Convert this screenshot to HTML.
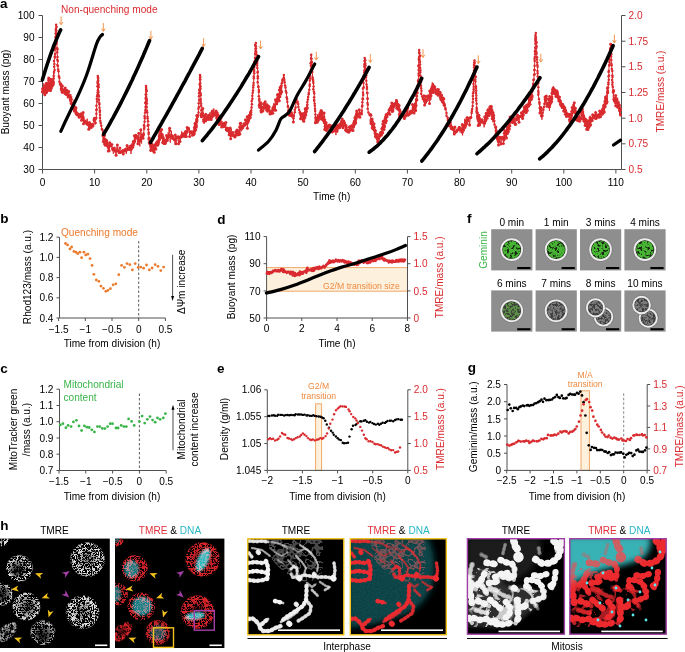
<!DOCTYPE html>
<html><head><meta charset="utf-8"><style>
html,body{margin:0;padding:0;background:#fff;width:685px;height:652px;overflow:hidden;}
svg{display:block;}
text{font-family:"Liberation Sans",sans-serif;font-size:10.1px;}
</style></head><body>
<svg width="685" height="652" viewBox="0 0 685 652">
<defs>
<radialGradient id="rg"><stop offset="0" stop-color="#fff" stop-opacity="0.5"/><stop offset="0.7" stop-color="#fff" stop-opacity="0.95"/><stop offset="0.9" stop-color="#fff" stop-opacity="0.85"/><stop offset="1" stop-color="#fff" stop-opacity="0"/></radialGradient>
<radialGradient id="rgA" cx="0.5" cy="0.5" r="0.5" fx="0.35" fy="0.6"><stop offset="0" stop-color="#fff" stop-opacity="0.1"/><stop offset="0.45" stop-color="#fff" stop-opacity="0.5"/><stop offset="0.85" stop-color="#fff" stop-opacity="1"/><stop offset="1" stop-color="#fff" stop-opacity="0.2"/></radialGradient>
<radialGradient id="rgR"><stop offset="0" stop-color="#fff" stop-opacity="0.15"/><stop offset="0.6" stop-color="#fff" stop-opacity="0.5"/><stop offset="0.85" stop-color="#fff" stop-opacity="1"/><stop offset="1" stop-color="#fff" stop-opacity="0.1"/></radialGradient>
<radialGradient id="rgD" cx="0.5" cy="0.5" r="0.5" fx="0.6" fy="0.5"><stop offset="0" stop-color="#fff" stop-opacity="0.25"/><stop offset="0.5" stop-color="#fff" stop-opacity="0.7"/><stop offset="0.9" stop-color="#fff" stop-opacity="0.95"/><stop offset="1" stop-color="#fff" stop-opacity="0.1"/></radialGradient>
<radialGradient id="rgF" cx="0.5" cy="0.5" r="0.5" fx="0.5" fy="0.7"><stop offset="0" stop-color="#fff" stop-opacity="0.1"/><stop offset="0.55" stop-color="#fff" stop-opacity="0.45"/><stop offset="0.85" stop-color="#fff" stop-opacity="0.9"/><stop offset="1" stop-color="#fff" stop-opacity="0.1"/></radialGradient>
<radialGradient id="rgr"><stop offset="0" stop-color="#e8262c" stop-opacity="0.2"/><stop offset="0.55" stop-color="#e8262c" stop-opacity="0.9"/><stop offset="0.9" stop-color="#e8262c" stop-opacity="1"/><stop offset="1" stop-color="#e8262c" stop-opacity="0"/></radialGradient>
<filter id="tq0" x="0" y="0" width="1" height="1"><feTurbulence type="turbulence" baseFrequency="0.42" numOctaves="2" seed="3" result="n"/><feColorMatrix in="n" type="matrix" values="0 0 0 0 1 0 0 0 0 1 0 0 0 0 1 -6 0 0 0 2.2" result="m"/><feComposite in="SourceGraphic" in2="m" operator="in"/><feGaussianBlur stdDeviation="0.4"/></filter>
<filter id="tq1" x="0" y="0" width="1" height="1"><feTurbulence type="turbulence" baseFrequency="0.42" numOctaves="2" seed="11" result="n"/><feColorMatrix in="n" type="matrix" values="0 0 0 0 1 0 0 0 0 1 0 0 0 0 1 -6 0 0 0 2.2" result="m"/><feComposite in="SourceGraphic" in2="m" operator="in"/><feGaussianBlur stdDeviation="0.4"/></filter>
<filter id="tq2" x="0" y="0" width="1" height="1"><feTurbulence type="turbulence" baseFrequency="0.42" numOctaves="2" seed="23" result="n"/><feColorMatrix in="n" type="matrix" values="0 0 0 0 1 0 0 0 0 1 0 0 0 0 1 -6 0 0 0 2.2" result="m"/><feComposite in="SourceGraphic" in2="m" operator="in"/><feGaussianBlur stdDeviation="0.4"/></filter>
<filter id="tw0" x="0" y="0" width="1" height="1"><feTurbulence type="turbulence" baseFrequency="0.42" numOctaves="2" seed="3" result="n"/><feColorMatrix in="n" type="matrix" values="0 0 0 0 1 0 0 0 0 1 0 0 0 0 1 -7 0 0 0 2.1" result="m"/><feComposite in="SourceGraphic" in2="m" operator="in"/><feGaussianBlur stdDeviation="0.4"/></filter>
<filter id="tw1" x="0" y="0" width="1" height="1"><feTurbulence type="turbulence" baseFrequency="0.42" numOctaves="2" seed="11" result="n"/><feColorMatrix in="n" type="matrix" values="0 0 0 0 1 0 0 0 0 1 0 0 0 0 1 -7 0 0 0 2.1" result="m"/><feComposite in="SourceGraphic" in2="m" operator="in"/><feGaussianBlur stdDeviation="0.4"/></filter>
<filter id="tw2" x="0" y="0" width="1" height="1"><feTurbulence type="turbulence" baseFrequency="0.42" numOctaves="2" seed="23" result="n"/><feColorMatrix in="n" type="matrix" values="0 0 0 0 1 0 0 0 0 1 0 0 0 0 1 -7 0 0 0 2.1" result="m"/><feComposite in="SourceGraphic" in2="m" operator="in"/><feGaussianBlur stdDeviation="0.4"/></filter>
<filter id="spotg0" x="0" y="0" width="1" height="1"><feTurbulence type="fractalNoise" baseFrequency="0.4" numOctaves="2" seed="5" result="n"/><feColorMatrix in="n" type="matrix" values="0 0 0 0 1 0 0 0 0 1 0 0 0 0 1 6 0 0 0 -2.0" result="m"/><feComposite in="SourceGraphic" in2="m" operator="in"/><feGaussianBlur stdDeviation="0.45"/></filter>
<filter id="spotg1" x="0" y="0" width="1" height="1"><feTurbulence type="fractalNoise" baseFrequency="0.4" numOctaves="2" seed="17" result="n"/><feColorMatrix in="n" type="matrix" values="0 0 0 0 1 0 0 0 0 1 0 0 0 0 1 6 0 0 0 -2.0" result="m"/><feComposite in="SourceGraphic" in2="m" operator="in"/><feGaussianBlur stdDeviation="0.45"/></filter>
<filter id="spot0" x="0" y="0" width="1" height="1"><feTurbulence type="fractalNoise" baseFrequency="0.45" numOctaves="2" seed="5" result="n"/><feColorMatrix in="n" type="matrix" values="0 0 0 0 1 0 0 0 0 1 0 0 0 0 1 6 0 0 0 -2.3" result="m"/><feComposite in="SourceGraphic" in2="m" operator="in"/><feGaussianBlur stdDeviation="0.4"/></filter>
<filter id="spot1" x="0" y="0" width="1" height="1"><feTurbulence type="fractalNoise" baseFrequency="0.45" numOctaves="2" seed="17" result="n"/><feColorMatrix in="n" type="matrix" values="0 0 0 0 1 0 0 0 0 1 0 0 0 0 1 6 0 0 0 -2.3" result="m"/><feComposite in="SourceGraphic" in2="m" operator="in"/><feGaussianBlur stdDeviation="0.4"/></filter>
<filter id="mw" x="0" y="0" width="1" height="1"><feTurbulence type="turbulence" baseFrequency="0.09" numOctaves="1" seed="3" result="n"/><feColorMatrix in="n" type="matrix" values="0 0 0 0 1 0 0 0 0 1 0 0 0 0 1 -12 0 0 0 1.9" result="l"/><feTurbulence type="fractalNoise" baseFrequency="0.1" numOctaves="1" seed="9" result="n2"/><feColorMatrix in="n2" type="matrix" values="0 0 0 0 1 0 0 0 0 1 0 0 0 0 1 10 0 0 0 -4.3" result="k"/><feComposite in="l" in2="k" operator="in" result="lk"/><feComposite in="SourceGraphic" in2="lk" operator="in"/><feGaussianBlur stdDeviation="0.5"/></filter>
<filter id="mw2" x="0" y="0" width="1" height="1"><feTurbulence type="turbulence" baseFrequency="0.16" numOctaves="1" seed="6" result="n"/><feColorMatrix in="n" type="matrix" values="0 0 0 0 1 0 0 0 0 1 0 0 0 0 1 -14 0 0 0 1.8" result="l"/><feComposite in="SourceGraphic" in2="l" operator="in"/><feGaussianBlur stdDeviation="0.6"/></filter>
<filter id="cyn" x="-0.1" y="-0.1" width="1.2" height="1.2"><feGaussianBlur in="SourceGraphic" stdDeviation="3" result="b"/><feTurbulence type="fractalNoise" baseFrequency="0.6" numOctaves="2" seed="4" result="n"/><feColorMatrix in="n" type="matrix" values="1 0 0 0 0 1 0 0 0 0 1 0 0 0 0 0 0 0 0 1" result="g"/><feComposite in="b" in2="g" operator="arithmetic" k1="0.7" k2="0.5" k3="0" k4="0"/></filter>
<filter id="blur1"><feGaussianBlur stdDeviation="1.2"/></filter>
<filter id="blur2"><feGaussianBlur stdDeviation="2"/></filter>
<filter id="blur3"><feGaussianBlur stdDeviation="3"/></filter>
<filter id="blur05"><feGaussianBlur stdDeviation="0.5"/></filter>
<filter id="blur07"><feGaussianBlur stdDeviation="0.7"/></filter>
</defs>
<text x="0" y="7.9" font-weight="bold" style="font-size:13.5px">a</text>
<line x1="42.5" y1="15.5" x2="42.5" y2="169.5" stroke="#505050" stroke-width="1"/>
<line x1="38.5" y1="169.5" x2="42.5" y2="169.5" stroke="#505050" stroke-width="1"/>
<text x="34.5" y="173.1" text-anchor="end">30</text>
<line x1="38.5" y1="147.5" x2="42.5" y2="147.5" stroke="#505050" stroke-width="1"/>
<text x="34.5" y="151.1" text-anchor="end">40</text>
<line x1="38.5" y1="125.5" x2="42.5" y2="125.5" stroke="#505050" stroke-width="1"/>
<text x="34.5" y="129.1" text-anchor="end">50</text>
<line x1="38.5" y1="103.5" x2="42.5" y2="103.5" stroke="#505050" stroke-width="1"/>
<text x="34.5" y="107.1" text-anchor="end">60</text>
<line x1="38.5" y1="81.5" x2="42.5" y2="81.5" stroke="#505050" stroke-width="1"/>
<text x="34.5" y="85.1" text-anchor="end">70</text>
<line x1="38.5" y1="59.5" x2="42.5" y2="59.5" stroke="#505050" stroke-width="1"/>
<text x="34.5" y="63.1" text-anchor="end">80</text>
<line x1="38.5" y1="37.5" x2="42.5" y2="37.5" stroke="#505050" stroke-width="1"/>
<text x="34.5" y="41.1" text-anchor="end">90</text>
<line x1="38.5" y1="15.5" x2="42.5" y2="15.5" stroke="#505050" stroke-width="1"/>
<text x="34.5" y="19.1" text-anchor="end">100</text>
<line x1="621.5" y1="15.5" x2="621.5" y2="169.5" stroke="#505050" stroke-width="1"/>
<line x1="621.5" y1="169.5" x2="625.5" y2="169.5" stroke="#505050" stroke-width="1"/>
<text x="628.5" y="173.1" fill="#d92b2f">0.5</text>
<line x1="621.5" y1="143.8" x2="625.5" y2="143.8" stroke="#505050" stroke-width="1"/>
<text x="628.5" y="147.4" fill="#d92b2f">0.75</text>
<line x1="621.5" y1="118.2" x2="625.5" y2="118.2" stroke="#505050" stroke-width="1"/>
<text x="628.5" y="121.8" fill="#d92b2f">1.0</text>
<line x1="621.5" y1="92.5" x2="625.5" y2="92.5" stroke="#505050" stroke-width="1"/>
<text x="628.5" y="96.1" fill="#d92b2f">1.25</text>
<line x1="621.5" y1="66.8" x2="625.5" y2="66.8" stroke="#505050" stroke-width="1"/>
<text x="628.5" y="70.4" fill="#d92b2f">1.5</text>
<line x1="621.5" y1="41.2" x2="625.5" y2="41.2" stroke="#505050" stroke-width="1"/>
<text x="628.5" y="44.8" fill="#d92b2f">1.75</text>
<line x1="621.5" y1="15.5" x2="625.5" y2="15.5" stroke="#505050" stroke-width="1"/>
<text x="628.5" y="19.1" fill="#d92b2f">2.0</text>
<line x1="42.5" y1="169.5" x2="621.5" y2="169.5" stroke="#505050" stroke-width="1"/>
<line x1="42.5" y1="169.5" x2="42.5" y2="173.5" stroke="#505050" stroke-width="1"/>
<text x="42.5" y="185.5" text-anchor="middle">0</text>
<line x1="94.6" y1="169.5" x2="94.6" y2="173.5" stroke="#505050" stroke-width="1"/>
<text x="94.6" y="185.5" text-anchor="middle">10</text>
<line x1="146.8" y1="169.5" x2="146.8" y2="173.5" stroke="#505050" stroke-width="1"/>
<text x="146.8" y="185.5" text-anchor="middle">20</text>
<line x1="198.9" y1="169.5" x2="198.9" y2="173.5" stroke="#505050" stroke-width="1"/>
<text x="198.9" y="185.5" text-anchor="middle">30</text>
<line x1="251" y1="169.5" x2="251" y2="173.5" stroke="#505050" stroke-width="1"/>
<text x="251" y="185.5" text-anchor="middle">40</text>
<line x1="303.1" y1="169.5" x2="303.1" y2="173.5" stroke="#505050" stroke-width="1"/>
<text x="303.1" y="185.5" text-anchor="middle">50</text>
<line x1="355.3" y1="169.5" x2="355.3" y2="173.5" stroke="#505050" stroke-width="1"/>
<text x="355.3" y="185.5" text-anchor="middle">60</text>
<line x1="407.4" y1="169.5" x2="407.4" y2="173.5" stroke="#505050" stroke-width="1"/>
<text x="407.4" y="185.5" text-anchor="middle">70</text>
<line x1="459.5" y1="169.5" x2="459.5" y2="173.5" stroke="#505050" stroke-width="1"/>
<text x="459.5" y="185.5" text-anchor="middle">80</text>
<line x1="511.7" y1="169.5" x2="511.7" y2="173.5" stroke="#505050" stroke-width="1"/>
<text x="511.7" y="185.5" text-anchor="middle">90</text>
<line x1="563.8" y1="169.5" x2="563.8" y2="173.5" stroke="#505050" stroke-width="1"/>
<text x="563.8" y="185.5" text-anchor="middle">100</text>
<line x1="615.9" y1="169.5" x2="615.9" y2="173.5" stroke="#505050" stroke-width="1"/>
<text x="615.9" y="185.5" text-anchor="middle">110</text>
<text x="331.7" y="199.8" text-anchor="middle">Time (h)</text>
<text x="9" y="92" text-anchor="middle" transform="rotate(-90 9 92)">Buoyant mass (pg)</text>
<text x="663.5" y="91.5" text-anchor="middle" fill="#d92b2f" transform="rotate(-90 663.5 91.5)">TMRE/mass (a.u.)</text>
<text x="61" y="13" fill="#d92b2f">Non-quenching mode</text>
<polyline fill="none" stroke="#d92b2f" stroke-width="1" points="42.4,91.7 42.6,88.8 42.6,89.1 43.1,91.2 43.3,90.5 43.4,90.2 43.3,92.4 43.8,91.1 43.7,83.4 44,87.7 44.3,89.1 44.6,86.9 44.7,90.4 44.8,94.8 45.1,93 45.1,86.3 45.4,88.4 45.7,89.5 45.7,85.3 45.9,92.7 46.1,89.2 46.4,83.2 46.5,92.6 46.4,87 46.9,85.2 47.1,87.6 47,90.6 47.5,90.8 47.8,88.8 47.8,83 48,85.2 48,82.9 48.1,85.3 48.6,80.1 48.4,87.7 49,88.7 48.7,78.1 49.2,84 49.1,89.8 49.6,86.9 49.7,87.7 50.1,88.2 50.1,87.9 49.9,90.2 50.4,87.5 50.1,83.3 50.6,79.2 50.6,88.6 50.5,90.5 50.9,84.3 51,86.9 51.1,88.4 51.1,82.9 51.4,84.3 51.3,87.2 51.7,82.3 51.4,83.2 51.7,82.5 52.1,79.8 52.2,78.9 52,85.1 52.4,85.8 52.4,83.2 52.5,84.5 52.5,83.3 52.8,82.2 52.9,83.9 53.2,82.9 53,80.4 53.1,84.6 53.2,82.6 53.7,72.4 53.3,81.2 53.7,78.4 53.7,75.9 54,72.1 54.6,70 54.2,66.8 54.4,64 54,60.9 54.9,57.5 54.9,56.4 55.2,54 54.9,49.7 55.2,47.7 55.6,42.3 55.7,40.5 55.6,37.7 55.6,37.1 55.6,33.5 55.9,30.7 55.8,29 56.1,24.8 56.6,26.9 56.3,30.5 56.3,34.1 56.5,36.9 56.2,38.1 56.8,41.4 56.6,43.8 57.2,48.3 57.4,49.6 57.2,52.2 57.5,57.1 57.3,59.7 57.8,61.1 57.4,65 57.9,66.1 58.1,69.6 58.5,71.2 58.9,76.2 59.4,77.9 59.4,81.8 60,84.3 60.5,83.8 60.2,84 60.5,87.6 61,84.4 61.2,88.7 61.5,90.4 61.7,90.2 62.2,92.2 62.3,90.7 62.4,85.9 62.8,91.9 63.3,89.4 63.8,89.7 64.1,90.8 64.8,90.7 65,93.5 65.2,88 65.6,94.4 65.8,90.4 66.4,94.5 66.6,95 66.9,90.3 66.9,92.1 67.5,92.8 67.5,92.7 67.7,94.8 68,96.5 68.1,96.9 68.7,91.4 69.2,96.2 69,95.1 69.7,96.6 70,100.2 70.3,99.5 70.6,100.8 70.8,94.1 71.1,103.4 71.2,99.2 71.7,96.4 71.7,107.7 71.7,103.7 72.3,102 72.3,105.1 72.3,103 72.7,105.9 72.9,103.7 72.9,103.7 73.4,105.4 73.4,103.4 74.1,109 74,99.8 74.2,108.2 74.6,108.5 74.5,109.3 74.4,111 75,107 75.3,114 75.1,108 75.6,110.7 75.7,108.1 76.3,113.8 76,108.1 76.6,114.6 76.9,114.6 76.7,113.7 76.9,111.4 77.6,115.1 77.9,113.8 78.5,115.5 78.9,115.4 79.2,117.3 79.6,113.5 79.9,116 80.3,116.8 80.7,117.2 81.1,113.8 81.5,120.2 81.9,117.3 82.2,115.7 82.3,118.7 82.8,120.8 83.1,112.4 83.5,123.7 83.9,116.4 84.4,121.6 85.1,121 85.7,122.6 86,122.6 86.7,123.8 87.2,118.7 87.5,123.6 88,124.8 88.5,124.7 88.7,129.3 89.4,122.4 89.6,130.1 89.9,125.9 90.5,124 90.5,124.8 91.2,127.6 91.6,125.1 92.1,126.2 92.5,124.6 93,126 93.3,122.4 94,119.9 94.4,118.3 94.9,124.7 95.6,123 95.7,119 96.3,117.7 96.4,113.7 96.3,110 96.7,109.4 96.4,105.7 97.1,101.5 96.8,99.1 97.2,96.2 97.4,94.9 97.6,92.6 97.9,90.3 97.4,86.3 97.5,83.1 97.8,81.3 98,77.4 97.8,76 98.1,78.4 98.2,80.7 98.5,84.3 98.4,86.1 98.5,87.2 98.5,92 98.5,94.8 98.9,96.2 98.9,99.7 99.3,103.1 99.4,104.5 99.5,107.7 99.9,110.6 99.8,111.9 100,115 100,118.1 100.3,120.9 100.7,123.1 101.3,125.7 101.8,129.1 102.5,130.1 102.9,135.6 103.3,141.5 103.5,139.3 103.8,138.9 103.9,136.5 104.1,134.5 104.5,135.2 104.5,143.8 104.7,138.8 105.1,139.3 105,140.3 105.4,142 105.4,145.2 106,141.1 106,140.4 106.4,140.2 106.6,141.2 106.7,144.7 107.4,143.2 107.4,145.8 107.8,144.9 108.3,147.4 108.3,150.9 108.7,147.4 109,145.6 109.1,150.8 109.9,143.4 109.8,142.8 110.6,146.1 110.9,146.9 111.3,145.2 111.8,144.6 112.2,149.5 112.7,148.4 112.9,149.8 113.4,153.8 114.1,149.4 114.4,147.9 114.9,148.9 115.5,151.2 116.1,155.3 116.4,149.9 117.4,145.1 117.4,150.4 118,151.1 118.4,151.1 119,152.4 119.2,148.2 119.9,148 120.3,152.5 120.8,152.7 121.5,152.1 121.9,151.2 122.1,151.6 122.9,150.4 123.3,153.9 123.6,153.4 124.5,150.1 124.7,150.9 125.4,151.8 125.7,149 126.1,150.5 126.3,154 127.1,145.5 127.6,149.4 128.1,150.5 128.4,148.8 129.3,147.6 129.5,145.4 130,149.6 131,149.6 131,153.9 131.1,145.9 131.5,148.6 131.5,143.7 131.9,146.9 131.9,145.3 132.2,146.6 132.5,144.7 132.7,147.2 133.2,143.1 133.3,141.6 133.4,145.1 133.9,141.7 133.9,142.7 133.9,141.8 134.2,142.3 134.4,135.8 134.8,141.1 134.9,142.3 135.4,138.1 135.9,135.2 136.2,138.9 136.8,138.1 137.2,136.5 137.6,142.2 137.9,143.7 138.2,138 138.7,141 138.8,133.3 139.4,141.2 139.8,146.4 140,140.7 140.4,140.5 140.8,135.9 140.8,129.8 141.3,137.4 141.6,143.5 141.8,136.8 142,134.9 142.3,138.3 142.7,136.4 143,138.2 143.4,135 143.7,134.9 143.6,133.4 144.1,128.7 144.4,126.9 144,125.2 144.6,121.8 144.8,118.2 144.6,116.3 145.1,112.5 145.4,110.1 145.5,107 145.4,103 145.4,102.5 145.9,99 145.7,97.9 145.7,94.6 146.2,91.4 146.2,88.1 146,85.9 146.1,89.6 146.7,90.8 146.2,94.4 146.2,97.1 146.7,99.1 146.8,100.8 146.9,103.4 146.7,106.9 146.9,110.7 147.2,112.4 147.5,116.8 147.6,118.5 148,121.2 147.7,125.7 148.5,124.9 148.3,129.6 148.7,132.5 148.6,133.9 148.9,138.3 148.8,139.4 149.2,138 149.4,142.3 149.7,142.1 149.7,143.4 150,143.2 150.3,147.3 150.7,150.3 150.6,145.3 150.5,151.8 151,147.2 151.4,144.3 151.6,148.2 151.5,149.5 152.2,144.4 152.3,150.2 152.7,150.5 153.2,148.3 153.5,147.5 153.9,146 154.2,152.3 154.7,147 154.8,144.9 155.3,149 155.6,147.4 155.9,149.1 156.1,143.6 156.6,144.7 156.7,142.6 157,145.2 157.2,140 157.4,143.1 157.4,144.2 157.7,140.8 158,144.6 158,141.9 158.2,146.3 158.4,142.9 158.6,141.4 159.2,132.2 159,139.6 159.2,136.1 159.7,137.6 159.3,139.1 159.5,139.4 159.9,136.3 160.3,135.7 160.1,130.6 160.7,136.4 160.6,136.2 161,136.2 160.7,134.2 161.4,137.3 161.6,129.5 161.7,137.7 162.2,134.4 161.9,137.5 162.3,136.7 162.5,136.3 162.6,137.4 162.8,137.5 162.7,142.6 163.2,138.8 163.3,143.3 163.3,140.9 163.7,143 163.8,136.7 164.2,143.5 164.2,142.4 164.4,142.5 164.5,141.2 164.8,141.1 165,143.9 165.2,143.5 165.5,142.3 166.2,141.4 166.1,140.6 166.5,135.5 166.6,140 166.9,139.3 167.3,140.6 167.6,139.7 167.7,137.7 168,136.4 168.2,132.3 168.5,136.3 168.6,135.8 169.1,135 169.6,128.2 169.7,130.6 170.3,142.6 170.1,136.3 171,135.5 171.4,130.8 171.9,138 172.2,135.8 172.6,136.4 173,136.7 173,138.3 173.8,140.6 174,138.9 174.7,139.7 175.2,144.8 175.3,135 176,143.8 176.5,141.7 176.7,137.6 177.4,136.9 177.5,136.4 178.6,143.8 178.6,136.8 179.3,136.5 179.9,138.1 180,141.5 180.6,138.5 181.1,136.9 181.6,135.7 181.6,131.4 182.1,134.7 182.6,136.5 183,136.2 183.1,133.7 183.2,134.7 183.9,136.1 184.2,133.9 184.6,134 184.9,135.1 185.2,136.6 185.4,131.8 185.7,130.3 186.3,136.5 186.4,133.1 186.9,133.3 187.2,127.5 187.3,131.6 187.9,130.3 188,129.3 188.5,128.2 189.3,129 189.6,136.4 190.2,131.8 190.4,132.2 191.2,133 191.6,131.8 192,131.2 192.5,135.3 192.6,132 193.4,130.8 193.8,134.5 194.2,133.6 194.1,127.5 194.5,131.2 194.4,127.6 194.5,127.2 194.7,130.8 194.8,129.8 194.9,132.3 195,123.4 195.3,125.6 195.3,126.2 195.6,123.6 195.7,129.9 196,125.3 196,124.9 196.2,126.6 196.3,118 196.5,121.4 196.7,121.6 196.8,128.4 196.8,119.3 196.8,115.5 196.9,122.2 197.3,115.9 197.2,120.8 197.6,117.1 198,115.6 198.5,112.4 198.4,108.8 198.9,106.9 198.7,103.3 199.1,100 199,96.2 199.1,93.2 199.6,92.1 199.2,90 199.7,84.6 200,84 200.2,79.6 200,78.1 200,75.1 200.3,76.7 200,79.6 200.2,83.1 200.5,86.6 200.5,88.7 200.5,92.9 200.9,95.1 200.7,99.2 200.7,101.5 201.2,103.8 201.2,106.1 201.3,110.2 201,114.7 201.3,116.8 201.6,113.4 202,113.4 202.3,113.3 202.6,115.2 202.8,108.4 203.2,116.1 203,116.7 203.6,119.6 203.7,121.3 204.1,123.9 204.3,119.9 204.6,115.7 205.1,121.4 205.6,121 205.7,114.2 206.1,116.5 206.5,119.5 207.1,117 207.5,117.1 208,119.2 208.5,115.2 208.6,120.4 209.3,119.3 209.4,115.3 210.1,112.2 210.5,117.5 211.2,119.5 211.3,111.4 211.9,117.2 212.3,111.1 212.8,116.2 213.1,112.6 213.5,115.6 213.8,108.4 214.3,114.2 214.7,114.9 215,112.1 215.4,113.5 216.1,111 216.4,116.2 216.3,114.2 216.6,112.7 216.5,110.9 216.8,117.6 216.9,115.7 217,115.5 217,118.3 217.3,113.1 217.4,114.3 217.8,119.7 217.6,119.8 218.1,116.4 217.9,116.5 218.2,119.8 218.4,114.1 218.7,115.8 218.9,117.2 218.9,118.6 219,124.6 219.4,123.3 219.5,118.2 219.5,121.3 219.9,124.2 220.4,121.2 220.9,117.9 221.6,126.9 222,121.1 222,124.3 223.1,124.8 223.5,128.1 224,123.3 224.5,126.6 224.5,123.8 225,124.7 225.8,122.4 225.7,129 226.3,129.8 226.4,129.2 227.2,132.1 227.1,127.9 227.4,130.3 227.9,128.3 227.8,130.4 228.2,130.5 228.6,133.5 229.1,128.5 229.2,134.7 229.4,131.7 229.9,134.2 230.1,127.9 230.2,132.4 230.7,138.8 230.8,135.5 231.3,128.6 231.4,133.8 231.7,133.4 232.4,131.9 232.9,132.5 233.3,135.8 233.8,135.3 234.6,134.9 234.9,136.9 235.2,137.4 235.3,135.8 235.8,131.8 236.4,131.2 236.8,134.8 237,130.1 237.3,136.1 237.5,131.5 238.2,132 238,129.5 238.5,131.6 238.8,134.8 239,131.2 239.6,126.9 239.9,133.9 239.8,125.9 240.2,123.6 240.7,123.2 241.1,131.4 241.2,126.5 241.5,129 242.1,125.9 242.7,127.7 243,126 243.4,125.9 243.7,125.5 244,123.7 245,124.9 244.9,125 245.4,119.7 245.8,125.6 246.4,123.1 246.6,120.2 247.4,123.3 247.2,116.7 247.4,128.2 247.6,121 248,120.4 248.1,116.7 248.1,124.2 248.3,121.5 248.4,118.1 248.9,121 248.8,119.4 249.2,115.4 249.4,114.5 249.4,116.3 249.3,115.6 249.7,111.6 250,116.9 250.2,117.7 250.3,110.6 250.9,114.5 251,112.3 251.2,110.5 251.5,107.6 251.9,104.3 251.7,100.9 252.4,98.7 252.3,95.8 252.7,92.8 253,90.6 253.2,87.6 253.4,85.2 253.6,83 253.8,78.3 253.8,76.6 254.2,73.2 254,71.5 254.2,69.7 254.3,66.9 254.3,61.9 255,60.9 255,57.9 255.1,54 255.4,51.6 255.5,49.1 255.1,45 255.9,42.9 255.8,46.2 256,48.6 256.3,52.1 256.8,55 257,59.2 257.2,61.3 257,63.3 257.1,65.3 257.3,68.1 257.8,71.7 257.6,72.4 257.8,76.3 257.8,78.3 257.7,82.3 258.3,86.6 258.4,87 258.9,89.9 258.8,92.1 258.8,96.3 259.3,99.1 259.2,100.4 259.3,105.5 259.4,105 259.9,107.7 259.8,107.3 260,103 260,108.5 260.6,104.5 260.5,105.6 261.1,109.6 260.8,102.8 261,111.1 261.5,107.8 261.3,107.7 261.3,111.9 261.6,112.8 261.6,107.2 262.3,108.1 262.8,109.8 262.9,111 263.5,104 264.1,109.9 264.3,103.4 264.4,107 265.1,103.7 265.2,101.8 265.6,107.6 265.8,104.8 266.5,110.1 266.9,104.8 266.9,103.6 267.3,106.9 267.7,111.2 268,104.6 268.5,110.2 268.5,106.3 268.5,106 269.2,107 269.2,110 269.7,111.5 270.1,114.1 270.1,113.4 270.4,113.1 270.9,112.3 271.3,112.1 271.6,114.8 271.7,111.5 271.8,111.2 272.1,112 272.8,113.3 272.7,108.9 272.7,109.9 273.1,107.6 273.5,108.3 273.7,103.3 273.7,109.6 274,110 274.2,108.4 274.1,105.7 274.3,108.7 274.9,106.1 275,104.7 275.6,110.2 275.5,108.6 275.5,99.8 275.9,102.1 276.1,104.4 276.9,101.7 276.7,103.7 276.9,104.9 277.4,98.8 277.4,100.9 277.6,97.2 277.5,94.7 278,100.7 278.1,93.6 278.1,97.3 278.1,96.4 278.5,99.7 278.5,99.1 278.6,97.5 278.8,98.2 278.9,95.9 279,94.1 279.5,96.6 279.3,100.8 279.6,90.3 279.6,96 279.9,96.8 279.9,89.8 279.8,93.1 280.1,89.2 280.1,90.3 280.3,91.8 280.3,87.2 280.7,94.1 280.6,92.1 280.8,90.7 281,86.5 281.1,90.6 281,92.6 281.6,91.7 281.7,88.4 281.4,85.5 281.8,83.3 282.4,81 282.5,79.6 283.9,75 284,78 284.3,80.1 284.6,82.3 285.1,85.6 285.5,87.6 285.9,90.9 286.4,92.8 286.7,97.2 287.1,98.9 287.3,101.8 287.9,106 288,107 288.5,110.4 288.7,111.1 289.2,115.1 289.4,111.1 290,110.9 290.3,115.4 290.7,112.2 291.1,114.4 291.5,113.4 292,111.6 292.2,116.3 292.7,115.1 293,115.6 293.4,121.9 293.6,118.2 293.9,115.8 294.8,112.2 294.8,109.7 295.6,107.5 296,102.3 296.1,102.1 296.5,99.1 297.7,101.8 298.2,103.9 298.4,107 299.2,110 300,112.6 300.2,114.6 300.5,118.7 300.8,114.6 301,113.2 301.5,115.7 301.4,114.3 301.8,115.1 302.3,113.7 302.5,117.5 302.5,117.7 302.9,119.4 303.2,119.3 303.3,116.2 303.8,121.2 303.8,116.5 304.1,112.1 304,118.8 304.4,113.9 304.2,119.9 304.6,113.3 304.8,117.5 304.6,117.6 305.2,108.8 305.4,109.1 305.6,114.3 305.9,111.2 305.8,115 305.8,110 306,111.2 306.1,112.1 306.5,110.6 306.8,109.1 306.9,108 307,103.9 307.1,108 307.1,107.5 307.4,104.7 307.3,102.1 307.9,99.4 308.1,97 308.7,94.2 308.8,92.8 309.3,89.7 309.7,86 309.7,84.4 309.8,80.6 310.1,78.2 310.2,75.8 310.3,72.8 310.8,69.9 310.9,65.7 310.6,63.3 311.2,62.1 311,58.4 311.2,54.7 311.5,58.7 311.8,61.9 311.8,64.5 312.3,66.6 312.4,68.9 312.3,71.9 312.6,77.4 312.8,79.2 313.2,80.9 313.4,82.9 313.6,86.4 313.3,89.2 313.9,91.7 314.3,93.6 314.2,97.2 314.1,100.1 314.2,100.8 314.7,103.5 314.8,105.7 315,108.7 315.2,111 315.4,114.6 315.5,117.4 315.7,119 315.4,122.8 315.9,121.1 316.4,116.7 316.4,119.8 316.6,121.8 317,118.4 317.1,122.2 317.4,121.1 317.8,114.2 317.8,118.7 318.3,120.3 318.6,120.5 318.7,116.9 319.1,115.9 319.4,112.4 319.6,115.6 319.4,118.2 320,115.3 320.1,113.6 320.7,112.2 320.2,111.7 320.8,113.1 321.1,110.6 321.3,116.2 321.3,119 321.7,111.6 322,116.4 321.9,117.3 322,113.4 322.6,115.6 322.4,118.1 323,117.2 322.7,116.8 323.2,120.2 323.6,118 323.5,119 323.9,117.1 324.1,112.9 324.2,118.8 324.3,122.8 324.3,121.3 324.7,123.5 324.7,119.8 324.7,129.5 325.1,122.8 325.1,126.3 325.5,128 325.8,124.8 326,122.4 326,124.2 326.1,126.2 326.4,130.4 326.1,125.4 326.7,126.4 327.4,128.7 327.9,126.5 328.5,128.7 328.7,127.2 329.3,124.9 330,128.2 330.5,125.9 331,126 331.6,130.3 332.3,132 332.4,127.6 332.9,129.8 333.8,131 333.7,126.1 334.3,130.8 335,130.4 335.8,127.7 335.9,135.1 336.3,127.6 336.2,125.2 336.4,128.9 337.1,130.9 337.3,126.1 337.5,132.4 337.6,127.5 338.2,128.2 338.4,127.5 338.8,125.4 338.9,124.9 339.1,124.4 339.5,125.1 340,127.5 340,125.2 340.4,125.2 340.6,123.5 340.8,120.4 341.3,125.4 341.5,122.7 341.7,120 341.7,122.4 342.2,118.9 342.3,124.1 342.5,125.8 343.1,127.8 343.2,122 343.5,122.9 343.8,121 344.3,121.3 344.3,125.3 344.6,123.1 345,123.8 345.1,124.9 345.5,130 345.6,128.6 346,125.5 346.3,127.6 346.8,131.9 346.8,131.3 347.3,130.3 347.4,131 347.7,130 348,131.3 348.5,132.9 348.7,132.3 349.3,127 349.7,125.6 350,130.3 350.6,129.2 350.7,126.1 351,129.9 351.5,125.7 352.1,125.3 352.3,125.8 353,130.5 353.2,122.3 353.4,126.1 353.6,126.9 353.6,127.4 354,125 353.9,122.8 354.3,120.7 354.3,121.1 354.3,124.1 354.6,122.2 354.9,117.7 355,121.9 355.3,117.8 355.4,120.8 355.7,122.7 355.7,124.8 355.8,117.6 355.9,115.8 356.1,112.9 356.2,118.4 356.6,115.9 356.8,114.7 356.7,111 356.8,113.3 357.6,116.5 357.7,116.3 358.4,114.1 358.9,113.7 359.3,109.7 359.8,117.2 360.5,113 360.7,112.9 361.4,114.1 361.7,113.3 361.9,110.7 362.1,106.5 362.3,105.5 362.3,102.2 362.8,99.3 362.7,98.5 363.2,95 363,92.8 363,88.5 363.7,87.2 363.5,83 363.8,79.1 364,78.2 363.9,75.4 364.3,72.3 364.4,70.4 364.3,66.5 364.4,64.3 364.5,61 364.7,57.9 365.2,60.3 365.3,63.6 365.5,65.5 365.6,68.8 365.5,71 365.8,73.4 366.3,75.4 365.9,77.3 366.3,80.8 366.5,84.4 367,86.9 366.9,88.7 367.1,93 367.4,93.1 367.5,98.5 367.6,98.8 367.5,103.1 367.8,104.7 367.7,108.7 368.4,112.4 369.5,114.8 370.1,116.3 370.5,114.6 370.9,115.3 370.6,119.4 371,121.6 371,119.7 371.2,119.3 371,123.6 371.5,122.1 371.5,122.8 371.8,122.5 372.1,118.9 372.1,121 372.2,127.9 372.2,124.4 372.4,127.5 372.5,121.4 372.9,125.2 372.9,129.3 373,126.1 373.3,128.6 373.3,130.6 373.9,127.5 374,123.8 374.1,128.7 374,129.2 374.1,127.3 374.4,134.2 374.8,130.6 374.7,130.2 374.9,136.9 375.3,133.2 375.4,130.8 375.8,135.8 375.7,136.8 375.9,136.4 376.1,134.3 376.5,136.9 376.8,134.2 377.1,140.1 377.1,138.4 377.2,137.4 377.3,138.4 377.7,142.1 378.1,140.3 378.2,137.2 378.4,137.9 378.5,138.8 378.8,135.1 379.3,134.7 379.7,135.3 380,138 379.9,135.6 380.5,133.3 380.5,132.3 380.8,132.3 381.1,135.2 381.5,132.6 381.6,134 381.8,128.7 382.2,128.6 382.5,128.1 382.9,127.4 382.8,133.3 382.7,132.7 382.9,124.1 383.2,129.8 383.2,121.3 383.3,126.3 383.4,125.9 383.3,124.7 384,129.5 383.8,123.4 384,127.3 384.2,121.2 384.2,124 384.5,126.2 384.5,125.7 384.5,126.1 384.6,122.7 385,119 384.8,116.4 385.1,120.1 385.1,121 385,119.2 385.4,118.1 385.7,122.7 385.6,115.5 385.7,117.6 386,114.7 386.2,113.8 386.3,117 386.4,120.8 386.6,114.6 387,116.7 387,114.9 387.4,115.3 388,113.5 388.1,113.4 388,114.5 388.8,112.5 389,109.9 389.4,114.3 389.7,114.3 389.6,109.4 390.3,110.1 390.3,108 391.1,106 391,106.1 391.4,110.1 391.8,103 392.2,106.2 392.2,111.4 392.6,103.7 392.8,104.6 393,105.2 393.6,106.5 393.6,112.1 393.9,105.1 394.4,106.3 394.6,105.1 395.2,103.8 395.1,103.9 395.4,101.8 395.8,103.2 396.1,104 396.2,99.1 396.5,102 396.8,101.7 396.8,104.6 396.5,100.6 396.9,108.3 397,107.6 397.5,107 397.6,105 397.7,107.3 397.9,109 398,105.9 398.1,109.2 398.1,105.5 398.5,107.8 398.6,103 398.8,109.5 399.1,105.6 399.1,112.3 399.4,114.5 399.6,109.4 399.7,111.7 399.7,116.8 400.1,111.2 400.5,111.6 401.1,115.1 401.5,115.5 401.6,117.5 402,114.1 402.4,115.7 403,114.4 403.2,116.3 403.4,114 403.9,118.1 404.4,118.6 404.7,116.7 405.1,114.9 405.3,116.3 405.6,115.5 406.1,115 406.6,114 406.9,111.4 407.4,113.1 407.8,107.9 408,115.3 408.1,113.4 408.9,114.2 409,114.2 409.6,110.8 410.1,112.8 410.4,111.4 410.8,112.4 411.2,113 411.3,110.9 411.9,110.2 412.2,112.1 412.5,104.6 412.9,110.6 413.2,107.8 413.7,109 413.8,107.2 414.1,105.8 414.1,113 414.5,110.2 414.7,108.5 414.4,109.5 415,107.3 414.7,108.7 415.3,103.8 415.3,106.5 415.4,106.8 415.6,105.3 415.7,99.3 415.7,110.5 416,105.4 416.3,105.9 416.4,99.6 416.5,95.7 416.6,102.4 416.4,100.1 417.1,100.1 416.9,96 416.8,93.1 417.5,92.8 417.3,89.7 417.8,85.6 418.3,81.4 418,80.9 418.6,79.5 418.7,75.6 418.6,73.7 418.6,70.1 418.6,66.6 418.5,65.6 418.8,59.7 419,58.4 419.1,57 419.2,52.5 419.2,49.9 419.3,52.9 420.2,55.8 419.5,59.8 420,61.8 420.1,64.6 420.2,67.9 420.4,70.6 420.2,72.2 420.3,75.6 420.8,77.1 420.8,82.1 421.1,81.8 421,85.8 421.1,88.3 421.5,90.8 421.2,93.8 422.2,96.6 422.9,98.7 423.6,102.2 423.9,95.8 424.6,99.4 424.6,103.2 424.6,104.9 425.2,102.8 425.5,101.5 425.9,100.3 425.9,96.2 426.5,103.1 426.7,100.4 427.3,100 427.9,94.7 428.3,97.7 428.7,95.7 429.1,94.9 429.5,103.6 430.1,96.7 430.1,93.7 429.7,91.1 430.2,98.9 430.3,92.2 430.4,91.7 430.4,93.1 430.6,91.2 430.7,90.4 431,95.8 431,97.4 431,91.9 431.2,90.3 431.5,91.7 431.7,88.4 431.5,88.8 431.9,87 432.1,92.5 431.9,88.7 432.3,82.4 432.4,86.2 432.2,89.6 432.6,84.6 432.8,86.9 433.1,87.2 433.3,83.2 433.5,86.9 433.4,92.4 434,84.7 434.1,88.5 434.7,86.8 434.9,86.4 435.1,88.8 435.4,91.2 435.7,90.3 436.1,93.6 436.4,91.4 436.6,89.2 436.9,93.3 437.3,90.9 437.5,88.4 438.1,95.3 438.4,89.5 438.7,93.9 438.9,94.6 439.4,92 439.6,96.5 440.2,92.6 440.4,97.5 440.8,94.9 441.1,95.4 440.9,99.4 441.2,97.9 441.5,95 441.5,97.5 442,95.9 442.2,99.5 442.1,100.1 442.5,97.6 442.3,101.2 442.6,101.9 442.7,100.9 443,98 443.3,102.6 443.5,99.7 443.8,98.7 444,104.8 444.4,106.3 444.4,105.2 444.5,104 445.3,108 445.6,109.2 446.5,113 446.5,115.7 447.7,117.7 447.9,119.9 448.3,125.5 449.1,123.6 448.9,125.7 449.2,126 449.6,122.1 449.6,124.9 450.1,126.3 450.4,122.5 450.6,124.9 450.8,127.8 450.9,126.8 451.2,128.5 451.5,127.1 451.9,127.1 452.3,127.6 452.5,130.4 452.7,129.2 453.3,129 453.8,134.6 454.3,134.1 454.9,126.9 455,132 455.5,132.2 456.5,131.5 456.8,130 457.3,129.9 457.8,129.8 458.6,129.1 459,127.8 459.4,127.2 460,132.4 460.6,129.5 461.2,129.8 461.7,131.4 462.3,124.5 462.2,132.2 462.6,135.4 462.8,128 463.3,130.3 463.6,129.7 463.5,129.8 463.7,126.4 463.9,126.5 464.4,125.4 464.5,124.9 464.8,118.8 464.9,125.7 465,127.4 465.4,127.6 465.7,125.6 465.8,120.8 466,121.9 466.3,121.4 467,118.1 466.9,120.5 466.9,123.6 467.2,117.8 467.7,120.1 467.9,120.8 468.5,118.2 469.2,120.6 469.6,125 470.2,117.8 470.6,118.7 470.7,117.6 471.1,117.6 471.6,113 471.8,111.1 472.2,108.9 472.7,106 472.8,102.2 473,99 472.9,96 473.1,93.3 473.6,91.4 473.7,89.3 473.7,86.7 473.5,84 473.6,80.3 474,79.8 473.7,76.8 474.1,72.2 474.1,70.5 474.2,67.3 474,65 474.5,62.9 474.5,60.5 474.4,62.5 474.8,66.1 474.9,68.5 475.1,72.6 474.8,73.8 475.9,76.8 475.2,79.5 475.4,81.6 475.9,86.2 476,88.1 476.2,90.5 476,93 476.3,95.6 476.2,98.2 476.2,100.5 476.6,103.7 476.7,107.8 476.8,109.4 476.7,111.3 477.1,112.7 477.2,112.7 477.3,115.7 477.6,115.4 477.5,117.5 477.8,121.6 477.9,116.5 478,119.5 478.2,120.6 478.2,125.5 478.8,119.7 478.5,120.7 478.9,115.2 479,117.6 479.2,125.2 479.4,118.5 479.6,125 479.5,124.5 479.9,122.9 479.8,122.8 480.2,119.3 480.7,122 481.1,120.2 481.3,122.5 482.1,119.7 482.5,121.9 483.1,122.5 483.5,122.6 484.2,121.9 484.1,127.3 484.3,123.6 484.4,121.9 484.3,121.2 484.7,116.7 484.8,122.8 485.3,115.7 485.6,117.3 485.5,119.2 485.6,114 485.8,120.6 486.3,113.2 486.5,116.8 486.6,116.3 486.7,113.2 486.7,113.5 487,116.3 487.1,118.3 487.3,112.4 487.7,114.5 487.8,110.2 487.9,108.4 488.4,114.7 488.8,112.8 488.8,113 489.1,110 489.2,115.6 489.2,106.2 489.5,111.2 490,108 490.2,108.2 490.4,106.6 490.6,107.4 491,112.6 490.7,108.8 491,110.4 491.3,110.4 491.4,106.6 491.2,113.6 491.7,107.6 491.9,112.1 491.4,113.2 491.8,114.3 492,110.1 492,111.9 492.4,111.2 492.2,118.8 492.8,115.6 492.6,111.3 492.6,116.3 493.1,112.7 493,115.2 493.1,117.6 493.6,115.2 493.5,120.1 493.5,117.4 493.5,121 493.7,118.3 494.3,121.1 494.5,124.5 495.5,127.6 495.8,127 495.6,135.7 495.9,127.8 496.1,133.7 496.1,130.4 496.5,130.8 496.7,136.1 496.8,133.1 496.9,133 497,135.9 497.2,138 497.7,134.7 497.5,138.6 497.7,136.5 497.7,140.1 498,139.3 498,140.1 498.4,138.6 498.5,145 498.3,141.5 498.5,137.1 499.2,141.7 499.7,137.2 500,138.5 500.7,137.6 500.9,143.9 501.5,138.9 502.1,137.6 502.6,138.2 503.2,135.7 503.4,143.4 503.8,140 504.2,139 504.3,133.2 504.3,139.1 504.9,137.7 504.7,130.4 505.1,132.3 505.5,132.3 505.9,132.8 505.8,136.1 506.2,131.2 506.5,137.9 506.4,132 506.6,127.2 507.1,133.4 507.3,132.3 507,130.7 507.4,127.3 507.6,131.7 507.9,134.3 508.2,124 508.4,131.6 508.5,124.9 508.9,124.1 508.8,122.2 508.8,122.2 509.4,129 509.3,122.2 509.6,126.1 509.5,121.7 509.9,126 510.1,124.9 510.1,117 510.5,120.5 510.9,121.6 511.4,120.3 512,122 512.3,123.3 512.8,122.4 512.8,119.5 513.7,122 514,121.7 514.2,118.5 514.6,122.9 515.2,124.2 515.6,124.2 516,116.1 516.7,119.7 517,119.1 517.2,118.7 517.5,114.9 518,116.3 518.3,117.1 519,122.3 519.6,116.7 519.9,116 520.3,116.2 520.5,116.2 520.8,116.9 521.4,112.7 521.8,116.6 522.2,116.1 522.6,118.5 522.7,113.8 523.1,117.4 523.4,115.1 523.4,111.3 524.1,111.6 524.4,110 524.3,107.4 524.7,111.7 525.2,111 525.1,106.6 525.4,112.2 525.7,112.5 526,108.8 526.2,108.9 526.2,112.4 526.7,104.9 527,107.9 527.3,110.4 527,107.7 527.9,103.4 527.7,106.1 528.2,105.9 528.2,103.3 528.6,106 529.1,104.4 528.9,97.1 529.3,102.3 529.3,99.7 529.6,97.1 529.7,101.6 530,104.2 530.1,100.6 530.4,95.9 530.4,99.6 530.8,96.9 531,99.5 530.8,94.2 531,97.9 531.5,98.9 531.8,95.2 532,98.2 532.1,96.9 531.9,95.5 532.3,91.4 532.7,89.7 533,86.5 533.1,84.1 533.5,80 533.9,79.5 534.1,74.7 534.6,74.2 534.3,70.1 534.5,69.9 534.6,65.7 534.7,60.9 534.5,58.7 534.9,57.1 535.2,54.2 535,51.8 535,51 535.2,47.7 535.4,43.4 535.4,40.9 535.4,38.7 535.4,35.6 535.8,33.1 535.8,37.3 535.9,39.4 536.3,42.1 536.5,42.7 536.7,46.5 536.1,48.6 536.3,51.8 536.5,53.6 537,57.2 536.9,59.5 537.2,62.6 537.3,65.1 537.6,66.8 537.5,71 537.6,73.2 537.7,76.6 538.2,79.1 538,82.3 538.1,83.3 538.3,87.3 538.3,90.9 538.5,92.7 538.3,94.8 539,99 539.4,102.3 539.5,104.1 539.6,107.9 539.9,113 540.2,106.8 540.6,107.3 541.1,109.7 541.1,112.1 541.3,108.6 541.4,115.8 542,119.7 541.9,115.9 542.4,115.6 542.7,112.8 543.4,110.1 544,106.9 544.4,103.8 544.9,99.5 545,97 545.3,102.3 545.6,100.3 546,96.7 545.9,104.9 546.3,96.1 546.6,98.9 547,105.4 547,106.3 547.2,105.8 547.7,103.6 547.7,103.6 548,103.2 548.4,108.2 548.9,99.1 549.5,106.8 549.4,110.8 549.8,105 549.7,96.6 550,106.3 549.9,99.7 550.1,98.5 550.3,104.4 550.6,102.6 550.6,103.3 550.9,100.1 550.6,98.3 550.7,97.6 551,100.3 551.2,99.1 551.2,99.5 551.5,99.9 551.8,96.7 551.6,101.4 551.8,97.5 551.9,98.5 552,92.9 552.2,93.8 552.4,93.5 552.4,93.4 552.6,91.9 552.8,89.3 552.7,90.7 553,92.1 553.1,90.7 553.1,88.1 553.2,89.2 553.5,91 553.7,89.3 553.6,86.3 553.8,89.5 554.4,89.5 554.7,94.4 554.6,93.1 555.2,93.9 555.3,93.3 555.6,91.1 556,96.4 556.2,94.6 556.6,90.8 556.9,94.8 557.1,95.1 557.3,91.7 557.6,93.9 557.5,90.7 557.8,96.1 557.9,96.4 557.9,97.5 558.4,97.7 558.4,97.6 558.7,100.7 558.8,99.1 558.9,101.1 559.3,98.1 559.4,100.7 559.4,97 559.9,96 559.8,100.4 560.1,100.7 560.1,103.9 560.3,101.5 560.5,104.3 560.8,102.4 561,103.2 561.1,105.3 561.6,108.7 561.8,106.5 562.3,105.6 562.4,106.7 562.6,104.2 563.2,107.7 563.3,104.4 563.6,111.1 563.7,106.2 564.3,112.7 564.7,108 564.8,107.9 565.1,109.3 565.3,114.2 565.6,110.5 565.9,112.2 566.1,112.5 566.5,116.5 566.4,109.8 566.8,115.5 567.7,114.2 567.6,117.1 567.5,114.1 567.7,115.4 568.4,114.2 568.8,114.3 569.2,116.3 569.4,123.3 569.6,119.5 569.8,120.8 570.3,118.4 570.5,121.7 570.7,117 570.7,119.4 570.6,114.5 571.1,117.1 571.4,119.7 571.4,115.8 571.3,113.7 571.7,113.1 571.8,114.8 571.8,111.3 571.9,115.2 572.1,107.4 572.6,110.8 572.8,109.9 573.1,112.2 573,110.2 573.1,111.5 573.6,107.8 573.3,110 573.7,104.1 573.6,104.9 574,108.3 573.9,104.6 574.3,102.7 574.4,108.1 574.8,111.5 574.6,108.8 574.7,108.1 574.9,112.9 574.9,110.4 575.5,113.3 575.3,109.9 575.4,108.3 575.8,113.1 575.7,109.7 575.9,112.6 576.4,113.2 576.3,117.6 576.5,114.9 576.2,119.4 576.8,115.2 576.8,114.4 576.9,113.5 577.2,119.1 577.3,120.3 577.5,119.1 577.5,120.8 578.1,120.5 578.4,117.3 578.4,121.3 578.8,118.3 579.2,117.3 579.5,115.4 579.6,121.3 580.2,111.1 580.4,112.7 580.8,108.7 581.3,118.9 581.5,116.2 581.9,110.8 582.4,109.2 582.4,112.2 582.8,113.9 582.8,112 583,114.7 583.3,118.6 583.4,115.6 583.5,120.1 583.7,116.5 584.1,121 584.1,117.2 584,120.7 584.2,120.9 584.3,119.2 584.7,119.8 584.8,120.9 584.8,117.6 585.1,125.5 585.3,119.1 585.3,122 585.8,121 585.8,123.4 585.9,121 586.1,122 586.3,119.9 586.6,126.8 586.7,129.2 586.8,121.5 586.9,127.5 587,123.9 587.3,128.6 587.3,127.2 587.6,125.9 587.9,129.6 587.9,125.5 588.6,126.7 588.6,127.6 588.7,121.9 588.8,120.8 589.3,126.2 589.4,121.9 589.8,124.7 590,117.8 590.1,115.8 590.5,119.6 590.6,125.1 591.1,122 591.2,120.8 591.3,119.7 591.9,117.2 591.7,119.3 592.2,120.6 592.2,117.7 592.7,114.7 593.3,116.4 593.9,118.5 594.1,117.5 594.6,115.5 595.1,119.6 595.6,112.4 596,118.6 596.9,113.7 597,115.3 597.3,117 598,116.5 598.8,114.9 598.9,117.3 599,113.2 599.6,116.1 599.7,111.1 600.1,114.8 600.5,116.7 600.6,113.2 600.8,110.7 601.1,112.3 601.5,114 601.7,109.4 602.1,114.3 602.1,111 602.6,110.9 602.9,108.8 603.1,112.9 603.7,104.7 603.2,108.8 603.6,105.9 603.6,107.6 604,104.9 604.3,111.9 604.5,108.2 604.4,106.4 604.6,107.2 604.8,103.7 604.9,101.5 605.1,106.6 605.1,103.7 605.1,104.2 605.6,98.8 605.9,101.1 605.5,96.9 606,99.2 606.2,95.5 606.2,101.4 606.2,100.1 606.4,98.8 606.7,103.1 606.6,98.9 607.1,93.6 607.1,101.8 607.4,88 607.3,90.7 607.6,92.6 607.6,91.9 607.9,93.1 607.8,90.7 608.1,87.5 608.4,84.3 608.4,82.6 608.8,79.8 608.5,76.6 609.1,75.5 608.6,72.1 608.8,70.9 609.2,65.5 609.3,65.1 609.4,62.1 609.5,59.3 609.8,55.9 610,53.9 610.1,50.6 610.2,48.6 610.7,43.9 610.7,44.2 611.1,45.4 611.3,48 611,53.1 611.2,54.3 611.1,56.5 611.3,60 611.3,63.7 611.7,65.3 611.8,69.1 612.3,71.1 612.4,75.4 612.5,77.1 612.1,80.1 612.5,82.4 612.3,84.8 612.8,87 613,91.8 613.1,92.6 613.5,90.5 613.3,97.4 613.6,91 613.9,99.3 614,101.4 614.4,101.1 614.3,98.6 615,104.1 615.2,99.5 615.3,98.3 615.6,98.6 615.7,95.6 615.7,105.8 616.1,102.3 616,102.1 616.9,98.8 616.4,102.7 616.9,103 617,100.5 617.3,106.1 617.7,107 617.7,106.8 618,106 618.4,106.4 618.4,102.5 618.6,109.3 618.7,107.6 618.7,104.8 619.2,112 619.2,105 619.4,105.7 619.6,115.1 619.8,110.3 620.1,110.2 620.1,112.1 620.3,108.4 620.5,114.9 620.6,113.1"/>
<g fill="#d92b2f">
<circle cx="42.4" cy="91.7" r="1.5"/>
<circle cx="42.6" cy="88.8" r="1.5"/>
<circle cx="43.1" cy="91.2" r="1.5"/>
<circle cx="43.3" cy="90.5" r="1.5"/>
<circle cx="43.3" cy="92.4" r="1.5"/>
<circle cx="43.8" cy="91.1" r="1.5"/>
<circle cx="44" cy="87.7" r="1.5"/>
<circle cx="44.3" cy="89.1" r="1.5"/>
<circle cx="44.7" cy="90.4" r="1.5"/>
<circle cx="44.8" cy="94.8" r="1.5"/>
<circle cx="45.1" cy="86.3" r="1.5"/>
<circle cx="45.4" cy="88.4" r="1.5"/>
<circle cx="45.7" cy="85.3" r="1.5"/>
<circle cx="45.9" cy="92.7" r="1.5"/>
<circle cx="46.4" cy="83.2" r="1.5"/>
<circle cx="46.5" cy="92.6" r="1.5"/>
<circle cx="46.9" cy="85.2" r="1.5"/>
<circle cx="47.1" cy="87.6" r="1.5"/>
<circle cx="47.5" cy="90.8" r="1.5"/>
<circle cx="47.8" cy="88.8" r="1.5"/>
<circle cx="48" cy="85.2" r="1.5"/>
<circle cx="48" cy="82.9" r="1.5"/>
<circle cx="48.6" cy="80.1" r="1.5"/>
<circle cx="48.4" cy="87.7" r="1.5"/>
<circle cx="48.7" cy="78.1" r="1.5"/>
<circle cx="49.2" cy="84" r="1.5"/>
<circle cx="49.6" cy="86.9" r="1.5"/>
<circle cx="49.7" cy="87.7" r="1.5"/>
<circle cx="50.1" cy="87.9" r="1.5"/>
<circle cx="49.9" cy="90.2" r="1.5"/>
<circle cx="50.1" cy="83.3" r="1.5"/>
<circle cx="50.6" cy="79.2" r="1.5"/>
<circle cx="50.5" cy="90.5" r="1.5"/>
<circle cx="50.9" cy="84.3" r="1.5"/>
<circle cx="51.1" cy="88.4" r="1.5"/>
<circle cx="51.1" cy="82.9" r="1.5"/>
<circle cx="51.3" cy="87.2" r="1.5"/>
<circle cx="51.7" cy="82.3" r="1.5"/>
<circle cx="51.7" cy="82.5" r="1.5"/>
<circle cx="52.1" cy="79.8" r="1.5"/>
<circle cx="52" cy="85.1" r="1.5"/>
<circle cx="52.4" cy="85.8" r="1.5"/>
<circle cx="52.5" cy="84.5" r="1.5"/>
<circle cx="52.5" cy="83.3" r="1.5"/>
<circle cx="52.9" cy="83.9" r="1.5"/>
<circle cx="53.2" cy="82.9" r="1.5"/>
<circle cx="53.1" cy="84.6" r="1.5"/>
<circle cx="53.2" cy="82.6" r="1.5"/>
<circle cx="53.3" cy="81.2" r="1.25"/>
<circle cx="53.7" cy="78.4" r="1.25"/>
<circle cx="53.7" cy="75.9" r="1.25"/>
<circle cx="54" cy="72.1" r="1.25"/>
<circle cx="54.6" cy="70" r="1.25"/>
<circle cx="54.2" cy="66.8" r="1.25"/>
<circle cx="54.4" cy="64" r="1.25"/>
<circle cx="54" cy="60.9" r="1.25"/>
<circle cx="54.9" cy="57.5" r="1.25"/>
<circle cx="54.9" cy="56.4" r="1.25"/>
<circle cx="55.2" cy="54" r="1.25"/>
<circle cx="54.9" cy="49.7" r="1.25"/>
<circle cx="55.2" cy="47.7" r="1.25"/>
<circle cx="55.6" cy="42.3" r="1.25"/>
<circle cx="55.7" cy="40.5" r="1.25"/>
<circle cx="55.6" cy="37.7" r="1.25"/>
<circle cx="55.6" cy="37.1" r="1.25"/>
<circle cx="55.6" cy="33.5" r="1.25"/>
<circle cx="55.9" cy="30.7" r="1.25"/>
<circle cx="55.8" cy="29" r="1.25"/>
<circle cx="56.1" cy="24.8" r="1.25"/>
<circle cx="56.6" cy="26.9" r="1.25"/>
<circle cx="56.3" cy="30.5" r="1.25"/>
<circle cx="56.3" cy="34.1" r="1.25"/>
<circle cx="56.5" cy="36.9" r="1.25"/>
<circle cx="56.2" cy="38.1" r="1.25"/>
<circle cx="56.8" cy="41.4" r="1.25"/>
<circle cx="56.6" cy="43.8" r="1.25"/>
<circle cx="57.2" cy="48.3" r="1.25"/>
<circle cx="57.4" cy="49.6" r="1.25"/>
<circle cx="57.2" cy="52.2" r="1.25"/>
<circle cx="57.5" cy="57.1" r="1.25"/>
<circle cx="57.3" cy="59.7" r="1.25"/>
<circle cx="57.8" cy="61.1" r="1.25"/>
<circle cx="57.4" cy="65" r="1.25"/>
<circle cx="57.9" cy="66.1" r="1.25"/>
<circle cx="58.1" cy="69.6" r="1.25"/>
<circle cx="58.5" cy="71.2" r="1.25"/>
<circle cx="58.9" cy="76.2" r="1.25"/>
<circle cx="59.4" cy="77.9" r="1.25"/>
<circle cx="59.4" cy="81.8" r="1.25"/>
<circle cx="60.5" cy="83.8" r="1.5"/>
<circle cx="60.2" cy="84" r="1.5"/>
<circle cx="61" cy="84.4" r="1.5"/>
<circle cx="61.2" cy="88.7" r="1.5"/>
<circle cx="61.7" cy="90.2" r="1.5"/>
<circle cx="62.2" cy="92.2" r="1.5"/>
<circle cx="62.4" cy="85.9" r="1.5"/>
<circle cx="62.8" cy="91.9" r="1.5"/>
<circle cx="63.8" cy="89.7" r="1.5"/>
<circle cx="64.1" cy="90.8" r="1.5"/>
<circle cx="65" cy="93.5" r="1.5"/>
<circle cx="65.2" cy="88" r="1.5"/>
<circle cx="65.8" cy="90.4" r="1.5"/>
<circle cx="66.4" cy="94.5" r="1.5"/>
<circle cx="66.9" cy="90.3" r="1.5"/>
<circle cx="66.9" cy="92.1" r="1.5"/>
<circle cx="67.5" cy="92.7" r="1.5"/>
<circle cx="67.7" cy="94.8" r="1.5"/>
<circle cx="68.1" cy="96.9" r="1.5"/>
<circle cx="68.7" cy="91.4" r="1.5"/>
<circle cx="69" cy="95.1" r="1.5"/>
<circle cx="69.7" cy="96.6" r="1.5"/>
<circle cx="70.3" cy="99.5" r="1.5"/>
<circle cx="70.6" cy="100.8" r="1.5"/>
<circle cx="71.1" cy="103.4" r="1.5"/>
<circle cx="71.2" cy="99.2" r="1.5"/>
<circle cx="71.7" cy="107.7" r="1.5"/>
<circle cx="71.7" cy="103.7" r="1.5"/>
<circle cx="72.3" cy="105.1" r="1.5"/>
<circle cx="72.3" cy="103" r="1.5"/>
<circle cx="72.9" cy="103.7" r="1.5"/>
<circle cx="72.9" cy="103.7" r="1.5"/>
<circle cx="73.4" cy="103.4" r="1.5"/>
<circle cx="74.1" cy="109" r="1.5"/>
<circle cx="74.2" cy="108.2" r="1.5"/>
<circle cx="74.6" cy="108.5" r="1.5"/>
<circle cx="74.4" cy="111" r="1.5"/>
<circle cx="75" cy="107" r="1.5"/>
<circle cx="75.1" cy="108" r="1.5"/>
<circle cx="75.6" cy="110.7" r="1.5"/>
<circle cx="76.3" cy="113.8" r="1.5"/>
<circle cx="76" cy="108.1" r="1.5"/>
<circle cx="76.9" cy="114.6" r="1.5"/>
<circle cx="76.7" cy="113.7" r="1.5"/>
<circle cx="77.6" cy="115.1" r="1.5"/>
<circle cx="77.9" cy="113.8" r="1.5"/>
<circle cx="78.9" cy="115.4" r="1.5"/>
<circle cx="79.2" cy="117.3" r="1.5"/>
<circle cx="79.9" cy="116" r="1.5"/>
<circle cx="80.3" cy="116.8" r="1.5"/>
<circle cx="81.1" cy="113.8" r="1.5"/>
<circle cx="81.5" cy="120.2" r="1.5"/>
<circle cx="82.2" cy="115.7" r="1.5"/>
<circle cx="82.3" cy="118.7" r="1.5"/>
<circle cx="83.1" cy="112.4" r="1.5"/>
<circle cx="83.5" cy="123.7" r="1.5"/>
<circle cx="84.4" cy="121.6" r="1.5"/>
<circle cx="85.1" cy="121" r="1.5"/>
<circle cx="86" cy="122.6" r="1.5"/>
<circle cx="86.7" cy="123.8" r="1.5"/>
<circle cx="87.5" cy="123.6" r="1.5"/>
<circle cx="88" cy="124.8" r="1.5"/>
<circle cx="88.7" cy="129.3" r="1.5"/>
<circle cx="89.4" cy="122.4" r="1.5"/>
<circle cx="89.9" cy="125.9" r="1.5"/>
<circle cx="90.5" cy="124" r="1.5"/>
<circle cx="91.2" cy="127.6" r="1.5"/>
<circle cx="91.6" cy="125.1" r="1.5"/>
<circle cx="92.5" cy="124.6" r="1.5"/>
<circle cx="93" cy="126" r="1.5"/>
<circle cx="94" cy="119.9" r="1.5"/>
<circle cx="94.4" cy="118.3" r="1.5"/>
<circle cx="95.6" cy="123" r="1.25"/>
<circle cx="95.7" cy="119" r="1.25"/>
<circle cx="96.3" cy="117.7" r="1.25"/>
<circle cx="96.4" cy="113.7" r="1.25"/>
<circle cx="96.3" cy="110" r="1.25"/>
<circle cx="96.7" cy="109.4" r="1.25"/>
<circle cx="96.4" cy="105.7" r="1.25"/>
<circle cx="97.1" cy="101.5" r="1.25"/>
<circle cx="96.8" cy="99.1" r="1.25"/>
<circle cx="97.2" cy="96.2" r="1.25"/>
<circle cx="97.4" cy="94.9" r="1.25"/>
<circle cx="97.6" cy="92.6" r="1.25"/>
<circle cx="97.9" cy="90.3" r="1.25"/>
<circle cx="97.4" cy="86.3" r="1.25"/>
<circle cx="97.5" cy="83.1" r="1.25"/>
<circle cx="97.8" cy="81.3" r="1.25"/>
<circle cx="98" cy="77.4" r="1.25"/>
<circle cx="97.8" cy="76" r="1.25"/>
<circle cx="98.1" cy="78.4" r="1.25"/>
<circle cx="98.2" cy="80.7" r="1.25"/>
<circle cx="98.5" cy="84.3" r="1.25"/>
<circle cx="98.4" cy="86.1" r="1.25"/>
<circle cx="98.5" cy="87.2" r="1.25"/>
<circle cx="98.5" cy="92" r="1.25"/>
<circle cx="98.5" cy="94.8" r="1.25"/>
<circle cx="98.9" cy="96.2" r="1.25"/>
<circle cx="98.9" cy="99.7" r="1.25"/>
<circle cx="99.3" cy="103.1" r="1.25"/>
<circle cx="99.4" cy="104.5" r="1.25"/>
<circle cx="99.5" cy="107.7" r="1.25"/>
<circle cx="99.9" cy="110.6" r="1.25"/>
<circle cx="99.8" cy="111.9" r="1.25"/>
<circle cx="100" cy="115" r="1.25"/>
<circle cx="100" cy="118.1" r="1.25"/>
<circle cx="100.3" cy="120.9" r="1.25"/>
<circle cx="100.7" cy="123.1" r="1.25"/>
<circle cx="101.3" cy="125.7" r="1.25"/>
<circle cx="101.8" cy="129.1" r="1.25"/>
<circle cx="102.5" cy="130.1" r="1.25"/>
<circle cx="102.9" cy="135.6" r="1.5"/>
<circle cx="103.3" cy="141.5" r="1.5"/>
<circle cx="103.8" cy="138.9" r="1.5"/>
<circle cx="103.9" cy="136.5" r="1.5"/>
<circle cx="104.5" cy="135.2" r="1.5"/>
<circle cx="104.5" cy="143.8" r="1.5"/>
<circle cx="105.1" cy="139.3" r="1.5"/>
<circle cx="105" cy="140.3" r="1.5"/>
<circle cx="105.4" cy="145.2" r="1.5"/>
<circle cx="106" cy="141.1" r="1.5"/>
<circle cx="106.4" cy="140.2" r="1.5"/>
<circle cx="106.6" cy="141.2" r="1.5"/>
<circle cx="107.4" cy="143.2" r="1.5"/>
<circle cx="107.4" cy="145.8" r="1.5"/>
<circle cx="108.3" cy="147.4" r="1.5"/>
<circle cx="108.3" cy="150.9" r="1.5"/>
<circle cx="109" cy="145.6" r="1.5"/>
<circle cx="109.1" cy="150.8" r="1.5"/>
<circle cx="109.8" cy="142.8" r="1.5"/>
<circle cx="110.6" cy="146.1" r="1.5"/>
<circle cx="111.3" cy="145.2" r="1.5"/>
<circle cx="111.8" cy="144.6" r="1.5"/>
<circle cx="112.7" cy="148.4" r="1.5"/>
<circle cx="112.9" cy="149.8" r="1.5"/>
<circle cx="114.1" cy="149.4" r="1.5"/>
<circle cx="114.4" cy="147.9" r="1.5"/>
<circle cx="115.5" cy="151.2" r="1.5"/>
<circle cx="116.1" cy="155.3" r="1.5"/>
<circle cx="117.4" cy="145.1" r="1.5"/>
<circle cx="117.4" cy="150.4" r="1.5"/>
<circle cx="118.4" cy="151.1" r="1.5"/>
<circle cx="119" cy="152.4" r="1.5"/>
<circle cx="119.9" cy="148" r="1.5"/>
<circle cx="120.3" cy="152.5" r="1.5"/>
<circle cx="121.5" cy="152.1" r="1.5"/>
<circle cx="121.9" cy="151.2" r="1.5"/>
<circle cx="122.9" cy="150.4" r="1.5"/>
<circle cx="123.3" cy="153.9" r="1.5"/>
<circle cx="124.5" cy="150.1" r="1.5"/>
<circle cx="124.7" cy="150.9" r="1.5"/>
<circle cx="125.7" cy="149" r="1.5"/>
<circle cx="126.1" cy="150.5" r="1.5"/>
<circle cx="127.1" cy="145.5" r="1.5"/>
<circle cx="127.6" cy="149.4" r="1.5"/>
<circle cx="128.4" cy="148.8" r="1.5"/>
<circle cx="129.3" cy="147.6" r="1.5"/>
<circle cx="130" cy="149.6" r="1.5"/>
<circle cx="131" cy="149.6" r="1.5"/>
<circle cx="131.1" cy="145.9" r="1.5"/>
<circle cx="131.5" cy="148.6" r="1.5"/>
<circle cx="131.9" cy="146.9" r="1.5"/>
<circle cx="131.9" cy="145.3" r="1.5"/>
<circle cx="132.5" cy="144.7" r="1.5"/>
<circle cx="132.7" cy="147.2" r="1.5"/>
<circle cx="133.3" cy="141.6" r="1.5"/>
<circle cx="133.4" cy="145.1" r="1.5"/>
<circle cx="133.9" cy="142.7" r="1.5"/>
<circle cx="133.9" cy="141.8" r="1.5"/>
<circle cx="134.4" cy="135.8" r="1.5"/>
<circle cx="134.8" cy="141.1" r="1.5"/>
<circle cx="135.4" cy="138.1" r="1.5"/>
<circle cx="135.9" cy="135.2" r="1.5"/>
<circle cx="136.8" cy="138.1" r="1.5"/>
<circle cx="137.2" cy="136.5" r="1.5"/>
<circle cx="137.9" cy="143.7" r="1.5"/>
<circle cx="138.2" cy="138" r="1.5"/>
<circle cx="138.8" cy="133.3" r="1.5"/>
<circle cx="139.4" cy="141.2" r="1.5"/>
<circle cx="140" cy="140.7" r="1.5"/>
<circle cx="140.4" cy="140.5" r="1.5"/>
<circle cx="140.8" cy="129.8" r="1.5"/>
<circle cx="141.3" cy="137.4" r="1.5"/>
<circle cx="141.8" cy="136.8" r="1.5"/>
<circle cx="142" cy="134.9" r="1.5"/>
<circle cx="142.7" cy="136.4" r="1.5"/>
<circle cx="143" cy="138.2" r="1.5"/>
<circle cx="143.7" cy="134.9" r="1.25"/>
<circle cx="143.6" cy="133.4" r="1.25"/>
<circle cx="144.1" cy="128.7" r="1.25"/>
<circle cx="144.4" cy="126.9" r="1.25"/>
<circle cx="144" cy="125.2" r="1.25"/>
<circle cx="144.6" cy="121.8" r="1.25"/>
<circle cx="144.8" cy="118.2" r="1.25"/>
<circle cx="144.6" cy="116.3" r="1.25"/>
<circle cx="145.1" cy="112.5" r="1.25"/>
<circle cx="145.4" cy="110.1" r="1.25"/>
<circle cx="145.5" cy="107" r="1.25"/>
<circle cx="145.4" cy="103" r="1.25"/>
<circle cx="145.4" cy="102.5" r="1.25"/>
<circle cx="145.9" cy="99" r="1.25"/>
<circle cx="145.7" cy="97.9" r="1.25"/>
<circle cx="145.7" cy="94.6" r="1.25"/>
<circle cx="146.2" cy="91.4" r="1.25"/>
<circle cx="146.2" cy="88.1" r="1.25"/>
<circle cx="146" cy="85.9" r="1.25"/>
<circle cx="146.1" cy="89.6" r="1.25"/>
<circle cx="146.7" cy="90.8" r="1.25"/>
<circle cx="146.2" cy="94.4" r="1.25"/>
<circle cx="146.2" cy="97.1" r="1.25"/>
<circle cx="146.7" cy="99.1" r="1.25"/>
<circle cx="146.8" cy="100.8" r="1.25"/>
<circle cx="146.9" cy="103.4" r="1.25"/>
<circle cx="146.7" cy="106.9" r="1.25"/>
<circle cx="146.9" cy="110.7" r="1.25"/>
<circle cx="147.2" cy="112.4" r="1.25"/>
<circle cx="147.5" cy="116.8" r="1.25"/>
<circle cx="147.6" cy="118.5" r="1.25"/>
<circle cx="148" cy="121.2" r="1.25"/>
<circle cx="147.7" cy="125.7" r="1.25"/>
<circle cx="148.5" cy="124.9" r="1.25"/>
<circle cx="148.3" cy="129.6" r="1.25"/>
<circle cx="148.7" cy="132.5" r="1.25"/>
<circle cx="148.6" cy="133.9" r="1.25"/>
<circle cx="148.9" cy="138.3" r="1.25"/>
<circle cx="148.8" cy="139.4" r="1.25"/>
<circle cx="149.2" cy="138" r="1.5"/>
<circle cx="149.4" cy="142.3" r="1.5"/>
<circle cx="149.7" cy="143.4" r="1.5"/>
<circle cx="150" cy="143.2" r="1.5"/>
<circle cx="150.7" cy="150.3" r="1.5"/>
<circle cx="150.6" cy="145.3" r="1.5"/>
<circle cx="151" cy="147.2" r="1.5"/>
<circle cx="151.4" cy="144.3" r="1.5"/>
<circle cx="151.5" cy="149.5" r="1.5"/>
<circle cx="152.2" cy="144.4" r="1.5"/>
<circle cx="152.7" cy="150.5" r="1.5"/>
<circle cx="153.2" cy="148.3" r="1.5"/>
<circle cx="153.9" cy="146" r="1.5"/>
<circle cx="154.2" cy="152.3" r="1.5"/>
<circle cx="154.8" cy="144.9" r="1.5"/>
<circle cx="155.3" cy="149" r="1.5"/>
<circle cx="155.9" cy="149.1" r="1.5"/>
<circle cx="156.1" cy="143.6" r="1.5"/>
<circle cx="156.7" cy="142.6" r="1.5"/>
<circle cx="157" cy="145.2" r="1.5"/>
<circle cx="157.4" cy="143.1" r="1.5"/>
<circle cx="157.4" cy="144.2" r="1.5"/>
<circle cx="158" cy="144.6" r="1.5"/>
<circle cx="158" cy="141.9" r="1.5"/>
<circle cx="158.4" cy="142.9" r="1.5"/>
<circle cx="158.6" cy="141.4" r="1.5"/>
<circle cx="159" cy="139.6" r="1.5"/>
<circle cx="159.2" cy="136.1" r="1.5"/>
<circle cx="159.3" cy="139.1" r="1.5"/>
<circle cx="159.5" cy="139.4" r="1.5"/>
<circle cx="160.3" cy="135.7" r="1.5"/>
<circle cx="160.1" cy="130.6" r="1.5"/>
<circle cx="160.6" cy="136.2" r="1.5"/>
<circle cx="161" cy="136.2" r="1.5"/>
<circle cx="161.4" cy="137.3" r="1.5"/>
<circle cx="161.6" cy="129.5" r="1.5"/>
<circle cx="162.2" cy="134.4" r="1.5"/>
<circle cx="161.9" cy="137.5" r="1.5"/>
<circle cx="162.5" cy="136.3" r="1.5"/>
<circle cx="162.6" cy="137.4" r="1.5"/>
<circle cx="162.7" cy="142.6" r="1.5"/>
<circle cx="163.2" cy="138.8" r="1.5"/>
<circle cx="163.3" cy="140.9" r="1.5"/>
<circle cx="163.7" cy="143" r="1.5"/>
<circle cx="164.2" cy="143.5" r="1.5"/>
<circle cx="164.2" cy="142.4" r="1.5"/>
<circle cx="164.5" cy="141.2" r="1.5"/>
<circle cx="164.8" cy="141.1" r="1.5"/>
<circle cx="165.2" cy="143.5" r="1.5"/>
<circle cx="165.5" cy="142.3" r="1.5"/>
<circle cx="166.1" cy="140.6" r="1.5"/>
<circle cx="166.5" cy="135.5" r="1.5"/>
<circle cx="166.9" cy="139.3" r="1.5"/>
<circle cx="167.3" cy="140.6" r="1.5"/>
<circle cx="167.7" cy="137.7" r="1.5"/>
<circle cx="168" cy="136.4" r="1.5"/>
<circle cx="168.5" cy="136.3" r="1.5"/>
<circle cx="168.6" cy="135.8" r="1.5"/>
<circle cx="169.6" cy="128.2" r="1.5"/>
<circle cx="169.7" cy="130.6" r="1.5"/>
<circle cx="170.1" cy="136.3" r="1.5"/>
<circle cx="171" cy="135.5" r="1.5"/>
<circle cx="171.9" cy="138" r="1.5"/>
<circle cx="172.2" cy="135.8" r="1.5"/>
<circle cx="173" cy="136.7" r="1.5"/>
<circle cx="173" cy="138.3" r="1.5"/>
<circle cx="174" cy="138.9" r="1.5"/>
<circle cx="174.7" cy="139.7" r="1.5"/>
<circle cx="175.3" cy="135" r="1.5"/>
<circle cx="176" cy="143.8" r="1.5"/>
<circle cx="176.7" cy="137.6" r="1.5"/>
<circle cx="177.4" cy="136.9" r="1.5"/>
<circle cx="178.6" cy="143.8" r="1.5"/>
<circle cx="178.6" cy="136.8" r="1.5"/>
<circle cx="179.9" cy="138.1" r="1.5"/>
<circle cx="180" cy="141.5" r="1.5"/>
<circle cx="181.1" cy="136.9" r="1.5"/>
<circle cx="181.6" cy="135.7" r="1.5"/>
<circle cx="182.1" cy="134.7" r="1.5"/>
<circle cx="182.6" cy="136.5" r="1.5"/>
<circle cx="183.1" cy="133.7" r="1.5"/>
<circle cx="183.2" cy="134.7" r="1.5"/>
<circle cx="184.2" cy="133.9" r="1.5"/>
<circle cx="184.6" cy="134" r="1.5"/>
<circle cx="185.2" cy="136.6" r="1.5"/>
<circle cx="185.4" cy="131.8" r="1.5"/>
<circle cx="186.3" cy="136.5" r="1.5"/>
<circle cx="186.4" cy="133.1" r="1.5"/>
<circle cx="187.2" cy="127.5" r="1.5"/>
<circle cx="187.3" cy="131.6" r="1.5"/>
<circle cx="188" cy="129.3" r="1.5"/>
<circle cx="188.5" cy="128.2" r="1.5"/>
<circle cx="189.6" cy="136.4" r="1.5"/>
<circle cx="190.2" cy="131.8" r="1.5"/>
<circle cx="191.2" cy="133" r="1.5"/>
<circle cx="191.6" cy="131.8" r="1.5"/>
<circle cx="192.5" cy="135.3" r="1.5"/>
<circle cx="192.6" cy="132" r="1.5"/>
<circle cx="193.8" cy="134.5" r="1.5"/>
<circle cx="194.2" cy="133.6" r="1.5"/>
<circle cx="194.5" cy="131.2" r="1.5"/>
<circle cx="194.4" cy="127.6" r="1.5"/>
<circle cx="194.7" cy="130.8" r="1.5"/>
<circle cx="194.8" cy="129.8" r="1.5"/>
<circle cx="195" cy="123.4" r="1.5"/>
<circle cx="195.3" cy="125.6" r="1.5"/>
<circle cx="195.6" cy="123.6" r="1.5"/>
<circle cx="195.7" cy="129.9" r="1.5"/>
<circle cx="196" cy="124.9" r="1.5"/>
<circle cx="196.2" cy="126.6" r="1.5"/>
<circle cx="196.5" cy="121.4" r="1.5"/>
<circle cx="196.7" cy="121.6" r="1.5"/>
<circle cx="196.8" cy="119.3" r="1.5"/>
<circle cx="196.8" cy="115.5" r="1.5"/>
<circle cx="197.3" cy="115.9" r="1.5"/>
<circle cx="197.2" cy="120.8" r="1.25"/>
<circle cx="197.6" cy="117.1" r="1.25"/>
<circle cx="198" cy="115.6" r="1.25"/>
<circle cx="198.5" cy="112.4" r="1.25"/>
<circle cx="198.4" cy="108.8" r="1.25"/>
<circle cx="198.9" cy="106.9" r="1.25"/>
<circle cx="198.7" cy="103.3" r="1.25"/>
<circle cx="199.1" cy="100" r="1.25"/>
<circle cx="199" cy="96.2" r="1.25"/>
<circle cx="199.1" cy="93.2" r="1.25"/>
<circle cx="199.6" cy="92.1" r="1.25"/>
<circle cx="199.2" cy="90" r="1.25"/>
<circle cx="199.7" cy="84.6" r="1.25"/>
<circle cx="200" cy="84" r="1.25"/>
<circle cx="200.2" cy="79.6" r="1.25"/>
<circle cx="200" cy="78.1" r="1.25"/>
<circle cx="200" cy="75.1" r="1.25"/>
<circle cx="200.3" cy="76.7" r="1.25"/>
<circle cx="200" cy="79.6" r="1.25"/>
<circle cx="200.2" cy="83.1" r="1.25"/>
<circle cx="200.5" cy="86.6" r="1.25"/>
<circle cx="200.5" cy="88.7" r="1.25"/>
<circle cx="200.5" cy="92.9" r="1.25"/>
<circle cx="200.9" cy="95.1" r="1.25"/>
<circle cx="200.7" cy="99.2" r="1.25"/>
<circle cx="200.7" cy="101.5" r="1.25"/>
<circle cx="201.2" cy="103.8" r="1.25"/>
<circle cx="201.2" cy="106.1" r="1.25"/>
<circle cx="201.3" cy="110.2" r="1.25"/>
<circle cx="201" cy="114.7" r="1.5"/>
<circle cx="201.3" cy="116.8" r="1.5"/>
<circle cx="202" cy="113.4" r="1.5"/>
<circle cx="202.3" cy="113.3" r="1.5"/>
<circle cx="202.8" cy="108.4" r="1.5"/>
<circle cx="203.2" cy="116.1" r="1.5"/>
<circle cx="203.6" cy="119.6" r="1.5"/>
<circle cx="203.7" cy="121.3" r="1.5"/>
<circle cx="204.3" cy="119.9" r="1.5"/>
<circle cx="204.6" cy="115.7" r="1.5"/>
<circle cx="205.6" cy="121" r="1.5"/>
<circle cx="205.7" cy="114.2" r="1.5"/>
<circle cx="206.5" cy="119.5" r="1.5"/>
<circle cx="207.1" cy="117" r="1.5"/>
<circle cx="208" cy="119.2" r="1.5"/>
<circle cx="208.5" cy="115.2" r="1.5"/>
<circle cx="209.3" cy="119.3" r="1.5"/>
<circle cx="209.4" cy="115.3" r="1.5"/>
<circle cx="210.5" cy="117.5" r="1.5"/>
<circle cx="211.2" cy="119.5" r="1.5"/>
<circle cx="211.9" cy="117.2" r="1.5"/>
<circle cx="212.3" cy="111.1" r="1.5"/>
<circle cx="213.1" cy="112.6" r="1.5"/>
<circle cx="213.5" cy="115.6" r="1.5"/>
<circle cx="214.3" cy="114.2" r="1.5"/>
<circle cx="214.7" cy="114.9" r="1.5"/>
<circle cx="215.4" cy="113.5" r="1.5"/>
<circle cx="216.1" cy="111" r="1.5"/>
<circle cx="216.3" cy="114.2" r="1.5"/>
<circle cx="216.6" cy="112.7" r="1.5"/>
<circle cx="216.8" cy="117.6" r="1.5"/>
<circle cx="216.9" cy="115.7" r="1.5"/>
<circle cx="217" cy="118.3" r="1.5"/>
<circle cx="217.3" cy="113.1" r="1.5"/>
<circle cx="217.8" cy="119.7" r="1.5"/>
<circle cx="217.6" cy="119.8" r="1.5"/>
<circle cx="217.9" cy="116.5" r="1.5"/>
<circle cx="218.2" cy="119.8" r="1.5"/>
<circle cx="218.7" cy="115.8" r="1.5"/>
<circle cx="218.9" cy="117.2" r="1.5"/>
<circle cx="219" cy="124.6" r="1.5"/>
<circle cx="219.4" cy="123.3" r="1.5"/>
<circle cx="219.5" cy="121.3" r="1.5"/>
<circle cx="219.9" cy="124.2" r="1.5"/>
<circle cx="220.9" cy="117.9" r="1.5"/>
<circle cx="221.6" cy="126.9" r="1.5"/>
<circle cx="222" cy="124.3" r="1.5"/>
<circle cx="223.1" cy="124.8" r="1.5"/>
<circle cx="224" cy="123.3" r="1.5"/>
<circle cx="224.5" cy="126.6" r="1.5"/>
<circle cx="225" cy="124.7" r="1.5"/>
<circle cx="225.8" cy="122.4" r="1.5"/>
<circle cx="226.3" cy="129.8" r="1.5"/>
<circle cx="226.4" cy="129.2" r="1.5"/>
<circle cx="227.1" cy="127.9" r="1.5"/>
<circle cx="227.4" cy="130.3" r="1.5"/>
<circle cx="227.8" cy="130.4" r="1.5"/>
<circle cx="228.2" cy="130.5" r="1.5"/>
<circle cx="229.1" cy="128.5" r="1.5"/>
<circle cx="229.2" cy="134.7" r="1.5"/>
<circle cx="229.9" cy="134.2" r="1.5"/>
<circle cx="230.1" cy="127.9" r="1.5"/>
<circle cx="230.7" cy="138.8" r="1.5"/>
<circle cx="230.8" cy="135.5" r="1.5"/>
<circle cx="231.4" cy="133.8" r="1.5"/>
<circle cx="231.7" cy="133.4" r="1.5"/>
<circle cx="232.9" cy="132.5" r="1.5"/>
<circle cx="233.3" cy="135.8" r="1.5"/>
<circle cx="234.6" cy="134.9" r="1.5"/>
<circle cx="234.9" cy="136.9" r="1.5"/>
<circle cx="235.3" cy="135.8" r="1.5"/>
<circle cx="235.8" cy="131.8" r="1.5"/>
<circle cx="236.8" cy="134.8" r="1.5"/>
<circle cx="237" cy="130.1" r="1.5"/>
<circle cx="237.5" cy="131.5" r="1.5"/>
<circle cx="238.2" cy="132" r="1.5"/>
<circle cx="238.5" cy="131.6" r="1.5"/>
<circle cx="238.8" cy="134.8" r="1.5"/>
<circle cx="239.6" cy="126.9" r="1.5"/>
<circle cx="239.9" cy="133.9" r="1.5"/>
<circle cx="240.2" cy="123.6" r="1.5"/>
<circle cx="240.7" cy="123.2" r="1.5"/>
<circle cx="241.2" cy="126.5" r="1.5"/>
<circle cx="241.5" cy="129" r="1.5"/>
<circle cx="242.7" cy="127.7" r="1.5"/>
<circle cx="243" cy="126" r="1.5"/>
<circle cx="243.7" cy="125.5" r="1.5"/>
<circle cx="244" cy="123.7" r="1.5"/>
<circle cx="244.9" cy="125" r="1.5"/>
<circle cx="245.4" cy="119.7" r="1.5"/>
<circle cx="246.4" cy="123.1" r="1.5"/>
<circle cx="246.6" cy="120.2" r="1.5"/>
<circle cx="247.2" cy="116.7" r="1.5"/>
<circle cx="247.4" cy="128.2" r="1.5"/>
<circle cx="248" cy="120.4" r="1.5"/>
<circle cx="248.1" cy="116.7" r="1.5"/>
<circle cx="248.3" cy="121.5" r="1.5"/>
<circle cx="248.4" cy="118.1" r="1.5"/>
<circle cx="248.8" cy="119.4" r="1.5"/>
<circle cx="249.2" cy="115.4" r="1.5"/>
<circle cx="249.4" cy="116.3" r="1.5"/>
<circle cx="249.3" cy="115.6" r="1.5"/>
<circle cx="250" cy="116.9" r="1.5"/>
<circle cx="250.2" cy="117.7" r="1.5"/>
<circle cx="250.9" cy="114.5" r="1.5"/>
<circle cx="251" cy="112.3" r="1.25"/>
<circle cx="251.2" cy="110.5" r="1.25"/>
<circle cx="251.5" cy="107.6" r="1.25"/>
<circle cx="251.9" cy="104.3" r="1.25"/>
<circle cx="251.7" cy="100.9" r="1.25"/>
<circle cx="252.4" cy="98.7" r="1.25"/>
<circle cx="252.3" cy="95.8" r="1.25"/>
<circle cx="252.7" cy="92.8" r="1.25"/>
<circle cx="253" cy="90.6" r="1.25"/>
<circle cx="253.2" cy="87.6" r="1.25"/>
<circle cx="253.4" cy="85.2" r="1.25"/>
<circle cx="253.6" cy="83" r="1.25"/>
<circle cx="253.8" cy="78.3" r="1.25"/>
<circle cx="253.8" cy="76.6" r="1.25"/>
<circle cx="254.2" cy="73.2" r="1.25"/>
<circle cx="254" cy="71.5" r="1.25"/>
<circle cx="254.2" cy="69.7" r="1.25"/>
<circle cx="254.3" cy="66.9" r="1.25"/>
<circle cx="254.3" cy="61.9" r="1.25"/>
<circle cx="255" cy="60.9" r="1.25"/>
<circle cx="255" cy="57.9" r="1.25"/>
<circle cx="255.1" cy="54" r="1.25"/>
<circle cx="255.4" cy="51.6" r="1.25"/>
<circle cx="255.5" cy="49.1" r="1.25"/>
<circle cx="255.1" cy="45" r="1.25"/>
<circle cx="255.9" cy="42.9" r="1.25"/>
<circle cx="255.8" cy="46.2" r="1.25"/>
<circle cx="256" cy="48.6" r="1.25"/>
<circle cx="256.3" cy="52.1" r="1.25"/>
<circle cx="256.8" cy="55" r="1.25"/>
<circle cx="257" cy="59.2" r="1.25"/>
<circle cx="257.2" cy="61.3" r="1.25"/>
<circle cx="257" cy="63.3" r="1.25"/>
<circle cx="257.1" cy="65.3" r="1.25"/>
<circle cx="257.3" cy="68.1" r="1.25"/>
<circle cx="257.8" cy="71.7" r="1.25"/>
<circle cx="257.6" cy="72.4" r="1.25"/>
<circle cx="257.8" cy="76.3" r="1.25"/>
<circle cx="257.8" cy="78.3" r="1.25"/>
<circle cx="257.7" cy="82.3" r="1.25"/>
<circle cx="258.3" cy="86.6" r="1.25"/>
<circle cx="258.4" cy="87" r="1.25"/>
<circle cx="258.9" cy="89.9" r="1.25"/>
<circle cx="258.8" cy="92.1" r="1.25"/>
<circle cx="258.8" cy="96.3" r="1.25"/>
<circle cx="259.3" cy="99.1" r="1.25"/>
<circle cx="259.2" cy="100.4" r="1.25"/>
<circle cx="259.3" cy="105.5" r="1.5"/>
<circle cx="259.4" cy="105" r="1.5"/>
<circle cx="259.8" cy="107.3" r="1.5"/>
<circle cx="260" cy="103" r="1.5"/>
<circle cx="260.6" cy="104.5" r="1.5"/>
<circle cx="260.5" cy="105.6" r="1.5"/>
<circle cx="260.8" cy="102.8" r="1.5"/>
<circle cx="261" cy="111.1" r="1.5"/>
<circle cx="261.3" cy="107.7" r="1.5"/>
<circle cx="261.3" cy="111.9" r="1.5"/>
<circle cx="261.6" cy="107.2" r="1.5"/>
<circle cx="262.3" cy="108.1" r="1.5"/>
<circle cx="262.9" cy="111" r="1.5"/>
<circle cx="263.5" cy="104" r="1.5"/>
<circle cx="264.3" cy="103.4" r="1.5"/>
<circle cx="264.4" cy="107" r="1.5"/>
<circle cx="265.2" cy="101.8" r="1.5"/>
<circle cx="265.6" cy="107.6" r="1.5"/>
<circle cx="266.5" cy="110.1" r="1.5"/>
<circle cx="266.9" cy="104.8" r="1.5"/>
<circle cx="267.3" cy="106.9" r="1.5"/>
<circle cx="267.7" cy="111.2" r="1.5"/>
<circle cx="268.5" cy="110.2" r="1.5"/>
<circle cx="268.5" cy="106.3" r="1.5"/>
<circle cx="269.2" cy="107" r="1.5"/>
<circle cx="269.2" cy="110" r="1.5"/>
<circle cx="270.1" cy="114.1" r="1.5"/>
<circle cx="270.1" cy="113.4" r="1.5"/>
<circle cx="270.9" cy="112.3" r="1.5"/>
<circle cx="271.3" cy="112.1" r="1.5"/>
<circle cx="271.7" cy="111.5" r="1.5"/>
<circle cx="271.8" cy="111.2" r="1.5"/>
<circle cx="272.8" cy="113.3" r="1.5"/>
<circle cx="272.7" cy="108.9" r="1.5"/>
<circle cx="273.1" cy="107.6" r="1.5"/>
<circle cx="273.5" cy="108.3" r="1.5"/>
<circle cx="273.7" cy="109.6" r="1.5"/>
<circle cx="274" cy="110" r="1.5"/>
<circle cx="274.1" cy="105.7" r="1.5"/>
<circle cx="274.3" cy="108.7" r="1.5"/>
<circle cx="275" cy="104.7" r="1.5"/>
<circle cx="275.6" cy="110.2" r="1.5"/>
<circle cx="275.5" cy="99.8" r="1.5"/>
<circle cx="275.9" cy="102.1" r="1.5"/>
<circle cx="276.9" cy="101.7" r="1.5"/>
<circle cx="276.7" cy="103.7" r="1.5"/>
<circle cx="277.4" cy="98.8" r="1.5"/>
<circle cx="277.4" cy="100.9" r="1.5"/>
<circle cx="277.5" cy="94.7" r="1.5"/>
<circle cx="278" cy="100.7" r="1.5"/>
<circle cx="278.1" cy="97.3" r="1.5"/>
<circle cx="278.1" cy="96.4" r="1.5"/>
<circle cx="278.5" cy="99.1" r="1.5"/>
<circle cx="278.6" cy="97.5" r="1.5"/>
<circle cx="278.9" cy="95.9" r="1.5"/>
<circle cx="279" cy="94.1" r="1.5"/>
<circle cx="279.3" cy="100.8" r="1.5"/>
<circle cx="279.6" cy="90.3" r="1.5"/>
<circle cx="279.9" cy="96.8" r="1.5"/>
<circle cx="279.9" cy="89.8" r="1.5"/>
<circle cx="280.1" cy="89.2" r="1.5"/>
<circle cx="280.1" cy="90.3" r="1.5"/>
<circle cx="280.3" cy="87.2" r="1.5"/>
<circle cx="280.7" cy="94.1" r="1.5"/>
<circle cx="280.8" cy="90.7" r="1.5"/>
<circle cx="281" cy="86.5" r="1.5"/>
<circle cx="281" cy="92.6" r="1.5"/>
<circle cx="281.6" cy="91.7" r="1.5"/>
<circle cx="281.4" cy="85.5" r="1.25"/>
<circle cx="281.8" cy="83.3" r="1.25"/>
<circle cx="282.4" cy="81" r="1.25"/>
<circle cx="282.5" cy="79.6" r="1.25"/>
<circle cx="283.9" cy="75" r="1.25"/>
<circle cx="284" cy="78" r="1.25"/>
<circle cx="284.3" cy="80.1" r="1.25"/>
<circle cx="284.6" cy="82.3" r="1.25"/>
<circle cx="285.1" cy="85.6" r="1.25"/>
<circle cx="285.5" cy="87.6" r="1.25"/>
<circle cx="285.9" cy="90.9" r="1.25"/>
<circle cx="286.4" cy="92.8" r="1.25"/>
<circle cx="286.7" cy="97.2" r="1.25"/>
<circle cx="287.1" cy="98.9" r="1.25"/>
<circle cx="287.3" cy="101.8" r="1.25"/>
<circle cx="287.9" cy="106" r="1.25"/>
<circle cx="288" cy="107" r="1.25"/>
<circle cx="288.5" cy="110.4" r="1.25"/>
<circle cx="288.7" cy="111.1" r="1.5"/>
<circle cx="289.2" cy="115.1" r="1.5"/>
<circle cx="290" cy="110.9" r="1.5"/>
<circle cx="290.3" cy="115.4" r="1.5"/>
<circle cx="291.1" cy="114.4" r="1.5"/>
<circle cx="291.5" cy="113.4" r="1.5"/>
<circle cx="292.2" cy="116.3" r="1.5"/>
<circle cx="292.7" cy="115.1" r="1.5"/>
<circle cx="293.4" cy="121.9" r="1.5"/>
<circle cx="293.6" cy="118.2" r="1.25"/>
<circle cx="293.9" cy="115.8" r="1.25"/>
<circle cx="294.8" cy="112.2" r="1.25"/>
<circle cx="294.8" cy="109.7" r="1.25"/>
<circle cx="295.6" cy="107.5" r="1.25"/>
<circle cx="296" cy="102.3" r="1.25"/>
<circle cx="296.1" cy="102.1" r="1.25"/>
<circle cx="296.5" cy="99.1" r="1.25"/>
<circle cx="297.7" cy="101.8" r="1.25"/>
<circle cx="298.2" cy="103.9" r="1.25"/>
<circle cx="298.4" cy="107" r="1.25"/>
<circle cx="299.2" cy="110" r="1.25"/>
<circle cx="300" cy="112.6" r="1.5"/>
<circle cx="300.5" cy="118.7" r="1.5"/>
<circle cx="300.8" cy="114.6" r="1.5"/>
<circle cx="301.5" cy="115.7" r="1.5"/>
<circle cx="301.4" cy="114.3" r="1.5"/>
<circle cx="302.3" cy="113.7" r="1.5"/>
<circle cx="302.5" cy="117.5" r="1.5"/>
<circle cx="302.9" cy="119.4" r="1.5"/>
<circle cx="303.2" cy="119.3" r="1.5"/>
<circle cx="303.8" cy="121.2" r="1.5"/>
<circle cx="303.8" cy="116.5" r="1.5"/>
<circle cx="304" cy="118.8" r="1.5"/>
<circle cx="304.4" cy="113.9" r="1.5"/>
<circle cx="304.6" cy="113.3" r="1.5"/>
<circle cx="304.8" cy="117.5" r="1.5"/>
<circle cx="305.2" cy="108.8" r="1.5"/>
<circle cx="305.4" cy="109.1" r="1.5"/>
<circle cx="305.9" cy="111.2" r="1.5"/>
<circle cx="305.8" cy="115" r="1.5"/>
<circle cx="306" cy="111.2" r="1.5"/>
<circle cx="306.1" cy="112.1" r="1.5"/>
<circle cx="306.8" cy="109.1" r="1.5"/>
<circle cx="306.9" cy="108" r="1.5"/>
<circle cx="307.1" cy="108" r="1.5"/>
<circle cx="307.1" cy="107.5" r="1.25"/>
<circle cx="307.4" cy="104.7" r="1.25"/>
<circle cx="307.3" cy="102.1" r="1.25"/>
<circle cx="307.9" cy="99.4" r="1.25"/>
<circle cx="308.1" cy="97" r="1.25"/>
<circle cx="308.7" cy="94.2" r="1.25"/>
<circle cx="308.8" cy="92.8" r="1.25"/>
<circle cx="309.3" cy="89.7" r="1.25"/>
<circle cx="309.7" cy="86" r="1.25"/>
<circle cx="309.7" cy="84.4" r="1.25"/>
<circle cx="309.8" cy="80.6" r="1.25"/>
<circle cx="310.1" cy="78.2" r="1.25"/>
<circle cx="310.2" cy="75.8" r="1.25"/>
<circle cx="310.3" cy="72.8" r="1.25"/>
<circle cx="310.8" cy="69.9" r="1.25"/>
<circle cx="310.9" cy="65.7" r="1.25"/>
<circle cx="310.6" cy="63.3" r="1.25"/>
<circle cx="311.2" cy="62.1" r="1.25"/>
<circle cx="311" cy="58.4" r="1.25"/>
<circle cx="311.2" cy="54.7" r="1.25"/>
<circle cx="311.5" cy="58.7" r="1.25"/>
<circle cx="311.8" cy="61.9" r="1.25"/>
<circle cx="311.8" cy="64.5" r="1.25"/>
<circle cx="312.3" cy="66.6" r="1.25"/>
<circle cx="312.4" cy="68.9" r="1.25"/>
<circle cx="312.3" cy="71.9" r="1.25"/>
<circle cx="312.6" cy="77.4" r="1.25"/>
<circle cx="312.8" cy="79.2" r="1.25"/>
<circle cx="313.2" cy="80.9" r="1.25"/>
<circle cx="313.4" cy="82.9" r="1.25"/>
<circle cx="313.6" cy="86.4" r="1.25"/>
<circle cx="313.3" cy="89.2" r="1.25"/>
<circle cx="313.9" cy="91.7" r="1.25"/>
<circle cx="314.3" cy="93.6" r="1.25"/>
<circle cx="314.2" cy="97.2" r="1.25"/>
<circle cx="314.1" cy="100.1" r="1.25"/>
<circle cx="314.2" cy="100.8" r="1.25"/>
<circle cx="314.7" cy="103.5" r="1.25"/>
<circle cx="314.8" cy="105.7" r="1.25"/>
<circle cx="315" cy="108.7" r="1.25"/>
<circle cx="315.2" cy="111" r="1.25"/>
<circle cx="315.4" cy="114.6" r="1.25"/>
<circle cx="315.5" cy="117.4" r="1.25"/>
<circle cx="315.7" cy="119" r="1.25"/>
<circle cx="315.4" cy="122.8" r="1.5"/>
<circle cx="315.9" cy="121.1" r="1.5"/>
<circle cx="316.4" cy="119.8" r="1.5"/>
<circle cx="316.6" cy="121.8" r="1.5"/>
<circle cx="317.1" cy="122.2" r="1.5"/>
<circle cx="317.4" cy="121.1" r="1.5"/>
<circle cx="317.8" cy="118.7" r="1.5"/>
<circle cx="318.3" cy="120.3" r="1.5"/>
<circle cx="318.7" cy="116.9" r="1.5"/>
<circle cx="319.1" cy="115.9" r="1.5"/>
<circle cx="319.6" cy="115.6" r="1.5"/>
<circle cx="319.4" cy="118.2" r="1.5"/>
<circle cx="320.1" cy="113.6" r="1.5"/>
<circle cx="320.7" cy="112.2" r="1.5"/>
<circle cx="320.8" cy="113.1" r="1.5"/>
<circle cx="321.1" cy="110.6" r="1.5"/>
<circle cx="321.3" cy="119" r="1.5"/>
<circle cx="321.7" cy="111.6" r="1.5"/>
<circle cx="321.9" cy="117.3" r="1.5"/>
<circle cx="322" cy="113.4" r="1.5"/>
<circle cx="322.4" cy="118.1" r="1.5"/>
<circle cx="323" cy="117.2" r="1.5"/>
<circle cx="323.2" cy="120.2" r="1.5"/>
<circle cx="323.6" cy="118" r="1.5"/>
<circle cx="323.9" cy="117.1" r="1.5"/>
<circle cx="324.1" cy="112.9" r="1.5"/>
<circle cx="324.3" cy="122.8" r="1.5"/>
<circle cx="324.3" cy="121.3" r="1.5"/>
<circle cx="324.7" cy="119.8" r="1.5"/>
<circle cx="324.7" cy="129.5" r="1.5"/>
<circle cx="325.1" cy="126.3" r="1.5"/>
<circle cx="325.5" cy="128" r="1.5"/>
<circle cx="326" cy="122.4" r="1.5"/>
<circle cx="326" cy="124.2" r="1.5"/>
<circle cx="326.4" cy="130.4" r="1.5"/>
<circle cx="326.1" cy="125.4" r="1.5"/>
<circle cx="327.4" cy="128.7" r="1.5"/>
<circle cx="327.9" cy="126.5" r="1.5"/>
<circle cx="328.7" cy="127.2" r="1.5"/>
<circle cx="329.3" cy="124.9" r="1.5"/>
<circle cx="330.5" cy="125.9" r="1.5"/>
<circle cx="331" cy="126" r="1.5"/>
<circle cx="332.3" cy="132" r="1.5"/>
<circle cx="332.4" cy="127.6" r="1.5"/>
<circle cx="333.8" cy="131" r="1.5"/>
<circle cx="333.7" cy="126.1" r="1.5"/>
<circle cx="335" cy="130.4" r="1.5"/>
<circle cx="335.8" cy="127.7" r="1.5"/>
<circle cx="336.3" cy="127.6" r="1.5"/>
<circle cx="336.2" cy="125.2" r="1.5"/>
<circle cx="337.1" cy="130.9" r="1.5"/>
<circle cx="337.3" cy="126.1" r="1.5"/>
<circle cx="337.6" cy="127.5" r="1.5"/>
<circle cx="338.2" cy="128.2" r="1.5"/>
<circle cx="338.8" cy="125.4" r="1.5"/>
<circle cx="338.9" cy="124.9" r="1.5"/>
<circle cx="339.5" cy="125.1" r="1.5"/>
<circle cx="340" cy="127.5" r="1.5"/>
<circle cx="340.4" cy="125.2" r="1.5"/>
<circle cx="340.6" cy="123.5" r="1.5"/>
<circle cx="341.3" cy="125.4" r="1.5"/>
<circle cx="341.5" cy="122.7" r="1.5"/>
<circle cx="341.7" cy="122.4" r="1.5"/>
<circle cx="342.2" cy="118.9" r="1.5"/>
<circle cx="342.5" cy="125.8" r="1.5"/>
<circle cx="343.1" cy="127.8" r="1.5"/>
<circle cx="343.5" cy="122.9" r="1.5"/>
<circle cx="343.8" cy="121" r="1.5"/>
<circle cx="344.3" cy="125.3" r="1.5"/>
<circle cx="344.6" cy="123.1" r="1.5"/>
<circle cx="345.1" cy="124.9" r="1.5"/>
<circle cx="345.5" cy="130" r="1.5"/>
<circle cx="346" cy="125.5" r="1.5"/>
<circle cx="346.3" cy="127.6" r="1.5"/>
<circle cx="346.8" cy="131.3" r="1.5"/>
<circle cx="347.3" cy="130.3" r="1.5"/>
<circle cx="347.7" cy="130" r="1.5"/>
<circle cx="348" cy="131.3" r="1.5"/>
<circle cx="348.7" cy="132.3" r="1.5"/>
<circle cx="349.3" cy="127" r="1.5"/>
<circle cx="350" cy="130.3" r="1.5"/>
<circle cx="350.6" cy="129.2" r="1.5"/>
<circle cx="351" cy="129.9" r="1.5"/>
<circle cx="351.5" cy="125.7" r="1.5"/>
<circle cx="352.3" cy="125.8" r="1.5"/>
<circle cx="353" cy="130.5" r="1.5"/>
<circle cx="353.4" cy="126.1" r="1.5"/>
<circle cx="353.6" cy="126.9" r="1.5"/>
<circle cx="354" cy="125" r="1.5"/>
<circle cx="353.9" cy="122.8" r="1.5"/>
<circle cx="354.3" cy="121.1" r="1.5"/>
<circle cx="354.3" cy="124.1" r="1.5"/>
<circle cx="354.9" cy="117.7" r="1.5"/>
<circle cx="355" cy="121.9" r="1.5"/>
<circle cx="355.4" cy="120.8" r="1.5"/>
<circle cx="355.7" cy="122.7" r="1.5"/>
<circle cx="355.8" cy="117.6" r="1.5"/>
<circle cx="355.9" cy="115.8" r="1.5"/>
<circle cx="356.2" cy="118.4" r="1.5"/>
<circle cx="356.6" cy="115.9" r="1.5"/>
<circle cx="356.7" cy="111" r="1.5"/>
<circle cx="356.8" cy="113.3" r="1.5"/>
<circle cx="357.7" cy="116.3" r="1.5"/>
<circle cx="358.4" cy="114.1" r="1.5"/>
<circle cx="359.3" cy="109.7" r="1.5"/>
<circle cx="359.8" cy="117.2" r="1.5"/>
<circle cx="360.7" cy="112.9" r="1.5"/>
<circle cx="361.4" cy="114.1" r="1.5"/>
<circle cx="361.7" cy="113.3" r="1.25"/>
<circle cx="361.9" cy="110.7" r="1.25"/>
<circle cx="362.1" cy="106.5" r="1.25"/>
<circle cx="362.3" cy="105.5" r="1.25"/>
<circle cx="362.3" cy="102.2" r="1.25"/>
<circle cx="362.8" cy="99.3" r="1.25"/>
<circle cx="362.7" cy="98.5" r="1.25"/>
<circle cx="363.2" cy="95" r="1.25"/>
<circle cx="363" cy="92.8" r="1.25"/>
<circle cx="363" cy="88.5" r="1.25"/>
<circle cx="363.7" cy="87.2" r="1.25"/>
<circle cx="363.5" cy="83" r="1.25"/>
<circle cx="363.8" cy="79.1" r="1.25"/>
<circle cx="364" cy="78.2" r="1.25"/>
<circle cx="363.9" cy="75.4" r="1.25"/>
<circle cx="364.3" cy="72.3" r="1.25"/>
<circle cx="364.4" cy="70.4" r="1.25"/>
<circle cx="364.3" cy="66.5" r="1.25"/>
<circle cx="364.4" cy="64.3" r="1.25"/>
<circle cx="364.5" cy="61" r="1.25"/>
<circle cx="364.7" cy="57.9" r="1.25"/>
<circle cx="365.2" cy="60.3" r="1.25"/>
<circle cx="365.3" cy="63.6" r="1.25"/>
<circle cx="365.5" cy="65.5" r="1.25"/>
<circle cx="365.6" cy="68.8" r="1.25"/>
<circle cx="365.5" cy="71" r="1.25"/>
<circle cx="365.8" cy="73.4" r="1.25"/>
<circle cx="366.3" cy="75.4" r="1.25"/>
<circle cx="365.9" cy="77.3" r="1.25"/>
<circle cx="366.3" cy="80.8" r="1.25"/>
<circle cx="366.5" cy="84.4" r="1.25"/>
<circle cx="367" cy="86.9" r="1.25"/>
<circle cx="366.9" cy="88.7" r="1.25"/>
<circle cx="367.1" cy="93" r="1.25"/>
<circle cx="367.4" cy="93.1" r="1.25"/>
<circle cx="367.5" cy="98.5" r="1.25"/>
<circle cx="367.6" cy="98.8" r="1.25"/>
<circle cx="367.5" cy="103.1" r="1.25"/>
<circle cx="367.8" cy="104.7" r="1.25"/>
<circle cx="367.7" cy="108.7" r="1.25"/>
<circle cx="368.4" cy="112.4" r="1.25"/>
<circle cx="369.5" cy="114.8" r="1.25"/>
<circle cx="370.5" cy="114.6" r="1.5"/>
<circle cx="370.9" cy="115.3" r="1.5"/>
<circle cx="371" cy="121.6" r="1.5"/>
<circle cx="371" cy="119.7" r="1.5"/>
<circle cx="371" cy="123.6" r="1.5"/>
<circle cx="371.5" cy="122.1" r="1.5"/>
<circle cx="371.8" cy="122.5" r="1.5"/>
<circle cx="372.1" cy="118.9" r="1.5"/>
<circle cx="372.2" cy="127.9" r="1.5"/>
<circle cx="372.2" cy="124.4" r="1.5"/>
<circle cx="372.5" cy="121.4" r="1.5"/>
<circle cx="372.9" cy="125.2" r="1.5"/>
<circle cx="373" cy="126.1" r="1.5"/>
<circle cx="373.3" cy="128.6" r="1.5"/>
<circle cx="373.9" cy="127.5" r="1.5"/>
<circle cx="374" cy="123.8" r="1.5"/>
<circle cx="374" cy="129.2" r="1.5"/>
<circle cx="374.1" cy="127.3" r="1.5"/>
<circle cx="374.8" cy="130.6" r="1.5"/>
<circle cx="374.7" cy="130.2" r="1.5"/>
<circle cx="375.3" cy="133.2" r="1.5"/>
<circle cx="375.4" cy="130.8" r="1.5"/>
<circle cx="375.7" cy="136.8" r="1.5"/>
<circle cx="375.9" cy="136.4" r="1.5"/>
<circle cx="376.5" cy="136.9" r="1.5"/>
<circle cx="376.8" cy="134.2" r="1.5"/>
<circle cx="377.1" cy="138.4" r="1.5"/>
<circle cx="377.2" cy="137.4" r="1.5"/>
<circle cx="377.7" cy="142.1" r="1.5"/>
<circle cx="378.1" cy="140.3" r="1.5"/>
<circle cx="378.4" cy="137.9" r="1.5"/>
<circle cx="378.5" cy="138.8" r="1.5"/>
<circle cx="379.3" cy="134.7" r="1.5"/>
<circle cx="379.7" cy="135.3" r="1.5"/>
<circle cx="379.9" cy="135.6" r="1.5"/>
<circle cx="380.5" cy="133.3" r="1.5"/>
<circle cx="380.8" cy="132.3" r="1.5"/>
<circle cx="381.1" cy="135.2" r="1.5"/>
<circle cx="381.6" cy="134" r="1.5"/>
<circle cx="381.8" cy="128.7" r="1.5"/>
<circle cx="382.5" cy="128.1" r="1.5"/>
<circle cx="382.9" cy="127.4" r="1.5"/>
<circle cx="382.7" cy="132.7" r="1.5"/>
<circle cx="382.9" cy="124.1" r="1.5"/>
<circle cx="383.2" cy="121.3" r="1.5"/>
<circle cx="383.3" cy="126.3" r="1.5"/>
<circle cx="383.3" cy="124.7" r="1.5"/>
<circle cx="384" cy="129.5" r="1.5"/>
<circle cx="384" cy="127.3" r="1.5"/>
<circle cx="384.2" cy="121.2" r="1.5"/>
<circle cx="384.5" cy="126.2" r="1.5"/>
<circle cx="384.5" cy="125.7" r="1.5"/>
<circle cx="384.6" cy="122.7" r="1.5"/>
<circle cx="385" cy="119" r="1.5"/>
<circle cx="385.1" cy="120.1" r="1.5"/>
<circle cx="385.1" cy="121" r="1.5"/>
<circle cx="385.4" cy="118.1" r="1.5"/>
<circle cx="385.7" cy="122.7" r="1.5"/>
<circle cx="385.7" cy="117.6" r="1.5"/>
<circle cx="386" cy="114.7" r="1.5"/>
<circle cx="386.3" cy="117" r="1.5"/>
<circle cx="386.4" cy="120.8" r="1.5"/>
<circle cx="387" cy="116.7" r="1.5"/>
<circle cx="387" cy="114.9" r="1.5"/>
<circle cx="388" cy="113.5" r="1.5"/>
<circle cx="388.1" cy="113.4" r="1.5"/>
<circle cx="388.8" cy="112.5" r="1.5"/>
<circle cx="389" cy="109.9" r="1.5"/>
<circle cx="389.7" cy="114.3" r="1.5"/>
<circle cx="389.6" cy="109.4" r="1.5"/>
<circle cx="390.3" cy="108" r="1.5"/>
<circle cx="391.1" cy="106" r="1.5"/>
<circle cx="391.4" cy="110.1" r="1.5"/>
<circle cx="391.8" cy="103" r="1.5"/>
<circle cx="392.2" cy="111.4" r="1.5"/>
<circle cx="392.6" cy="103.7" r="1.5"/>
<circle cx="393" cy="105.2" r="1.5"/>
<circle cx="393.6" cy="106.5" r="1.5"/>
<circle cx="393.9" cy="105.1" r="1.5"/>
<circle cx="394.4" cy="106.3" r="1.5"/>
<circle cx="395.2" cy="103.8" r="1.5"/>
<circle cx="395.1" cy="103.9" r="1.5"/>
<circle cx="395.8" cy="103.2" r="1.5"/>
<circle cx="396.1" cy="104" r="1.5"/>
<circle cx="396.5" cy="102" r="1.5"/>
<circle cx="396.8" cy="101.7" r="1.5"/>
<circle cx="396.5" cy="100.6" r="1.5"/>
<circle cx="396.9" cy="108.3" r="1.5"/>
<circle cx="397.5" cy="107" r="1.5"/>
<circle cx="397.6" cy="105" r="1.5"/>
<circle cx="397.9" cy="109" r="1.5"/>
<circle cx="398" cy="105.9" r="1.5"/>
<circle cx="398.1" cy="105.5" r="1.5"/>
<circle cx="398.5" cy="107.8" r="1.5"/>
<circle cx="398.8" cy="109.5" r="1.5"/>
<circle cx="399.1" cy="105.6" r="1.5"/>
<circle cx="399.4" cy="114.5" r="1.5"/>
<circle cx="399.6" cy="109.4" r="1.5"/>
<circle cx="399.7" cy="116.8" r="1.5"/>
<circle cx="400.1" cy="111.2" r="1.5"/>
<circle cx="401.1" cy="115.1" r="1.5"/>
<circle cx="401.5" cy="115.5" r="1.5"/>
<circle cx="402" cy="114.1" r="1.5"/>
<circle cx="402.4" cy="115.7" r="1.5"/>
<circle cx="403.2" cy="116.3" r="1.5"/>
<circle cx="403.4" cy="114" r="1.5"/>
<circle cx="404.4" cy="118.6" r="1.5"/>
<circle cx="404.7" cy="116.7" r="1.5"/>
<circle cx="405.3" cy="116.3" r="1.5"/>
<circle cx="405.6" cy="115.5" r="1.5"/>
<circle cx="406.6" cy="114" r="1.5"/>
<circle cx="406.9" cy="111.4" r="1.5"/>
<circle cx="407.8" cy="107.9" r="1.5"/>
<circle cx="408" cy="115.3" r="1.5"/>
<circle cx="408.9" cy="114.2" r="1.5"/>
<circle cx="409" cy="114.2" r="1.5"/>
<circle cx="410.1" cy="112.8" r="1.5"/>
<circle cx="410.4" cy="111.4" r="1.5"/>
<circle cx="411.2" cy="113" r="1.5"/>
<circle cx="411.3" cy="110.9" r="1.5"/>
<circle cx="412.2" cy="112.1" r="1.5"/>
<circle cx="412.5" cy="104.6" r="1.5"/>
<circle cx="413.2" cy="107.8" r="1.5"/>
<circle cx="413.7" cy="109" r="1.5"/>
<circle cx="414.1" cy="105.8" r="1.5"/>
<circle cx="414.1" cy="113" r="1.5"/>
<circle cx="414.7" cy="108.5" r="1.5"/>
<circle cx="414.4" cy="109.5" r="1.5"/>
<circle cx="414.7" cy="108.7" r="1.5"/>
<circle cx="415.3" cy="103.8" r="1.5"/>
<circle cx="415.4" cy="106.8" r="1.5"/>
<circle cx="415.6" cy="105.3" r="1.5"/>
<circle cx="415.7" cy="110.5" r="1.5"/>
<circle cx="416" cy="105.4" r="1.5"/>
<circle cx="416.4" cy="99.6" r="1.5"/>
<circle cx="416.5" cy="95.7" r="1.5"/>
<circle cx="416.4" cy="100.1" r="1.5"/>
<circle cx="417.1" cy="100.1" r="1.25"/>
<circle cx="416.9" cy="96" r="1.25"/>
<circle cx="416.8" cy="93.1" r="1.25"/>
<circle cx="417.5" cy="92.8" r="1.25"/>
<circle cx="417.3" cy="89.7" r="1.25"/>
<circle cx="417.8" cy="85.6" r="1.25"/>
<circle cx="418.3" cy="81.4" r="1.25"/>
<circle cx="418" cy="80.9" r="1.25"/>
<circle cx="418.6" cy="79.5" r="1.25"/>
<circle cx="418.7" cy="75.6" r="1.25"/>
<circle cx="418.6" cy="73.7" r="1.25"/>
<circle cx="418.6" cy="70.1" r="1.25"/>
<circle cx="418.6" cy="66.6" r="1.25"/>
<circle cx="418.5" cy="65.6" r="1.25"/>
<circle cx="418.8" cy="59.7" r="1.25"/>
<circle cx="419" cy="58.4" r="1.25"/>
<circle cx="419.1" cy="57" r="1.25"/>
<circle cx="419.2" cy="52.5" r="1.25"/>
<circle cx="419.2" cy="49.9" r="1.25"/>
<circle cx="419.3" cy="52.9" r="1.25"/>
<circle cx="420.2" cy="55.8" r="1.25"/>
<circle cx="419.5" cy="59.8" r="1.25"/>
<circle cx="420" cy="61.8" r="1.25"/>
<circle cx="420.1" cy="64.6" r="1.25"/>
<circle cx="420.2" cy="67.9" r="1.25"/>
<circle cx="420.4" cy="70.6" r="1.25"/>
<circle cx="420.2" cy="72.2" r="1.25"/>
<circle cx="420.3" cy="75.6" r="1.25"/>
<circle cx="420.8" cy="77.1" r="1.25"/>
<circle cx="420.8" cy="82.1" r="1.25"/>
<circle cx="421.1" cy="81.8" r="1.25"/>
<circle cx="421" cy="85.8" r="1.25"/>
<circle cx="421.1" cy="88.3" r="1.25"/>
<circle cx="421.5" cy="90.8" r="1.25"/>
<circle cx="421.2" cy="93.8" r="1.25"/>
<circle cx="422.2" cy="96.6" r="1.25"/>
<circle cx="422.9" cy="98.7" r="1.25"/>
<circle cx="423.9" cy="95.8" r="1.5"/>
<circle cx="424.6" cy="99.4" r="1.5"/>
<circle cx="424.6" cy="104.9" r="1.5"/>
<circle cx="425.2" cy="102.8" r="1.5"/>
<circle cx="425.9" cy="100.3" r="1.5"/>
<circle cx="425.9" cy="96.2" r="1.5"/>
<circle cx="426.7" cy="100.4" r="1.5"/>
<circle cx="427.3" cy="100" r="1.5"/>
<circle cx="428.3" cy="97.7" r="1.5"/>
<circle cx="428.7" cy="95.7" r="1.5"/>
<circle cx="429.5" cy="103.6" r="1.5"/>
<circle cx="430.1" cy="96.7" r="1.5"/>
<circle cx="429.7" cy="91.1" r="1.5"/>
<circle cx="430.2" cy="98.9" r="1.5"/>
<circle cx="430.4" cy="91.7" r="1.5"/>
<circle cx="430.4" cy="93.1" r="1.5"/>
<circle cx="430.7" cy="90.4" r="1.5"/>
<circle cx="431" cy="95.8" r="1.5"/>
<circle cx="431" cy="91.9" r="1.5"/>
<circle cx="431.2" cy="90.3" r="1.5"/>
<circle cx="431.7" cy="88.4" r="1.5"/>
<circle cx="431.5" cy="88.8" r="1.5"/>
<circle cx="432.1" cy="92.5" r="1.5"/>
<circle cx="431.9" cy="88.7" r="1.5"/>
<circle cx="432.4" cy="86.2" r="1.5"/>
<circle cx="432.2" cy="89.6" r="1.5"/>
<circle cx="432.8" cy="86.9" r="1.5"/>
<circle cx="433.1" cy="87.2" r="1.5"/>
<circle cx="433.5" cy="86.9" r="1.5"/>
<circle cx="433.4" cy="92.4" r="1.5"/>
<circle cx="434.1" cy="88.5" r="1.5"/>
<circle cx="434.7" cy="86.8" r="1.5"/>
<circle cx="435.1" cy="88.8" r="1.5"/>
<circle cx="435.4" cy="91.2" r="1.5"/>
<circle cx="436.1" cy="93.6" r="1.5"/>
<circle cx="436.4" cy="91.4" r="1.5"/>
<circle cx="436.9" cy="93.3" r="1.5"/>
<circle cx="437.3" cy="90.9" r="1.5"/>
<circle cx="438.1" cy="95.3" r="1.5"/>
<circle cx="438.4" cy="89.5" r="1.5"/>
<circle cx="438.9" cy="94.6" r="1.5"/>
<circle cx="439.4" cy="92" r="1.5"/>
<circle cx="440.2" cy="92.6" r="1.5"/>
<circle cx="440.4" cy="97.5" r="1.5"/>
<circle cx="441.1" cy="95.4" r="1.5"/>
<circle cx="440.9" cy="99.4" r="1.5"/>
<circle cx="441.5" cy="95" r="1.5"/>
<circle cx="441.5" cy="97.5" r="1.5"/>
<circle cx="442.2" cy="99.5" r="1.5"/>
<circle cx="442.1" cy="100.1" r="1.5"/>
<circle cx="442.3" cy="101.2" r="1.5"/>
<circle cx="442.6" cy="101.9" r="1.5"/>
<circle cx="443" cy="98" r="1.5"/>
<circle cx="443.3" cy="102.6" r="1.5"/>
<circle cx="443.8" cy="98.7" r="1.5"/>
<circle cx="444" cy="104.8" r="1.5"/>
<circle cx="444.4" cy="105.2" r="1.5"/>
<circle cx="444.5" cy="104" r="1.25"/>
<circle cx="445.3" cy="108" r="1.25"/>
<circle cx="445.6" cy="109.2" r="1.25"/>
<circle cx="446.5" cy="113" r="1.25"/>
<circle cx="446.5" cy="115.7" r="1.25"/>
<circle cx="447.7" cy="117.7" r="1.25"/>
<circle cx="447.9" cy="119.9" r="1.25"/>
<circle cx="449.1" cy="123.6" r="1.5"/>
<circle cx="448.9" cy="125.7" r="1.5"/>
<circle cx="449.6" cy="122.1" r="1.5"/>
<circle cx="449.6" cy="124.9" r="1.5"/>
<circle cx="450.4" cy="122.5" r="1.5"/>
<circle cx="450.6" cy="124.9" r="1.5"/>
<circle cx="450.9" cy="126.8" r="1.5"/>
<circle cx="451.2" cy="128.5" r="1.5"/>
<circle cx="451.9" cy="127.1" r="1.5"/>
<circle cx="452.3" cy="127.6" r="1.5"/>
<circle cx="452.7" cy="129.2" r="1.5"/>
<circle cx="453.3" cy="129" r="1.5"/>
<circle cx="454.3" cy="134.1" r="1.5"/>
<circle cx="454.9" cy="126.9" r="1.5"/>
<circle cx="455.5" cy="132.2" r="1.5"/>
<circle cx="456.5" cy="131.5" r="1.5"/>
<circle cx="457.3" cy="129.9" r="1.5"/>
<circle cx="457.8" cy="129.8" r="1.5"/>
<circle cx="459" cy="127.8" r="1.5"/>
<circle cx="459.4" cy="127.2" r="1.5"/>
<circle cx="460.6" cy="129.5" r="1.5"/>
<circle cx="461.2" cy="129.8" r="1.5"/>
<circle cx="462.3" cy="124.5" r="1.5"/>
<circle cx="462.2" cy="132.2" r="1.5"/>
<circle cx="462.8" cy="128" r="1.5"/>
<circle cx="463.3" cy="130.3" r="1.5"/>
<circle cx="463.5" cy="129.8" r="1.5"/>
<circle cx="463.7" cy="126.4" r="1.5"/>
<circle cx="464.4" cy="125.4" r="1.5"/>
<circle cx="464.5" cy="124.9" r="1.5"/>
<circle cx="464.9" cy="125.7" r="1.5"/>
<circle cx="465" cy="127.4" r="1.5"/>
<circle cx="465.7" cy="125.6" r="1.5"/>
<circle cx="465.8" cy="120.8" r="1.5"/>
<circle cx="466.3" cy="121.4" r="1.5"/>
<circle cx="467" cy="118.1" r="1.5"/>
<circle cx="466.9" cy="123.6" r="1.5"/>
<circle cx="467.2" cy="117.8" r="1.5"/>
<circle cx="467.9" cy="120.8" r="1.5"/>
<circle cx="468.5" cy="118.2" r="1.5"/>
<circle cx="469.6" cy="125" r="1.5"/>
<circle cx="470.2" cy="117.8" r="1.5"/>
<circle cx="470.7" cy="117.6" r="1.25"/>
<circle cx="471.1" cy="117.6" r="1.25"/>
<circle cx="471.6" cy="113" r="1.25"/>
<circle cx="471.8" cy="111.1" r="1.25"/>
<circle cx="472.2" cy="108.9" r="1.25"/>
<circle cx="472.7" cy="106" r="1.25"/>
<circle cx="472.8" cy="102.2" r="1.25"/>
<circle cx="473" cy="99" r="1.25"/>
<circle cx="472.9" cy="96" r="1.25"/>
<circle cx="473.1" cy="93.3" r="1.25"/>
<circle cx="473.6" cy="91.4" r="1.25"/>
<circle cx="473.7" cy="89.3" r="1.25"/>
<circle cx="473.7" cy="86.7" r="1.25"/>
<circle cx="473.5" cy="84" r="1.25"/>
<circle cx="473.6" cy="80.3" r="1.25"/>
<circle cx="474" cy="79.8" r="1.25"/>
<circle cx="473.7" cy="76.8" r="1.25"/>
<circle cx="474.1" cy="72.2" r="1.25"/>
<circle cx="474.1" cy="70.5" r="1.25"/>
<circle cx="474.2" cy="67.3" r="1.25"/>
<circle cx="474" cy="65" r="1.25"/>
<circle cx="474.5" cy="62.9" r="1.25"/>
<circle cx="474.5" cy="60.5" r="1.25"/>
<circle cx="474.4" cy="62.5" r="1.25"/>
<circle cx="474.8" cy="66.1" r="1.25"/>
<circle cx="474.9" cy="68.5" r="1.25"/>
<circle cx="475.1" cy="72.6" r="1.25"/>
<circle cx="474.8" cy="73.8" r="1.25"/>
<circle cx="475.9" cy="76.8" r="1.25"/>
<circle cx="475.2" cy="79.5" r="1.25"/>
<circle cx="475.4" cy="81.6" r="1.25"/>
<circle cx="475.9" cy="86.2" r="1.25"/>
<circle cx="476" cy="88.1" r="1.25"/>
<circle cx="476.2" cy="90.5" r="1.25"/>
<circle cx="476" cy="93" r="1.25"/>
<circle cx="476.3" cy="95.6" r="1.25"/>
<circle cx="476.2" cy="98.2" r="1.25"/>
<circle cx="476.2" cy="100.5" r="1.25"/>
<circle cx="476.6" cy="103.7" r="1.25"/>
<circle cx="476.7" cy="107.8" r="1.25"/>
<circle cx="476.8" cy="109.4" r="1.25"/>
<circle cx="476.7" cy="111.3" r="1.25"/>
<circle cx="477.1" cy="112.7" r="1.5"/>
<circle cx="477.2" cy="112.7" r="1.5"/>
<circle cx="477.6" cy="115.4" r="1.5"/>
<circle cx="477.5" cy="117.5" r="1.5"/>
<circle cx="477.9" cy="116.5" r="1.5"/>
<circle cx="478" cy="119.5" r="1.5"/>
<circle cx="478.2" cy="125.5" r="1.5"/>
<circle cx="478.8" cy="119.7" r="1.5"/>
<circle cx="478.9" cy="115.2" r="1.5"/>
<circle cx="479" cy="117.6" r="1.5"/>
<circle cx="479.4" cy="118.5" r="1.5"/>
<circle cx="479.6" cy="125" r="1.5"/>
<circle cx="479.9" cy="122.9" r="1.5"/>
<circle cx="479.8" cy="122.8" r="1.5"/>
<circle cx="480.7" cy="122" r="1.5"/>
<circle cx="481.1" cy="120.2" r="1.5"/>
<circle cx="482.1" cy="119.7" r="1.5"/>
<circle cx="482.5" cy="121.9" r="1.5"/>
<circle cx="483.5" cy="122.6" r="1.5"/>
<circle cx="484.2" cy="121.9" r="1.5"/>
<circle cx="484.3" cy="123.6" r="1.5"/>
<circle cx="484.4" cy="121.9" r="1.5"/>
<circle cx="484.7" cy="116.7" r="1.5"/>
<circle cx="484.8" cy="122.8" r="1.5"/>
<circle cx="485.6" cy="117.3" r="1.5"/>
<circle cx="485.5" cy="119.2" r="1.5"/>
<circle cx="485.8" cy="120.6" r="1.5"/>
<circle cx="486.3" cy="113.2" r="1.5"/>
<circle cx="486.6" cy="116.3" r="1.5"/>
<circle cx="486.7" cy="113.2" r="1.5"/>
<circle cx="487" cy="116.3" r="1.5"/>
<circle cx="487.1" cy="118.3" r="1.5"/>
<circle cx="487.7" cy="114.5" r="1.5"/>
<circle cx="487.8" cy="110.2" r="1.5"/>
<circle cx="488.4" cy="114.7" r="1.5"/>
<circle cx="488.8" cy="112.8" r="1.5"/>
<circle cx="489.1" cy="110" r="1.5"/>
<circle cx="489.2" cy="115.6" r="1.5"/>
<circle cx="489.5" cy="111.2" r="1.5"/>
<circle cx="490" cy="108" r="1.5"/>
<circle cx="490.4" cy="106.6" r="1.5"/>
<circle cx="490.6" cy="107.4" r="1.5"/>
<circle cx="490.7" cy="108.8" r="1.5"/>
<circle cx="491" cy="110.4" r="1.5"/>
<circle cx="491.4" cy="106.6" r="1.5"/>
<circle cx="491.2" cy="113.6" r="1.5"/>
<circle cx="491.9" cy="112.1" r="1.5"/>
<circle cx="491.4" cy="113.2" r="1.5"/>
<circle cx="492" cy="110.1" r="1.5"/>
<circle cx="492" cy="111.9" r="1.5"/>
<circle cx="492.2" cy="118.8" r="1.5"/>
<circle cx="492.8" cy="115.6" r="1.5"/>
<circle cx="492.6" cy="116.3" r="1.5"/>
<circle cx="493.1" cy="112.7" r="1.5"/>
<circle cx="493.1" cy="117.6" r="1.5"/>
<circle cx="493.6" cy="115.2" r="1.5"/>
<circle cx="493.5" cy="117.4" r="1.5"/>
<circle cx="493.5" cy="121" r="1.5"/>
<circle cx="493.7" cy="118.3" r="1.25"/>
<circle cx="494.3" cy="121.1" r="1.25"/>
<circle cx="494.5" cy="124.5" r="1.25"/>
<circle cx="495.5" cy="127.6" r="1.25"/>
<circle cx="495.8" cy="127" r="1.5"/>
<circle cx="495.6" cy="135.7" r="1.5"/>
<circle cx="496.1" cy="133.7" r="1.5"/>
<circle cx="496.1" cy="130.4" r="1.5"/>
<circle cx="496.7" cy="136.1" r="1.5"/>
<circle cx="496.8" cy="133.1" r="1.5"/>
<circle cx="497" cy="135.9" r="1.5"/>
<circle cx="497.2" cy="138" r="1.5"/>
<circle cx="497.5" cy="138.6" r="1.5"/>
<circle cx="497.7" cy="136.5" r="1.5"/>
<circle cx="498" cy="139.3" r="1.5"/>
<circle cx="498" cy="140.1" r="1.5"/>
<circle cx="498.5" cy="145" r="1.5"/>
<circle cx="498.3" cy="141.5" r="1.5"/>
<circle cx="499.2" cy="141.7" r="1.5"/>
<circle cx="499.7" cy="137.2" r="1.5"/>
<circle cx="500.7" cy="137.6" r="1.5"/>
<circle cx="500.9" cy="143.9" r="1.5"/>
<circle cx="502.1" cy="137.6" r="1.5"/>
<circle cx="502.6" cy="138.2" r="1.5"/>
<circle cx="503.4" cy="143.4" r="1.5"/>
<circle cx="503.8" cy="140" r="1.5"/>
<circle cx="504.3" cy="133.2" r="1.5"/>
<circle cx="504.3" cy="139.1" r="1.5"/>
<circle cx="504.7" cy="130.4" r="1.5"/>
<circle cx="505.1" cy="132.3" r="1.5"/>
<circle cx="505.9" cy="132.8" r="1.5"/>
<circle cx="505.8" cy="136.1" r="1.5"/>
<circle cx="506.5" cy="137.9" r="1.5"/>
<circle cx="506.4" cy="132" r="1.5"/>
<circle cx="507.1" cy="133.4" r="1.5"/>
<circle cx="507.3" cy="132.3" r="1.5"/>
<circle cx="507.4" cy="127.3" r="1.5"/>
<circle cx="507.6" cy="131.7" r="1.5"/>
<circle cx="508.2" cy="124" r="1.5"/>
<circle cx="508.4" cy="131.6" r="1.5"/>
<circle cx="508.9" cy="124.1" r="1.5"/>
<circle cx="508.8" cy="122.2" r="1.5"/>
<circle cx="509.4" cy="129" r="1.5"/>
<circle cx="509.3" cy="122.2" r="1.5"/>
<circle cx="509.5" cy="121.7" r="1.5"/>
<circle cx="509.9" cy="126" r="1.5"/>
<circle cx="510.1" cy="117" r="1.5"/>
<circle cx="510.5" cy="120.5" r="1.5"/>
<circle cx="511.4" cy="120.3" r="1.5"/>
<circle cx="512" cy="122" r="1.5"/>
<circle cx="512.8" cy="122.4" r="1.5"/>
<circle cx="512.8" cy="119.5" r="1.5"/>
<circle cx="514" cy="121.7" r="1.5"/>
<circle cx="514.2" cy="118.5" r="1.5"/>
<circle cx="515.2" cy="124.2" r="1.5"/>
<circle cx="515.6" cy="124.2" r="1.5"/>
<circle cx="516.7" cy="119.7" r="1.5"/>
<circle cx="517" cy="119.1" r="1.5"/>
<circle cx="517.5" cy="114.9" r="1.5"/>
<circle cx="518" cy="116.3" r="1.5"/>
<circle cx="519" cy="122.3" r="1.5"/>
<circle cx="519.6" cy="116.7" r="1.5"/>
<circle cx="520.3" cy="116.2" r="1.5"/>
<circle cx="520.5" cy="116.2" r="1.5"/>
<circle cx="521.4" cy="112.7" r="1.5"/>
<circle cx="521.8" cy="116.6" r="1.5"/>
<circle cx="522.6" cy="118.5" r="1.5"/>
<circle cx="522.7" cy="113.8" r="1.5"/>
<circle cx="523.4" cy="115.1" r="1.5"/>
<circle cx="523.4" cy="111.3" r="1.5"/>
<circle cx="524.4" cy="110" r="1.5"/>
<circle cx="524.3" cy="107.4" r="1.5"/>
<circle cx="525.2" cy="111" r="1.5"/>
<circle cx="525.1" cy="106.6" r="1.5"/>
<circle cx="525.7" cy="112.5" r="1.5"/>
<circle cx="526" cy="108.8" r="1.5"/>
<circle cx="526.2" cy="112.4" r="1.5"/>
<circle cx="526.7" cy="104.9" r="1.5"/>
<circle cx="527.3" cy="110.4" r="1.5"/>
<circle cx="527" cy="107.7" r="1.5"/>
<circle cx="527.7" cy="106.1" r="1.5"/>
<circle cx="528.2" cy="105.9" r="1.5"/>
<circle cx="528.6" cy="106" r="1.5"/>
<circle cx="529.1" cy="104.4" r="1.5"/>
<circle cx="529.3" cy="102.3" r="1.5"/>
<circle cx="529.3" cy="99.7" r="1.5"/>
<circle cx="529.7" cy="101.6" r="1.5"/>
<circle cx="530" cy="104.2" r="1.5"/>
<circle cx="530.4" cy="95.9" r="1.5"/>
<circle cx="530.4" cy="99.6" r="1.5"/>
<circle cx="531" cy="99.5" r="1.5"/>
<circle cx="530.8" cy="94.2" r="1.5"/>
<circle cx="531.5" cy="98.9" r="1.5"/>
<circle cx="531.8" cy="95.2" r="1.5"/>
<circle cx="532.1" cy="96.9" r="1.5"/>
<circle cx="531.9" cy="95.5" r="1.25"/>
<circle cx="532.3" cy="91.4" r="1.25"/>
<circle cx="532.7" cy="89.7" r="1.25"/>
<circle cx="533" cy="86.5" r="1.25"/>
<circle cx="533.1" cy="84.1" r="1.25"/>
<circle cx="533.5" cy="80" r="1.25"/>
<circle cx="533.9" cy="79.5" r="1.25"/>
<circle cx="534.1" cy="74.7" r="1.25"/>
<circle cx="534.6" cy="74.2" r="1.25"/>
<circle cx="534.3" cy="70.1" r="1.25"/>
<circle cx="534.5" cy="69.9" r="1.25"/>
<circle cx="534.6" cy="65.7" r="1.25"/>
<circle cx="534.7" cy="60.9" r="1.25"/>
<circle cx="534.5" cy="58.7" r="1.25"/>
<circle cx="534.9" cy="57.1" r="1.25"/>
<circle cx="535.2" cy="54.2" r="1.25"/>
<circle cx="535" cy="51.8" r="1.25"/>
<circle cx="535" cy="51" r="1.25"/>
<circle cx="535.2" cy="47.7" r="1.25"/>
<circle cx="535.4" cy="43.4" r="1.25"/>
<circle cx="535.4" cy="40.9" r="1.25"/>
<circle cx="535.4" cy="38.7" r="1.25"/>
<circle cx="535.4" cy="35.6" r="1.25"/>
<circle cx="535.8" cy="33.1" r="1.25"/>
<circle cx="535.8" cy="37.3" r="1.25"/>
<circle cx="535.9" cy="39.4" r="1.25"/>
<circle cx="536.3" cy="42.1" r="1.25"/>
<circle cx="536.5" cy="42.7" r="1.25"/>
<circle cx="536.7" cy="46.5" r="1.25"/>
<circle cx="536.1" cy="48.6" r="1.25"/>
<circle cx="536.3" cy="51.8" r="1.25"/>
<circle cx="536.5" cy="53.6" r="1.25"/>
<circle cx="537" cy="57.2" r="1.25"/>
<circle cx="536.9" cy="59.5" r="1.25"/>
<circle cx="537.2" cy="62.6" r="1.25"/>
<circle cx="537.3" cy="65.1" r="1.25"/>
<circle cx="537.6" cy="66.8" r="1.25"/>
<circle cx="537.5" cy="71" r="1.25"/>
<circle cx="537.6" cy="73.2" r="1.25"/>
<circle cx="537.7" cy="76.6" r="1.25"/>
<circle cx="538.2" cy="79.1" r="1.25"/>
<circle cx="538" cy="82.3" r="1.25"/>
<circle cx="538.1" cy="83.3" r="1.25"/>
<circle cx="538.3" cy="87.3" r="1.25"/>
<circle cx="538.3" cy="90.9" r="1.25"/>
<circle cx="538.5" cy="92.7" r="1.25"/>
<circle cx="538.3" cy="94.8" r="1.25"/>
<circle cx="539" cy="99" r="1.25"/>
<circle cx="539.4" cy="102.3" r="1.25"/>
<circle cx="539.5" cy="104.1" r="1.25"/>
<circle cx="539.6" cy="107.9" r="1.25"/>
<circle cx="539.9" cy="113" r="1.5"/>
<circle cx="540.6" cy="107.3" r="1.5"/>
<circle cx="541.1" cy="109.7" r="1.5"/>
<circle cx="541.3" cy="108.6" r="1.5"/>
<circle cx="541.4" cy="115.8" r="1.5"/>
<circle cx="541.9" cy="115.9" r="1.5"/>
<circle cx="542.4" cy="115.6" r="1.25"/>
<circle cx="542.7" cy="112.8" r="1.25"/>
<circle cx="543.4" cy="110.1" r="1.25"/>
<circle cx="544" cy="106.9" r="1.25"/>
<circle cx="544.4" cy="103.8" r="1.25"/>
<circle cx="544.9" cy="99.5" r="1.25"/>
<circle cx="545" cy="97" r="1.5"/>
<circle cx="545.6" cy="100.3" r="1.5"/>
<circle cx="546" cy="96.7" r="1.5"/>
<circle cx="546.3" cy="96.1" r="1.5"/>
<circle cx="546.6" cy="98.9" r="1.5"/>
<circle cx="547" cy="106.3" r="1.5"/>
<circle cx="547.2" cy="105.8" r="1.5"/>
<circle cx="547.7" cy="103.6" r="1.5"/>
<circle cx="548" cy="103.2" r="1.5"/>
<circle cx="548.9" cy="99.1" r="1.5"/>
<circle cx="549.5" cy="106.8" r="1.5"/>
<circle cx="549.8" cy="105" r="1.5"/>
<circle cx="549.7" cy="96.6" r="1.5"/>
<circle cx="549.9" cy="99.7" r="1.5"/>
<circle cx="550.1" cy="98.5" r="1.5"/>
<circle cx="550.6" cy="102.6" r="1.5"/>
<circle cx="550.6" cy="103.3" r="1.5"/>
<circle cx="550.6" cy="98.3" r="1.5"/>
<circle cx="550.7" cy="97.6" r="1.5"/>
<circle cx="551.2" cy="99.1" r="1.5"/>
<circle cx="551.2" cy="99.5" r="1.5"/>
<circle cx="551.8" cy="96.7" r="1.5"/>
<circle cx="551.6" cy="101.4" r="1.5"/>
<circle cx="551.9" cy="98.5" r="1.5"/>
<circle cx="552" cy="92.9" r="1.5"/>
<circle cx="552.4" cy="93.5" r="1.5"/>
<circle cx="552.4" cy="93.4" r="1.5"/>
<circle cx="552.8" cy="89.3" r="1.5"/>
<circle cx="552.7" cy="90.7" r="1.5"/>
<circle cx="553.1" cy="90.7" r="1.5"/>
<circle cx="553.1" cy="88.1" r="1.5"/>
<circle cx="553.5" cy="91" r="1.5"/>
<circle cx="553.7" cy="89.3" r="1.5"/>
<circle cx="553.8" cy="89.5" r="1.5"/>
<circle cx="554.4" cy="89.5" r="1.5"/>
<circle cx="554.6" cy="93.1" r="1.5"/>
<circle cx="555.2" cy="93.9" r="1.5"/>
<circle cx="555.6" cy="91.1" r="1.5"/>
<circle cx="556" cy="96.4" r="1.5"/>
<circle cx="556.6" cy="90.8" r="1.5"/>
<circle cx="556.9" cy="94.8" r="1.5"/>
<circle cx="557.3" cy="91.7" r="1.5"/>
<circle cx="557.6" cy="93.9" r="1.5"/>
<circle cx="557.8" cy="96.1" r="1.5"/>
<circle cx="557.9" cy="96.4" r="1.5"/>
<circle cx="558.4" cy="97.7" r="1.5"/>
<circle cx="558.4" cy="97.6" r="1.5"/>
<circle cx="558.8" cy="99.1" r="1.5"/>
<circle cx="558.9" cy="101.1" r="1.5"/>
<circle cx="559.4" cy="100.7" r="1.5"/>
<circle cx="559.4" cy="97" r="1.5"/>
<circle cx="559.8" cy="100.4" r="1.5"/>
<circle cx="560.1" cy="100.7" r="1.5"/>
<circle cx="560.3" cy="101.5" r="1.5"/>
<circle cx="560.5" cy="104.3" r="1.5"/>
<circle cx="561" cy="103.2" r="1.5"/>
<circle cx="561.1" cy="105.3" r="1.5"/>
<circle cx="561.8" cy="106.5" r="1.5"/>
<circle cx="562.3" cy="105.6" r="1.5"/>
<circle cx="562.6" cy="104.2" r="1.5"/>
<circle cx="563.2" cy="107.7" r="1.5"/>
<circle cx="563.6" cy="111.1" r="1.5"/>
<circle cx="563.7" cy="106.2" r="1.5"/>
<circle cx="564.7" cy="108" r="1.5"/>
<circle cx="564.8" cy="107.9" r="1.5"/>
<circle cx="565.3" cy="114.2" r="1.5"/>
<circle cx="565.6" cy="110.5" r="1.5"/>
<circle cx="566.1" cy="112.5" r="1.5"/>
<circle cx="566.5" cy="116.5" r="1.5"/>
<circle cx="566.8" cy="115.5" r="1.5"/>
<circle cx="567.7" cy="114.2" r="1.5"/>
<circle cx="567.5" cy="114.1" r="1.5"/>
<circle cx="567.7" cy="115.4" r="1.5"/>
<circle cx="568.8" cy="114.3" r="1.5"/>
<circle cx="569.2" cy="116.3" r="1.5"/>
<circle cx="569.6" cy="119.5" r="1.5"/>
<circle cx="569.8" cy="120.8" r="1.5"/>
<circle cx="570.5" cy="121.7" r="1.5"/>
<circle cx="570.7" cy="117" r="1.5"/>
<circle cx="570.6" cy="114.5" r="1.5"/>
<circle cx="571.1" cy="117.1" r="1.5"/>
<circle cx="571.4" cy="115.8" r="1.5"/>
<circle cx="571.3" cy="113.7" r="1.5"/>
<circle cx="571.8" cy="114.8" r="1.5"/>
<circle cx="571.8" cy="111.3" r="1.5"/>
<circle cx="572.1" cy="107.4" r="1.5"/>
<circle cx="572.6" cy="110.8" r="1.5"/>
<circle cx="573.1" cy="112.2" r="1.5"/>
<circle cx="573" cy="110.2" r="1.5"/>
<circle cx="573.6" cy="107.8" r="1.5"/>
<circle cx="573.3" cy="110" r="1.5"/>
<circle cx="573.6" cy="104.9" r="1.5"/>
<circle cx="574" cy="108.3" r="1.5"/>
<circle cx="574.3" cy="102.7" r="1.5"/>
<circle cx="574.4" cy="108.1" r="1.5"/>
<circle cx="574.6" cy="108.8" r="1.5"/>
<circle cx="574.7" cy="108.1" r="1.5"/>
<circle cx="574.9" cy="110.4" r="1.5"/>
<circle cx="575.5" cy="113.3" r="1.5"/>
<circle cx="575.4" cy="108.3" r="1.5"/>
<circle cx="575.8" cy="113.1" r="1.5"/>
<circle cx="575.9" cy="112.6" r="1.5"/>
<circle cx="576.4" cy="113.2" r="1.5"/>
<circle cx="576.5" cy="114.9" r="1.5"/>
<circle cx="576.2" cy="119.4" r="1.5"/>
<circle cx="576.8" cy="114.4" r="1.5"/>
<circle cx="576.9" cy="113.5" r="1.5"/>
<circle cx="577.3" cy="120.3" r="1.5"/>
<circle cx="577.5" cy="119.1" r="1.5"/>
<circle cx="578.1" cy="120.5" r="1.5"/>
<circle cx="578.4" cy="117.3" r="1.5"/>
<circle cx="578.8" cy="118.3" r="1.5"/>
<circle cx="579.2" cy="117.3" r="1.5"/>
<circle cx="579.6" cy="121.3" r="1.5"/>
<circle cx="580.2" cy="111.1" r="1.5"/>
<circle cx="580.8" cy="108.7" r="1.5"/>
<circle cx="581.3" cy="118.9" r="1.5"/>
<circle cx="581.9" cy="110.8" r="1.5"/>
<circle cx="582.4" cy="109.2" r="1.5"/>
<circle cx="582.8" cy="113.9" r="1.5"/>
<circle cx="582.8" cy="112" r="1.5"/>
<circle cx="583.3" cy="118.6" r="1.5"/>
<circle cx="583.4" cy="115.6" r="1.5"/>
<circle cx="583.7" cy="116.5" r="1.5"/>
<circle cx="584.1" cy="121" r="1.5"/>
<circle cx="584" cy="120.7" r="1.5"/>
<circle cx="584.2" cy="120.9" r="1.5"/>
<circle cx="584.7" cy="119.8" r="1.5"/>
<circle cx="584.8" cy="120.9" r="1.5"/>
<circle cx="585.1" cy="125.5" r="1.5"/>
<circle cx="585.3" cy="119.1" r="1.5"/>
<circle cx="585.8" cy="121" r="1.5"/>
<circle cx="585.8" cy="123.4" r="1.5"/>
<circle cx="586.1" cy="122" r="1.5"/>
<circle cx="586.3" cy="119.9" r="1.5"/>
<circle cx="586.7" cy="129.2" r="1.5"/>
<circle cx="586.8" cy="121.5" r="1.5"/>
<circle cx="587" cy="123.9" r="1.5"/>
<circle cx="587.3" cy="128.6" r="1.5"/>
<circle cx="587.6" cy="125.9" r="1.5"/>
<circle cx="587.9" cy="129.6" r="1.5"/>
<circle cx="588.6" cy="126.7" r="1.5"/>
<circle cx="588.6" cy="127.6" r="1.5"/>
<circle cx="588.8" cy="120.8" r="1.5"/>
<circle cx="589.3" cy="126.2" r="1.5"/>
<circle cx="589.8" cy="124.7" r="1.5"/>
<circle cx="590" cy="117.8" r="1.5"/>
<circle cx="590.5" cy="119.6" r="1.5"/>
<circle cx="590.6" cy="125.1" r="1.5"/>
<circle cx="591.2" cy="120.8" r="1.5"/>
<circle cx="591.3" cy="119.7" r="1.5"/>
<circle cx="591.7" cy="119.3" r="1.5"/>
<circle cx="592.2" cy="120.6" r="1.5"/>
<circle cx="592.7" cy="114.7" r="1.5"/>
<circle cx="593.3" cy="116.4" r="1.5"/>
<circle cx="594.1" cy="117.5" r="1.5"/>
<circle cx="594.6" cy="115.5" r="1.5"/>
<circle cx="595.6" cy="112.4" r="1.5"/>
<circle cx="596" cy="118.6" r="1.5"/>
<circle cx="597" cy="115.3" r="1.5"/>
<circle cx="597.3" cy="117" r="1.5"/>
<circle cx="598.8" cy="114.9" r="1.5"/>
<circle cx="598.9" cy="117.3" r="1.5"/>
<circle cx="599.6" cy="116.1" r="1.5"/>
<circle cx="599.7" cy="111.1" r="1.5"/>
<circle cx="600.5" cy="116.7" r="1.5"/>
<circle cx="600.6" cy="113.2" r="1.5"/>
<circle cx="601.1" cy="112.3" r="1.5"/>
<circle cx="601.5" cy="114" r="1.5"/>
<circle cx="602.1" cy="114.3" r="1.5"/>
<circle cx="602.1" cy="111" r="1.5"/>
<circle cx="602.9" cy="108.8" r="1.5"/>
<circle cx="603.1" cy="112.9" r="1.5"/>
<circle cx="603.2" cy="108.8" r="1.5"/>
<circle cx="603.6" cy="105.9" r="1.5"/>
<circle cx="604" cy="104.9" r="1.5"/>
<circle cx="604.3" cy="111.9" r="1.5"/>
<circle cx="604.4" cy="106.4" r="1.5"/>
<circle cx="604.6" cy="107.2" r="1.5"/>
<circle cx="604.9" cy="101.5" r="1.5"/>
<circle cx="605.1" cy="106.6" r="1.5"/>
<circle cx="605.1" cy="104.2" r="1.5"/>
<circle cx="605.6" cy="98.8" r="1.5"/>
<circle cx="605.5" cy="96.9" r="1.5"/>
<circle cx="606" cy="99.2" r="1.5"/>
<circle cx="606.2" cy="101.4" r="1.5"/>
<circle cx="606.2" cy="100.1" r="1.5"/>
<circle cx="606.7" cy="103.1" r="1.5"/>
<circle cx="606.6" cy="98.9" r="1.5"/>
<circle cx="607.1" cy="101.8" r="1.5"/>
<circle cx="607.4" cy="88" r="1.5"/>
<circle cx="607.6" cy="92.6" r="1.5"/>
<circle cx="607.6" cy="91.9" r="1.5"/>
<circle cx="607.9" cy="93.1" r="1.25"/>
<circle cx="607.8" cy="90.7" r="1.25"/>
<circle cx="608.1" cy="87.5" r="1.25"/>
<circle cx="608.4" cy="84.3" r="1.25"/>
<circle cx="608.4" cy="82.6" r="1.25"/>
<circle cx="608.8" cy="79.8" r="1.25"/>
<circle cx="608.5" cy="76.6" r="1.25"/>
<circle cx="609.1" cy="75.5" r="1.25"/>
<circle cx="608.6" cy="72.1" r="1.25"/>
<circle cx="608.8" cy="70.9" r="1.25"/>
<circle cx="609.2" cy="65.5" r="1.25"/>
<circle cx="609.3" cy="65.1" r="1.25"/>
<circle cx="609.4" cy="62.1" r="1.25"/>
<circle cx="609.5" cy="59.3" r="1.25"/>
<circle cx="609.8" cy="55.9" r="1.25"/>
<circle cx="610" cy="53.9" r="1.25"/>
<circle cx="610.1" cy="50.6" r="1.25"/>
<circle cx="610.2" cy="48.6" r="1.25"/>
<circle cx="610.7" cy="43.9" r="1.25"/>
<circle cx="610.7" cy="44.2" r="1.25"/>
<circle cx="611.1" cy="45.4" r="1.25"/>
<circle cx="611.3" cy="48" r="1.25"/>
<circle cx="611" cy="53.1" r="1.25"/>
<circle cx="611.2" cy="54.3" r="1.25"/>
<circle cx="611.1" cy="56.5" r="1.25"/>
<circle cx="611.3" cy="60" r="1.25"/>
<circle cx="611.3" cy="63.7" r="1.25"/>
<circle cx="611.7" cy="65.3" r="1.25"/>
<circle cx="611.8" cy="69.1" r="1.25"/>
<circle cx="612.3" cy="71.1" r="1.25"/>
<circle cx="612.4" cy="75.4" r="1.25"/>
<circle cx="612.5" cy="77.1" r="1.25"/>
<circle cx="612.1" cy="80.1" r="1.25"/>
<circle cx="612.5" cy="82.4" r="1.25"/>
<circle cx="612.3" cy="84.8" r="1.25"/>
<circle cx="612.8" cy="87" r="1.25"/>
<circle cx="613" cy="91.8" r="1.25"/>
<circle cx="613.1" cy="92.6" r="1.25"/>
<circle cx="613.5" cy="90.5" r="1.5"/>
<circle cx="613.6" cy="91" r="1.5"/>
<circle cx="613.9" cy="99.3" r="1.5"/>
<circle cx="614.4" cy="101.1" r="1.5"/>
<circle cx="614.3" cy="98.6" r="1.5"/>
<circle cx="615.2" cy="99.5" r="1.5"/>
<circle cx="615.3" cy="98.3" r="1.5"/>
<circle cx="615.7" cy="95.6" r="1.5"/>
<circle cx="615.7" cy="105.8" r="1.5"/>
<circle cx="616" cy="102.1" r="1.5"/>
<circle cx="616.9" cy="98.8" r="1.5"/>
<circle cx="616.9" cy="103" r="1.5"/>
<circle cx="617" cy="100.5" r="1.5"/>
<circle cx="617.7" cy="107" r="1.5"/>
<circle cx="617.7" cy="106.8" r="1.5"/>
<circle cx="618.4" cy="106.4" r="1.5"/>
<circle cx="618.4" cy="102.5" r="1.5"/>
<circle cx="618.7" cy="107.6" r="1.5"/>
<circle cx="618.7" cy="104.8" r="1.5"/>
<circle cx="619.2" cy="105" r="1.5"/>
<circle cx="619.4" cy="105.7" r="1.5"/>
<circle cx="619.8" cy="110.3" r="1.5"/>
<circle cx="620.1" cy="110.2" r="1.5"/>
<circle cx="620.3" cy="108.4" r="1.5"/>
<circle cx="620.5" cy="114.9" r="1.5"/>
</g>
<polyline fill="none" stroke="#000" stroke-width="3.6" stroke-linecap="round" stroke-linejoin="round" points="42.4,79.8 44.1,74.3 45.7,69 47.4,63.8 49.1,58.9 50.7,54.1 52.4,49.6 54,45.2 55.7,41.1 57.4,37.1 59,33.3 60.7,29.8"/>
<path fill="none" stroke="#000" stroke-width="3.2" stroke-linecap="round" stroke-linejoin="round" d="M60.8 131.3 C62.2 128.2 66.7 118.5 69.4 113 C72.1 107.5 73.9 104.5 76.8 98.2 C79.7 91.9 83.3 84 86.6 75 C89.9 66 94.2 50.6 96.4 44.3 C98.6 38 99 38.6 100 37 C101 35.4 102.1 34.9 102.5 34.5"/>
<polyline fill="none" stroke="#000" stroke-width="3.6" stroke-linecap="round" stroke-linejoin="round" points="103.6,134.2 105.2,131.5 106.8,128.8 108.4,126.1 109.9,123.3 111.5,120.4 113.1,117.6 114.7,114.6 116.3,111.7 117.9,108.7 119.5,105.7 121,102.6 122.6,99.5 124.2,96.3 125.8,93.1 127.4,89.9 129,86.6 130.6,83.3 132.2,80 133.7,76.6 135.3,73.2 136.9,69.7 138.5,66.2 140.1,62.6 141.7,59 143.3,55.4 144.8,51.8 146.4,48.1 148,44.3 149.6,40.5"/>
<polyline fill="none" stroke="#000" stroke-width="3.6" stroke-linecap="round" stroke-linejoin="round" points="150.6,142.4 152.2,139.7 153.7,136.9 155.3,134.2 156.9,131.5 158.4,128.7 160,126 161.6,123.2 163.1,120.4 164.7,117.7 166.3,114.9 167.8,112.1 169.4,109.3 171,106.5 172.5,103.6 174.1,100.8 175.7,98 177.2,95.1 178.8,92.3 180.4,89.4 181.9,86.5 183.5,83.6 185.1,80.8 186.6,77.9 188.2,74.9 189.8,72 191.3,69.1 192.9,66.2 194.5,63.2 196,60.3 197.6,57.3 199.2,54.4 200.7,51.4 202.3,48.4"/>
<polyline fill="none" stroke="#000" stroke-width="3.6" stroke-linecap="round" stroke-linejoin="round" points="202.4,140.6 204,138.7 205.5,136.9 207.1,135 208.6,133 210.2,131.1 211.8,129.1 213.3,127.1 214.9,125 216.4,123 218,120.9 219.5,118.7 221.1,116.6 222.7,114.4 224.2,112.2 225.8,109.9 227.3,107.7 228.9,105.4 230.4,103.1 232,100.7 233.6,98.3 235.1,95.9 236.7,93.5 238.2,91.1 239.8,88.6 241.4,86.1 242.9,83.5 244.5,80.9 246,78.3 247.6,75.7 249.2,73.1 250.7,70.4 252.3,67.7 253.8,64.9 255.4,62.2 256.9,59.4 258.5,56.6"/>
<path fill="none" stroke="#000" stroke-width="3.2" stroke-linecap="round" stroke-linejoin="round" d="M258.5 150.1 C260.2 148.6 265.7 144.6 268.6 141.3 C271.5 138 274 133.9 276 130.2 C278 126.5 279.1 121.7 280.6 119.2 C282.1 116.8 283.7 116.9 285.2 115.5 C286.7 114.1 287.8 114.3 289.8 110.9 C291.8 107.5 294.6 100.1 297.2 95.2 C299.8 90.3 302.6 86.6 305.5 81.4 C308.4 76.2 313.2 66.8 314.7 63.9"/>
<polyline fill="none" stroke="#000" stroke-width="3.6" stroke-linecap="round" stroke-linejoin="round" points="314.6,151.5 316.2,149.6 317.7,147.6 319.3,145.6 320.8,143.6 322.4,141.6 323.9,139.5 325.5,137.4 327.1,135.2 328.6,133.1 330.2,130.9 331.7,128.7 333.3,126.4 334.8,124.2 336.4,121.9 338,119.5 339.5,117.2 341.1,114.8 342.6,112.4 344.2,110 345.7,107.5 347.3,105 348.9,102.5 350.4,100 352,97.4 353.5,94.8 355.1,92.2 356.6,89.6 358.2,86.9 359.8,84.2 361.3,81.5 362.9,78.7 364.4,75.9 366,73.1 367.5,70.3 369.1,67.4"/>
<polyline fill="none" stroke="#000" stroke-width="3.6" stroke-linecap="round" stroke-linejoin="round" points="369.1,152.2 370.7,151.1 372.2,149.9 373.8,148.7 375.3,147.4 376.9,146.1 378.4,144.7 380,143.2 381.5,141.6 383.1,140 384.6,138.3 386.2,136.6 387.7,134.8 389.2,132.9 390.8,131 392.4,129 393.9,126.9 395.5,124.8 397,122.6 398.6,120.3 400.1,117.9 401.7,115.5 403.2,113.1 404.8,110.5 406.3,107.9 407.9,105.3 409.4,102.5 410.9,99.7 412.5,96.9 414.1,94 415.6,91 417.2,87.9 418.7,84.8 420.2,81.6 421.8,78.3"/>
<polyline fill="none" stroke="#000" stroke-width="3.6" stroke-linecap="round" stroke-linejoin="round" points="421.8,161 423.4,159.1 425,157.1 426.5,155.2 428.1,153.1 429.7,151 431.3,148.9 432.8,146.7 434.4,144.5 436,142.3 437.6,140 439.1,137.6 440.7,135.2 442.3,132.7 443.9,130.2 445.5,127.7 447,125.1 448.6,122.5 450.2,119.8 451.8,117 453.3,114.3 454.9,111.4 456.5,108.6 458.1,105.7 459.7,102.7 461.2,99.7 462.8,96.6 464.4,93.5 466,90.4 467.5,87.2 469.1,83.9 470.7,80.6 472.3,77.3 473.8,73.9 475.4,70.5 477,67"/>
<polyline fill="none" stroke="#000" stroke-width="3.6" stroke-linecap="round" stroke-linejoin="round" points="477,153.7 478.5,152.3 480.1,151 481.6,149.6 483.1,148.2 484.7,146.8 486.2,145.4 487.8,143.9 489.3,142.4 490.8,140.9 492.4,139.3 493.9,137.7 495.4,136.1 497,134.5 498.5,132.8 500,131.1 501.6,129.4 503.1,127.7 504.7,125.9 506.2,124.1 507.7,122.3 509.3,120.4 510.8,118.5 512.3,116.6 513.9,114.7 515.4,112.7 517,110.8 518.5,108.7 520,106.7 521.6,104.6 523.1,102.5 524.6,100.4 526.2,98.3 527.7,96.1 529.2,93.9 530.8,91.7 532.3,89.4 533.9,87.1 535.4,84.8 536.9,82.5 538.5,80.1 540,77.7"/>
<polyline fill="none" stroke="#000" stroke-width="3.6" stroke-linecap="round" stroke-linejoin="round" points="539.6,158.9 541.1,157.7 542.7,156.4 544.2,155 545.7,153.6 547.3,152.1 548.8,150.6 550.3,149.1 551.9,147.5 553.4,145.8 554.9,144.1 556.5,142.4 558,140.6 559.5,138.8 561.1,136.9 562.6,135 564.1,133 565.7,131 567.2,128.9 568.7,126.8 570.3,124.7 571.8,122.5 573.3,120.2 574.9,117.9 576.4,115.6 577.9,113.2 579.5,110.8 581,108.3 582.5,105.8 584.1,103.2 585.6,100.6 587.1,97.9 588.7,95.2 590.2,92.5 591.7,89.7 593.3,86.8 594.8,83.9 596.3,81 597.9,78 599.4,74.9 600.9,71.9 602.5,68.7 604,65.6 605.5,62.4 607.1,59.1 608.6,55.8 610.1,52.4 611.7,49 613.2,45.6"/>
<path fill="none" stroke="#000" stroke-width="3.2" stroke-linecap="round" stroke-linejoin="round" d="M613.5 145 L620.6 140.1"/>
<path d="M61.1 16.4V24.4 M59.3 22L61.1 24.8L62.9 22" stroke="#f08a3c" stroke-width="0.9" fill="none"/>
<path d="M103.3 23V31 M101.5 28.6L103.3 31.4L105.1 28.6" stroke="#f08a3c" stroke-width="0.9" fill="none"/>
<path d="M150.9 30.8V38.8 M149.1 36.4L150.9 39.2L152.7 36.4" stroke="#f08a3c" stroke-width="0.9" fill="none"/>
<path d="M203.6 38.2V46.2 M201.8 43.8L203.6 46.6L205.4 43.8" stroke="#f08a3c" stroke-width="0.9" fill="none"/>
<path d="M260.6 40.6V48.6 M258.8 46.2L260.6 49L262.4 46.2" stroke="#f08a3c" stroke-width="0.9" fill="none"/>
<path d="M316.3 51.7V59.7 M314.5 57.3L316.3 60.1L318.1 57.3" stroke="#f08a3c" stroke-width="0.9" fill="none"/>
<path d="M370.3 54.1V62.1 M368.5 59.7L370.3 62.5L372.1 59.7" stroke="#f08a3c" stroke-width="0.9" fill="none"/>
<path d="M423 49.2V57.2 M421.2 54.8L423 57.6L424.8 54.8" stroke="#f08a3c" stroke-width="0.9" fill="none"/>
<path d="M478.3 55.3V63.3 M476.5 60.9L478.3 63.7L480.1 60.9" stroke="#f08a3c" stroke-width="0.9" fill="none"/>
<path d="M540.8 53.7V61.7 M539 59.3L540.8 62.1L542.6 59.3" stroke="#f08a3c" stroke-width="0.9" fill="none"/>
<path d="M614.4 34.6V42.6 M612.6 40.2L614.4 43L616.2 40.2" stroke="#f08a3c" stroke-width="0.9" fill="none"/>
<text x="0.2" y="223.4" font-weight="bold" style="font-size:13.5px">b</text>
<line x1="59.5" y1="237.2" x2="59.5" y2="318" stroke="#505050" stroke-width="1"/>
<line x1="56.5" y1="318" x2="59.5" y2="318" stroke="#505050" stroke-width="1"/>
<text x="53.5" y="321.6" text-anchor="end">0.4</text>
<line x1="56.5" y1="297.8" x2="59.5" y2="297.8" stroke="#505050" stroke-width="1"/>
<text x="53.5" y="301.4" text-anchor="end">0.6</text>
<line x1="56.5" y1="277.6" x2="59.5" y2="277.6" stroke="#505050" stroke-width="1"/>
<text x="53.5" y="281.2" text-anchor="end">0.8</text>
<line x1="56.5" y1="257.4" x2="59.5" y2="257.4" stroke="#505050" stroke-width="1"/>
<text x="53.5" y="261" text-anchor="end">1.0</text>
<line x1="56.5" y1="237.2" x2="59.5" y2="237.2" stroke="#505050" stroke-width="1"/>
<text x="53.5" y="240.8" text-anchor="end">1.2</text>
<line x1="59.5" y1="318" x2="165.4" y2="318" stroke="#505050" stroke-width="1"/>
<line x1="58.6" y1="318" x2="58.6" y2="321" stroke="#505050" stroke-width="1"/>
<text x="58.6" y="332.5" text-anchor="middle">−1.5</text>
<line x1="85.3" y1="318" x2="85.3" y2="321" stroke="#505050" stroke-width="1"/>
<text x="85.3" y="332.5" text-anchor="middle">−1</text>
<line x1="112" y1="318" x2="112" y2="321" stroke="#505050" stroke-width="1"/>
<text x="112" y="332.5" text-anchor="middle">−0.5</text>
<line x1="138.7" y1="318" x2="138.7" y2="321" stroke="#505050" stroke-width="1"/>
<text x="138.7" y="332.5" text-anchor="middle">0</text>
<line x1="165.4" y1="318" x2="165.4" y2="321" stroke="#505050" stroke-width="1"/>
<text x="165.4" y="332.5" text-anchor="middle">0.5</text>
<text x="112" y="347" text-anchor="middle">Time from division (h)</text>
<text x="31" y="277" text-anchor="middle" transform="rotate(-90 31 277)">Rhod123/mass (a.u.)</text>
<text x="61" y="236" fill="#ec7a2c">Quenching mode</text>
<line x1="138.7" y1="241" x2="138.7" y2="318" stroke="#333" stroke-width="0.8" stroke-dasharray="2.5,2"/>
<g fill="#ec7a2c">
<circle cx="65.5" cy="243.5" r="1.4"/>
<circle cx="67.6" cy="244.9" r="1.4"/>
<circle cx="69.9" cy="248.9" r="1.4"/>
<circle cx="71.6" cy="247" r="1.4"/>
<circle cx="73.9" cy="251.4" r="1.4"/>
<circle cx="76" cy="252.2" r="1.4"/>
<circle cx="77.8" cy="253.7" r="1.4"/>
<circle cx="79.9" cy="252.2" r="1.4"/>
<circle cx="81.6" cy="257.7" r="1.4"/>
<circle cx="83.9" cy="252.2" r="1.4"/>
<circle cx="85.7" cy="254.9" r="1.4"/>
<circle cx="87.8" cy="254.2" r="1.4"/>
<circle cx="90" cy="258.6" r="1.4"/>
<circle cx="92.1" cy="265.4" r="1.4"/>
<circle cx="93.9" cy="274.3" r="1.4"/>
<circle cx="96.3" cy="279.9" r="1.4"/>
<circle cx="98.8" cy="281.3" r="1.4"/>
<circle cx="100.9" cy="286.1" r="1.4"/>
<circle cx="103.4" cy="288.3" r="1.4"/>
<circle cx="105.8" cy="291.3" r="1.4"/>
<circle cx="107.9" cy="290.4" r="1.4"/>
<circle cx="110.4" cy="288.7" r="1.4"/>
<circle cx="113.2" cy="284.8" r="1.4"/>
<circle cx="115.8" cy="283.8" r="1.4"/>
<circle cx="118.8" cy="274.7" r="1.4"/>
<circle cx="121.6" cy="265.4" r="1.4"/>
<circle cx="124.4" cy="267.3" r="1.4"/>
<circle cx="127" cy="263.6" r="1.4"/>
<circle cx="129.8" cy="264.7" r="1.4"/>
<circle cx="132.4" cy="269.9" r="1.4"/>
<circle cx="135.2" cy="263.6" r="1.4"/>
<circle cx="138.2" cy="267.3" r="1.4"/>
<circle cx="140.8" cy="267.1" r="1.4"/>
<circle cx="143.6" cy="268.2" r="1.4"/>
<circle cx="146.5" cy="265" r="1.4"/>
<circle cx="149.3" cy="269.9" r="1.4"/>
<circle cx="152.1" cy="268" r="1.4"/>
<circle cx="155.2" cy="264.7" r="1.4"/>
<circle cx="158" cy="266.3" r="1.4"/>
<circle cx="160.8" cy="270.6" r="1.4"/>
<circle cx="163.6" cy="267.1" r="1.4"/>
</g>
<line x1="172.6" y1="254.8" x2="172.6" y2="297" stroke="#222" stroke-width="0.8"/>
<path d="M171.1 296 L172.6 301 L174.1 296 Z" fill="#000"/>
<text x="185.3" y="281.8" text-anchor="middle" transform="rotate(-90 185.3 281.8)">ΔΨm increase</text>
<text x="0.2" y="373" font-weight="bold" style="font-size:13.5px">c</text>
<line x1="59.5" y1="389.2" x2="59.5" y2="470.5" stroke="#505050" stroke-width="1"/>
<line x1="56.5" y1="470.5" x2="59.5" y2="470.5" stroke="#505050" stroke-width="1"/>
<text x="53.5" y="474.1" text-anchor="end">0.7</text>
<line x1="56.5" y1="454.2" x2="59.5" y2="454.2" stroke="#505050" stroke-width="1"/>
<text x="53.5" y="457.8" text-anchor="end">0.8</text>
<line x1="56.5" y1="438" x2="59.5" y2="438" stroke="#505050" stroke-width="1"/>
<text x="53.5" y="441.6" text-anchor="end">0.9</text>
<line x1="56.5" y1="421.7" x2="59.5" y2="421.7" stroke="#505050" stroke-width="1"/>
<text x="53.5" y="425.3" text-anchor="end">1.0</text>
<line x1="56.5" y1="405.5" x2="59.5" y2="405.5" stroke="#505050" stroke-width="1"/>
<text x="53.5" y="409.1" text-anchor="end">1.1</text>
<line x1="56.5" y1="389.2" x2="59.5" y2="389.2" stroke="#505050" stroke-width="1"/>
<text x="53.5" y="392.8" text-anchor="end">1.2</text>
<line x1="59.5" y1="470.5" x2="166.2" y2="470.5" stroke="#505050" stroke-width="1"/>
<line x1="59" y1="470.5" x2="59" y2="473.5" stroke="#505050" stroke-width="1"/>
<text x="59" y="485" text-anchor="middle">−1.5</text>
<line x1="85.8" y1="470.5" x2="85.8" y2="473.5" stroke="#505050" stroke-width="1"/>
<text x="85.8" y="485" text-anchor="middle">−1</text>
<line x1="112.6" y1="470.5" x2="112.6" y2="473.5" stroke="#505050" stroke-width="1"/>
<text x="112.6" y="485" text-anchor="middle">−0.5</text>
<line x1="139.4" y1="470.5" x2="139.4" y2="473.5" stroke="#505050" stroke-width="1"/>
<text x="139.4" y="485" text-anchor="middle">0</text>
<line x1="166.2" y1="470.5" x2="166.2" y2="473.5" stroke="#505050" stroke-width="1"/>
<text x="166.2" y="485" text-anchor="middle">0.5</text>
<text x="112" y="499.5" text-anchor="middle">Time from division (h)</text>
<text x="17.2" y="429.5" text-anchor="middle" transform="rotate(-90 17.2 429.5)">MitoTracker green</text>
<text x="29.8" y="429.5" text-anchor="middle" transform="rotate(-90 29.8 429.5)">/mass (a.u.)</text>
<text x="63.5" y="388" fill="#3ab54a">Mitochondrial</text>
<text x="63.5" y="401" fill="#3ab54a">content</text>
<line x1="139.4" y1="393.5" x2="139.4" y2="470.5" stroke="#333" stroke-width="0.8" stroke-dasharray="2.5,2"/>
<g fill="#3ab54a">
<circle cx="60.3" cy="424.9" r="1.4"/>
<circle cx="62.9" cy="423.7" r="1.4"/>
<circle cx="65.9" cy="427.7" r="1.4"/>
<circle cx="68.1" cy="425.4" r="1.4"/>
<circle cx="71.1" cy="426.6" r="1.4"/>
<circle cx="73.4" cy="421.9" r="1.4"/>
<circle cx="76.4" cy="420.3" r="1.4"/>
<circle cx="79" cy="425.9" r="1.4"/>
<circle cx="81.6" cy="430.5" r="1.4"/>
<circle cx="84.4" cy="425.9" r="1.4"/>
<circle cx="86.9" cy="427.2" r="1.4"/>
<circle cx="89.2" cy="427.5" r="1.4"/>
<circle cx="91.8" cy="429.8" r="1.4"/>
<circle cx="94.4" cy="431.9" r="1.4"/>
<circle cx="97.4" cy="426.6" r="1.4"/>
<circle cx="99.7" cy="426.6" r="1.4"/>
<circle cx="102.3" cy="428.4" r="1.4"/>
<circle cx="104.9" cy="428.6" r="1.4"/>
<circle cx="107.6" cy="426.6" r="1.4"/>
<circle cx="110.2" cy="423.7" r="1.4"/>
<circle cx="112.5" cy="423.7" r="1.4"/>
<circle cx="116" cy="428" r="1.4"/>
<circle cx="118.1" cy="428" r="1.4"/>
<circle cx="121.2" cy="425.4" r="1.4"/>
<circle cx="123.9" cy="426.6" r="1.4"/>
<circle cx="126.3" cy="426.6" r="1.4"/>
<circle cx="128.6" cy="418.9" r="1.4"/>
<circle cx="131.6" cy="421.4" r="1.4"/>
<circle cx="134.2" cy="425.4" r="1.4"/>
<circle cx="139.4" cy="421.4" r="1.4"/>
<circle cx="142.1" cy="416.1" r="1.4"/>
<circle cx="144.7" cy="423.1" r="1.4"/>
<circle cx="147.3" cy="419.3" r="1.4"/>
<circle cx="150" cy="416.6" r="1.4"/>
<circle cx="152.6" cy="420.1" r="1.4"/>
<circle cx="155.2" cy="422.2" r="1.4"/>
<circle cx="157.5" cy="417.9" r="1.4"/>
<circle cx="160.1" cy="419.3" r="1.4"/>
<circle cx="163.3" cy="417.9" r="1.4"/>
<circle cx="165.4" cy="413.7" r="1.4"/>
</g>
<line x1="173" y1="409" x2="173" y2="450.2" stroke="#222" stroke-width="0.8"/>
<path d="M171.5 409.8 L173 404.8 L174.5 409.8 Z" fill="#000"/>
<text x="185.2" y="429.4" text-anchor="middle" transform="rotate(-90 185.2 429.4)">Mitochondrial</text>
<text x="198.1" y="429.5" text-anchor="middle" transform="rotate(-90 198.1 429.5)">content increase</text>
<text x="217.3" y="223.5" font-weight="bold" style="font-size:13.5px">d</text>
<rect x="266.6" y="267.6" width="140.9" height="23.6" fill="#fdf0dc"/>
<line x1="266.6" y1="267.6" x2="407.5" y2="267.6" stroke="#f0a868" stroke-width="1"/>
<line x1="266.6" y1="291.2" x2="407.5" y2="291.2" stroke="#f0a868" stroke-width="1"/>
<line x1="266.6" y1="236.6" x2="266.6" y2="318" stroke="#505050" stroke-width="1"/>
<line x1="263.6" y1="318" x2="266.6" y2="318" stroke="#505050" stroke-width="1"/>
<text x="260.6" y="321.6" text-anchor="end">50</text>
<line x1="263.6" y1="290.9" x2="266.6" y2="290.9" stroke="#505050" stroke-width="1"/>
<text x="260.6" y="294.5" text-anchor="end">70</text>
<line x1="263.6" y1="263.7" x2="266.6" y2="263.7" stroke="#505050" stroke-width="1"/>
<text x="260.6" y="267.3" text-anchor="end">90</text>
<line x1="263.6" y1="236.6" x2="266.6" y2="236.6" stroke="#505050" stroke-width="1"/>
<text x="260.6" y="240.2" text-anchor="end">110</text>
<line x1="407.5" y1="236.6" x2="407.5" y2="318" stroke="#505050" stroke-width="1"/>
<line x1="407.5" y1="318" x2="410.5" y2="318" stroke="#505050" stroke-width="1"/>
<text x="413.5" y="321.6" fill="#d92b2f">0</text>
<line x1="407.5" y1="290.9" x2="410.5" y2="290.9" stroke="#505050" stroke-width="1"/>
<text x="413.5" y="294.5" fill="#d92b2f">0.5</text>
<line x1="407.5" y1="263.7" x2="410.5" y2="263.7" stroke="#505050" stroke-width="1"/>
<text x="413.5" y="267.3" fill="#d92b2f">1.0</text>
<line x1="407.5" y1="236.6" x2="410.5" y2="236.6" stroke="#505050" stroke-width="1"/>
<text x="413.5" y="240.2" fill="#d92b2f">1.5</text>
<line x1="266.6" y1="318" x2="407.5" y2="318" stroke="#505050" stroke-width="1"/>
<line x1="266.6" y1="318" x2="266.6" y2="321" stroke="#505050" stroke-width="1"/>
<text x="266.6" y="331.5" text-anchor="middle">0</text>
<line x1="301.8" y1="318" x2="301.8" y2="321" stroke="#505050" stroke-width="1"/>
<text x="301.8" y="331.5" text-anchor="middle">2</text>
<line x1="337" y1="318" x2="337" y2="321" stroke="#505050" stroke-width="1"/>
<text x="337" y="331.5" text-anchor="middle">4</text>
<line x1="372.2" y1="318" x2="372.2" y2="321" stroke="#505050" stroke-width="1"/>
<text x="372.2" y="331.5" text-anchor="middle">6</text>
<line x1="407.4" y1="318" x2="407.4" y2="321" stroke="#505050" stroke-width="1"/>
<text x="407.4" y="331.5" text-anchor="middle">8</text>
<text x="337" y="347" text-anchor="middle">Time (h)</text>
<text x="235.3" y="277" text-anchor="middle" transform="rotate(-90 235.3 277)">Buoyant mass (pg)</text>
<text x="443.5" y="277.3" text-anchor="middle" fill="#d92b2f" transform="rotate(-90 443.5 277.3)">TMRE/mass (a.u.)</text>
<text x="323" y="288.7" fill="#ee8a40" style="font-size:8.7px">G2/M transition size</text>
<polyline fill="none" stroke="#d92b2f" stroke-width="2.6" stroke-linejoin="round" points="266.4,272.9 266.9,273.7 267.4,271.9 267.9,273.3 268.4,272.3 268.9,272.2 269.4,273.8 270,272.3 270.5,272.1 271,272.6 271.5,272.9 272,271.8 272.5,272.3 273,270.9 273.5,271.3 274,271.2 274.5,270.5 275,270.3 275.6,270.1 276.1,271.2 276.6,271.2 277.1,271 277.6,271.2 278.1,270 278.6,271 279.1,271.2 279.7,271.5 280.2,270.2 280.7,270.5 281.2,269.1 281.7,270.3 282.2,269.1 282.7,269.8 283.2,272 283.7,269.5 284.2,272 284.7,271.7 285.3,271.4 285.8,272.1 286.3,272.3 286.8,272.8 287.3,272 287.8,271.8 288.3,271.9 288.8,271.8 289.3,272.7 289.7,272.3 290.2,273.9 290.7,271.7 291.2,272.5 291.7,272.8 292.1,272 292.6,275.4 293.1,272.1 293.6,274 294.1,273.9 294.6,275.8 295,273.1 295.5,275.7 296,274.4 296.5,274.7 297,274.1 297.5,274.9 298,273.3 298.5,273.9 298.9,274.1 299.4,275.1 299.9,271.5 300.4,274.4 300.9,273.8 301.4,272.4 301.9,272.9 302.4,272.1 302.9,273.6 303.4,272.3 303.8,271.7 304.3,271.6 304.8,271.4 305.3,271.2 305.8,270.5 306.3,272.7 306.8,269.3 307.3,267.8 307.8,270.4 308.2,270.2 308.7,270.4 309.2,269.8 309.7,269.7 310.2,269.9 310.7,270.3 311.2,269.1 311.7,269 312.2,270.8 312.8,269.6 313.3,268.2 313.8,270.8 314.3,269.5 314.8,268.3 315.3,267.7 315.8,268.8 316.3,267.8 316.9,267.5 317.4,267.2 317.9,267.8 318.4,269 318.9,267.7 319.4,266.7 319.9,268.3 320.4,267.7 320.9,268.2 321.4,268.3 321.9,267.1 322.5,267 323,266.9 323.5,265.9 324,267.2 324.5,267.7 325,266.6 325.5,266.1 325.9,265.7 326.2,264.9 326.6,264.6 327,264.5 327.3,263.8 327.7,263.8 328.1,262.5 328.4,263.6 328.8,263 329.2,261.7 329.5,260.4 329.9,261.9 330.4,262.7 330.9,261.1 331.4,261.3 331.9,261.1 332.4,262 332.9,260.7 333.4,262.1 333.9,261 334.4,261.9 334.9,261.1 335.4,260.8 335.9,259.7 336.4,260.3 336.9,260.6 337.4,261.3 337.9,261 338.4,260.2 338.9,261.1 339.4,261.6 340,260.7 340.5,260.4 341,260.5 341.5,261.4 342,261.2 342.5,260.1 343,261.1 343.5,260.6 344,260.6 344.5,262.4 345,262.3 345.5,261.2 346,262.1 346.5,262.6 347,261.9 347.5,262.5 348,263.3 348.5,261.6 349,263.4 349.5,263.8 350,263.7 350.5,262.3 351,263.8 351.5,262.9 352,264.2 352.5,264.3 353,264.1 353.5,263.4 354,263.6 354.5,264.6 355,263 355.5,264 356,263.8 356.5,263 357,265 357.5,263 358,264.5 358.5,261 359,260.6 359.5,263 360,262.6 360.5,261.7 361,261.9 361.5,260.4 362,261.4 362.5,261.1 363,261.7 363.5,262.6 364.1,261.9 364.6,262.2 365.1,261.3 365.6,261.6 366.1,262 366.6,261.7 367.1,262.9 367.6,261.1 368.1,263.1 368.6,260.7 369.1,262.2 369.6,260.6 370.1,262.4 370.7,261 371.2,261.1 371.7,261.2 372.2,260 372.7,259.5 373.2,258.6 373.7,261.1 374.2,259.4 374.6,259.3 375.1,259.5 375.6,260.9 376,257.8 376.5,259.2 376.9,258.5 377.4,259 377.9,257 378.3,257.9 378.8,258.7 379.3,259.1 379.7,259 380.2,256.8 380.7,257.8 381.2,257.9 381.7,257.1 382.2,257.3 382.6,259.3 383.1,259.2 383.6,259.1 384.1,260.4 384.6,258.9 385.1,260.3 385.6,260 386.1,260.1 386.6,260.6 387.1,260.5 387.6,260.7 388.2,260.9 388.7,262.4 389.2,260.7 389.7,261.9 390.2,261.7 390.7,261.1 391.2,262.1 391.7,260.8 392.2,262.3 392.7,260.7 393.2,260.9 393.7,261.5 394.2,261.8 394.8,261.8 395.3,261.8 395.8,260.8 396.3,260.2 396.8,261.3 397.3,261.1 397.8,260 398.3,261.6 398.8,261 399.3,260 399.8,261.2 400.3,259.7 400.8,260.1 401.3,261.1 401.9,259.6 402.4,260.8 402.9,259.7 403.4,261.4 403.9,260.2 404.4,260.9 404.9,259.6 405.4,260.5"/>
<path fill="none" stroke="#000" stroke-width="3.2" stroke-linecap="round" stroke-linejoin="round" d="M266.4 293 C268.6 292.5 274.8 291.2 279.5 289.9 C284.2 288.5 289.7 286.7 294.8 284.9 C299.9 283.1 305.1 281 310.2 279 C315.3 277 320.4 274.7 325.5 272.8 C330.6 270.9 335.7 269 340.8 267.4 C345.9 265.8 351.1 264.6 356.2 263 C361.3 261.4 366.4 259.6 371.5 258 C376.6 256.4 382.4 254.6 386.8 253.1 C391.2 251.6 394.7 250.1 397.8 248.8 C400.9 247.5 404.1 246.1 405.4 245.5"/>
<text x="217.1" y="373" font-weight="bold" style="font-size:13.5px">e</text>
<rect x="315.6" y="403.8" width="6" height="66.6" fill="#fdf0dc" stroke="#f0a868" stroke-width="1"/>
<text x="318.6" y="389" text-anchor="middle" fill="#ee8a40" style="font-size:8.6px">G2/M</text>
<text x="318.6" y="398.5" text-anchor="middle" fill="#ee8a40" style="font-size:8.6px">transition</text>
<line x1="267.3" y1="389.8" x2="267.3" y2="470.4" stroke="#505050" stroke-width="1"/>
<line x1="264.3" y1="470.4" x2="267.3" y2="470.4" stroke="#505050" stroke-width="1"/>
<text x="261.3" y="474" text-anchor="end">1.045</text>
<line x1="264.3" y1="443.5" x2="267.3" y2="443.5" stroke="#505050" stroke-width="1"/>
<text x="261.3" y="447.1" text-anchor="end">1.05</text>
<line x1="264.3" y1="416.7" x2="267.3" y2="416.7" stroke="#505050" stroke-width="1"/>
<text x="261.3" y="420.3" text-anchor="end">1.055</text>
<line x1="264.3" y1="389.8" x2="267.3" y2="389.8" stroke="#505050" stroke-width="1"/>
<text x="261.3" y="393.4" text-anchor="end">1.06</text>
<line x1="407.8" y1="389.8" x2="407.8" y2="470.4" stroke="#505050" stroke-width="1"/>
<line x1="407.8" y1="470.4" x2="410.8" y2="470.4" stroke="#505050" stroke-width="1"/>
<text x="413.8" y="474" fill="#d92b2f">0.5</text>
<line x1="407.8" y1="443.5" x2="410.8" y2="443.5" stroke="#505050" stroke-width="1"/>
<text x="413.8" y="447.1" fill="#d92b2f">1.0</text>
<line x1="407.8" y1="416.7" x2="410.8" y2="416.7" stroke="#505050" stroke-width="1"/>
<text x="413.8" y="420.3" fill="#d92b2f">1.5</text>
<line x1="407.8" y1="389.8" x2="410.8" y2="389.8" stroke="#505050" stroke-width="1"/>
<text x="413.8" y="393.4" fill="#d92b2f">2.0</text>
<line x1="267.3" y1="470.4" x2="407.8" y2="470.4" stroke="#505050" stroke-width="1"/>
<line x1="267.3" y1="470.4" x2="267.3" y2="473.4" stroke="#505050" stroke-width="1"/>
<text x="267.3" y="483.9" text-anchor="middle">−2</text>
<line x1="302.4" y1="470.4" x2="302.4" y2="473.4" stroke="#505050" stroke-width="1"/>
<text x="302.4" y="483.9" text-anchor="middle">−1.5</text>
<line x1="337.6" y1="470.4" x2="337.6" y2="473.4" stroke="#505050" stroke-width="1"/>
<text x="337.6" y="483.9" text-anchor="middle">−1</text>
<line x1="372.7" y1="470.4" x2="372.7" y2="473.4" stroke="#505050" stroke-width="1"/>
<text x="372.7" y="483.9" text-anchor="middle">−0.5</text>
<line x1="407.8" y1="470.4" x2="407.8" y2="473.4" stroke="#505050" stroke-width="1"/>
<text x="407.8" y="483.9" text-anchor="middle">0</text>
<text x="337.5" y="499.5" text-anchor="middle">Time from division (h)</text>
<text x="228" y="429" text-anchor="middle" transform="rotate(-90 228 429)">Density (g/ml)</text>
<text x="444" y="429" text-anchor="middle" fill="#d92b2f" transform="rotate(-90 444 429)">TMRE/mass (a.u.)</text>
<g fill="#000">
<circle cx="268.4" cy="415.9" r="1.2"/>
<circle cx="269.5" cy="416" r="1.2"/>
<circle cx="271.9" cy="415.5" r="1.2"/>
<circle cx="273.7" cy="415.2" r="1.2"/>
<circle cx="275.1" cy="415.8" r="1.2"/>
<circle cx="277.2" cy="415.7" r="1.2"/>
<circle cx="278.3" cy="414.8" r="1.2"/>
<circle cx="280.4" cy="414.9" r="1.2"/>
<circle cx="282" cy="414.9" r="1.2"/>
<circle cx="284.1" cy="415.5" r="1.2"/>
<circle cx="285.7" cy="415.1" r="1.2"/>
<circle cx="287.3" cy="415" r="1.2"/>
<circle cx="289.1" cy="415.2" r="1.2"/>
<circle cx="290.9" cy="415" r="1.2"/>
<circle cx="293" cy="415.1" r="1.2"/>
<circle cx="294.6" cy="415.3" r="1.2"/>
<circle cx="295.7" cy="414.3" r="1.2"/>
<circle cx="298" cy="414.5" r="1.2"/>
<circle cx="299.4" cy="414.5" r="1.2"/>
<circle cx="301.2" cy="414.5" r="1.2"/>
<circle cx="302.9" cy="414.9" r="1.2"/>
<circle cx="304.6" cy="414.6" r="1.2"/>
<circle cx="306.6" cy="415.5" r="1.2"/>
<circle cx="307.7" cy="415.3" r="1.2"/>
<circle cx="309.8" cy="415.7" r="1.2"/>
<circle cx="311.6" cy="415.9" r="1.2"/>
<circle cx="313.3" cy="415.3" r="1.2"/>
<circle cx="314.9" cy="415.9" r="1.2"/>
<circle cx="316.6" cy="416.2" r="1.2"/>
<circle cx="318.8" cy="416.5" r="1.2"/>
<circle cx="320.5" cy="416.8" r="1.2"/>
<circle cx="322" cy="417.5" r="1.2"/>
<circle cx="323.6" cy="418.2" r="1.2"/>
<circle cx="325.3" cy="420.8" r="1.2"/>
<circle cx="326.8" cy="424.5" r="1.2"/>
<circle cx="329" cy="427.6" r="1.2"/>
<circle cx="331" cy="430.8" r="1.2"/>
<circle cx="332.7" cy="432.6" r="1.2"/>
<circle cx="333.8" cy="434.7" r="1.2"/>
<circle cx="335.9" cy="436.5" r="1.2"/>
<circle cx="337.7" cy="438.3" r="1.2"/>
<circle cx="339.3" cy="439.6" r="1.2"/>
<circle cx="340.9" cy="440.1" r="1.2"/>
<circle cx="342.7" cy="442.7" r="1.2"/>
<circle cx="344.1" cy="443.2" r="1.2"/>
<circle cx="346.1" cy="443.1" r="1.2"/>
<circle cx="348" cy="442.8" r="1.2"/>
<circle cx="349.5" cy="436.6" r="1.2"/>
<circle cx="351.6" cy="429.3" r="1.2"/>
<circle cx="353" cy="425.8" r="1.2"/>
<circle cx="355.4" cy="425.1" r="1.2"/>
<circle cx="356.4" cy="424.1" r="1.2"/>
<circle cx="358" cy="422.8" r="1.2"/>
<circle cx="360.3" cy="421.2" r="1.2"/>
<circle cx="361.5" cy="421.4" r="1.2"/>
<circle cx="363.8" cy="420.8" r="1.2"/>
<circle cx="365.3" cy="420.3" r="1.2"/>
<circle cx="366.9" cy="421.7" r="1.2"/>
<circle cx="368.9" cy="422.6" r="1.2"/>
<circle cx="370.3" cy="422" r="1.2"/>
<circle cx="372.4" cy="423.1" r="1.2"/>
<circle cx="374.1" cy="424" r="1.2"/>
<circle cx="375.9" cy="424.6" r="1.2"/>
<circle cx="377.9" cy="423.7" r="1.2"/>
<circle cx="379.3" cy="424.8" r="1.2"/>
<circle cx="380.9" cy="423.8" r="1.2"/>
<circle cx="382.7" cy="422.8" r="1.2"/>
<circle cx="384.9" cy="422.9" r="1.2"/>
<circle cx="386.1" cy="422" r="1.2"/>
<circle cx="387.6" cy="421" r="1.2"/>
<circle cx="389.9" cy="420.8" r="1.2"/>
<circle cx="391.2" cy="420.6" r="1.2"/>
<circle cx="393.2" cy="421.2" r="1.2"/>
<circle cx="395.1" cy="420" r="1.2"/>
<circle cx="396.5" cy="419.4" r="1.2"/>
<circle cx="398.3" cy="419.1" r="1.2"/>
<circle cx="400.5" cy="419.8" r="1.2"/>
<circle cx="401.9" cy="419.8" r="1.2"/>
</g>
<g fill="#d92b2f">
<circle cx="268.4" cy="439.3" r="1.2"/>
<circle cx="270" cy="438.2" r="1.2"/>
<circle cx="271.5" cy="439.1" r="1.2"/>
<circle cx="273.1" cy="438.7" r="1.2"/>
<circle cx="275.1" cy="440.5" r="1.2"/>
<circle cx="277.2" cy="439.7" r="1.2"/>
<circle cx="278.5" cy="438.8" r="1.2"/>
<circle cx="280.1" cy="436.4" r="1.2"/>
<circle cx="282" cy="433" r="1.2"/>
<circle cx="283.7" cy="434.2" r="1.2"/>
<circle cx="285.3" cy="434.8" r="1.2"/>
<circle cx="287.5" cy="438" r="1.2"/>
<circle cx="288.9" cy="438.5" r="1.2"/>
<circle cx="290.9" cy="439.1" r="1.2"/>
<circle cx="292.3" cy="440" r="1.2"/>
<circle cx="294" cy="439.2" r="1.2"/>
<circle cx="295.8" cy="438.1" r="1.2"/>
<circle cx="297.6" cy="437.2" r="1.2"/>
<circle cx="299.8" cy="436.5" r="1.2"/>
<circle cx="301.2" cy="435" r="1.2"/>
<circle cx="302.9" cy="433.4" r="1.2"/>
<circle cx="304.6" cy="434.8" r="1.2"/>
<circle cx="306.4" cy="436.1" r="1.2"/>
<circle cx="307.9" cy="438.1" r="1.2"/>
<circle cx="309.9" cy="439.5" r="1.2"/>
<circle cx="311.4" cy="440" r="1.2"/>
<circle cx="312.9" cy="439.4" r="1.2"/>
<circle cx="314.8" cy="440.4" r="1.2"/>
<circle cx="316.9" cy="439.8" r="1.2"/>
<circle cx="318.6" cy="439.3" r="1.2"/>
<circle cx="320.3" cy="438.1" r="1.2"/>
<circle cx="322.1" cy="438.7" r="1.2"/>
<circle cx="323.4" cy="438" r="1.2"/>
<circle cx="325.6" cy="436.1" r="1.2"/>
<circle cx="327.1" cy="433.4" r="1.2"/>
<circle cx="328.8" cy="428.5" r="1.2"/>
<circle cx="330.3" cy="423.7" r="1.2"/>
<circle cx="332.5" cy="419.6" r="1.2"/>
<circle cx="334.1" cy="414.3" r="1.2"/>
<circle cx="336" cy="410.2" r="1.2"/>
<circle cx="337.8" cy="408.6" r="1.2"/>
<circle cx="339" cy="407.4" r="1.2"/>
<circle cx="340.6" cy="406.3" r="1.2"/>
<circle cx="342.7" cy="406.4" r="1.2"/>
<circle cx="344.7" cy="406.5" r="1.2"/>
<circle cx="346" cy="406.9" r="1.2"/>
<circle cx="348.5" cy="409.4" r="1.2"/>
<circle cx="349.6" cy="411.3" r="1.2"/>
<circle cx="351.2" cy="414.1" r="1.2"/>
<circle cx="353.3" cy="417" r="1.2"/>
<circle cx="355.3" cy="418.4" r="1.2"/>
<circle cx="356.5" cy="420.5" r="1.2"/>
<circle cx="357.9" cy="423.1" r="1.2"/>
<circle cx="360.3" cy="426.9" r="1.2"/>
<circle cx="362" cy="430.6" r="1.2"/>
<circle cx="363.9" cy="434.7" r="1.2"/>
<circle cx="365.4" cy="438.2" r="1.2"/>
<circle cx="366.6" cy="439.2" r="1.2"/>
<circle cx="368.6" cy="441.3" r="1.2"/>
<circle cx="370.5" cy="441.2" r="1.2"/>
<circle cx="372.5" cy="442" r="1.2"/>
<circle cx="374.4" cy="443.8" r="1.2"/>
<circle cx="375.8" cy="444.2" r="1.2"/>
<circle cx="377.7" cy="444.1" r="1.2"/>
<circle cx="379.4" cy="444.9" r="1.2"/>
<circle cx="381" cy="445.2" r="1.2"/>
<circle cx="382.8" cy="446.6" r="1.2"/>
<circle cx="384.6" cy="447.3" r="1.2"/>
<circle cx="386.4" cy="448.1" r="1.2"/>
<circle cx="387.8" cy="447.9" r="1.2"/>
<circle cx="389.4" cy="449.4" r="1.2"/>
<circle cx="391.3" cy="450.2" r="1.2"/>
<circle cx="393.2" cy="450.1" r="1.2"/>
<circle cx="395.1" cy="452.5" r="1.2"/>
<circle cx="396.6" cy="451.9" r="1.2"/>
<circle cx="398.2" cy="451.5" r="1.2"/>
<circle cx="400" cy="447.5" r="1.2"/>
</g>
<text x="467.7" y="372.2" font-weight="bold" style="font-size:13.5px">g</text>
<rect x="581" y="390.8" width="8.4" height="79.6" fill="#fdf0dc" stroke="#f0a868" stroke-width="1"/>
<text x="585.2" y="377.5" text-anchor="middle" fill="#ee8a40" style="font-size:8.6px">M/A</text>
<text x="585.2" y="387" text-anchor="middle" fill="#ee8a40" style="font-size:8.6px">transition</text>
<line x1="507" y1="384.5" x2="507" y2="470.4" stroke="#505050" stroke-width="1"/>
<line x1="504" y1="470.4" x2="507" y2="470.4" stroke="#505050" stroke-width="1"/>
<text x="501" y="474" text-anchor="end">0</text>
<line x1="504" y1="453.2" x2="507" y2="453.2" stroke="#505050" stroke-width="1"/>
<text x="501" y="456.8" text-anchor="end">0.5</text>
<line x1="504" y1="436" x2="507" y2="436" stroke="#505050" stroke-width="1"/>
<text x="501" y="439.6" text-anchor="end">1.0</text>
<line x1="504" y1="418.9" x2="507" y2="418.9" stroke="#505050" stroke-width="1"/>
<text x="501" y="422.5" text-anchor="end">1.5</text>
<line x1="504" y1="401.7" x2="507" y2="401.7" stroke="#505050" stroke-width="1"/>
<text x="501" y="405.3" text-anchor="end">2.0</text>
<line x1="504" y1="384.5" x2="507" y2="384.5" stroke="#505050" stroke-width="1"/>
<text x="501" y="388.1" text-anchor="end">2.5</text>
<line x1="647.2" y1="384.5" x2="647.2" y2="470.4" stroke="#505050" stroke-width="1"/>
<line x1="647.2" y1="470.4" x2="650.2" y2="470.4" stroke="#505050" stroke-width="1"/>
<text x="653.2" y="474" fill="#d92b2f">0.7</text>
<line x1="647.2" y1="448.9" x2="650.2" y2="448.9" stroke="#505050" stroke-width="1"/>
<text x="653.2" y="452.5" fill="#d92b2f">0.9</text>
<line x1="647.2" y1="427.4" x2="650.2" y2="427.4" stroke="#505050" stroke-width="1"/>
<text x="653.2" y="431" fill="#d92b2f">1.1</text>
<line x1="647.2" y1="406" x2="650.2" y2="406" stroke="#505050" stroke-width="1"/>
<text x="653.2" y="409.6" fill="#d92b2f">1.3</text>
<line x1="647.2" y1="384.5" x2="650.2" y2="384.5" stroke="#505050" stroke-width="1"/>
<text x="653.2" y="388.1" fill="#d92b2f">1.5</text>
<line x1="507" y1="470.4" x2="647.2" y2="470.4" stroke="#505050" stroke-width="1"/>
<line x1="506.7" y1="470.4" x2="506.7" y2="473.4" stroke="#505050" stroke-width="1"/>
<text x="506.7" y="483.9" text-anchor="middle">−2.5</text>
<line x1="530.1" y1="470.4" x2="530.1" y2="473.4" stroke="#505050" stroke-width="1"/>
<text x="530.1" y="483.9" text-anchor="middle">−2</text>
<line x1="553.5" y1="470.4" x2="553.5" y2="473.4" stroke="#505050" stroke-width="1"/>
<text x="553.5" y="483.9" text-anchor="middle">−1.5</text>
<line x1="576.9" y1="470.4" x2="576.9" y2="473.4" stroke="#505050" stroke-width="1"/>
<text x="576.9" y="483.9" text-anchor="middle">−1</text>
<line x1="600.3" y1="470.4" x2="600.3" y2="473.4" stroke="#505050" stroke-width="1"/>
<text x="600.3" y="483.9" text-anchor="middle">−0.5</text>
<line x1="623.7" y1="470.4" x2="623.7" y2="473.4" stroke="#505050" stroke-width="1"/>
<text x="623.7" y="483.9" text-anchor="middle">0</text>
<line x1="647.1" y1="470.4" x2="647.1" y2="473.4" stroke="#505050" stroke-width="1"/>
<text x="647.1" y="483.9" text-anchor="middle">0.5</text>
<text x="577" y="499.5" text-anchor="middle">Time from division (h)</text>
<text x="477" y="426.7" text-anchor="middle" transform="rotate(-90 477 426.7)">Geminin/mass (a.u.)</text>
<text x="683.4" y="426.4" text-anchor="middle" fill="#d92b2f" transform="rotate(-90 683.4 426.4)">TMRE/mass (a.u.)</text>
<line x1="623.7" y1="393.3" x2="623.7" y2="470.4" stroke="#666" stroke-width="0.8" stroke-dasharray="2.5,2"/>
<g fill="#000">
<circle cx="507.7" cy="410" r="1.35"/>
<circle cx="509.3" cy="404.6" r="1.35"/>
<circle cx="510.8" cy="408.3" r="1.35"/>
<circle cx="512.7" cy="411" r="1.35"/>
<circle cx="514.2" cy="407.9" r="1.35"/>
<circle cx="516.1" cy="407.8" r="1.35"/>
<circle cx="517.8" cy="409.2" r="1.35"/>
<circle cx="519.4" cy="407.2" r="1.35"/>
<circle cx="520.8" cy="406.4" r="1.35"/>
<circle cx="522.8" cy="405.6" r="1.35"/>
<circle cx="524.3" cy="406.1" r="1.35"/>
<circle cx="526.8" cy="405.3" r="1.35"/>
<circle cx="527.9" cy="405.2" r="1.35"/>
<circle cx="529.4" cy="405.8" r="1.35"/>
<circle cx="531.1" cy="405.1" r="1.35"/>
<circle cx="533" cy="405" r="1.35"/>
<circle cx="534.6" cy="403.6" r="1.35"/>
<circle cx="536.4" cy="403.1" r="1.35"/>
<circle cx="538.2" cy="402.2" r="1.35"/>
<circle cx="539.7" cy="401.2" r="1.35"/>
<circle cx="541.5" cy="399.7" r="1.35"/>
<circle cx="543" cy="401.8" r="1.35"/>
<circle cx="544.5" cy="398.7" r="1.35"/>
<circle cx="546.5" cy="400.2" r="1.35"/>
<circle cx="548.3" cy="400.1" r="1.35"/>
<circle cx="549.9" cy="399.9" r="1.35"/>
<circle cx="551.9" cy="399.5" r="1.35"/>
<circle cx="553.4" cy="398" r="1.35"/>
<circle cx="555.2" cy="397" r="1.35"/>
<circle cx="556.8" cy="394.9" r="1.35"/>
<circle cx="558.4" cy="397.1" r="1.35"/>
<circle cx="559.9" cy="397.9" r="1.35"/>
<circle cx="561.8" cy="395.7" r="1.35"/>
<circle cx="563.3" cy="398.3" r="1.35"/>
<circle cx="565.3" cy="398.5" r="1.35"/>
<circle cx="566.6" cy="397.9" r="1.35"/>
<circle cx="568.6" cy="394.9" r="1.35"/>
<circle cx="570.2" cy="393.9" r="1.35"/>
<circle cx="572.1" cy="394.5" r="1.35"/>
<circle cx="573.8" cy="394.6" r="1.35"/>
<circle cx="575.1" cy="394.7" r="1.35"/>
<circle cx="577" cy="392.8" r="1.35"/>
<circle cx="578.6" cy="393.7" r="1.35"/>
<circle cx="580.3" cy="391.6" r="1.35"/>
<circle cx="582" cy="395.4" r="1.35"/>
<circle cx="583.6" cy="402.2" r="1.35"/>
<circle cx="585.4" cy="415.5" r="1.35"/>
<circle cx="586.7" cy="432.8" r="1.35"/>
<circle cx="588.8" cy="445.3" r="1.35"/>
<circle cx="590.6" cy="449.9" r="1.35"/>
<circle cx="591.9" cy="447.1" r="1.35"/>
<circle cx="594.1" cy="447.8" r="1.35"/>
<circle cx="595.9" cy="448" r="1.35"/>
<circle cx="597.2" cy="450.1" r="1.35"/>
<circle cx="599.2" cy="450.1" r="1.35"/>
<circle cx="600.8" cy="449.8" r="1.35"/>
<circle cx="602.3" cy="450" r="1.35"/>
<circle cx="604.4" cy="451.4" r="1.35"/>
<circle cx="605.8" cy="451.7" r="1.35"/>
<circle cx="607.7" cy="453" r="1.35"/>
<circle cx="609.1" cy="452.2" r="1.35"/>
<circle cx="610.9" cy="455.1" r="1.35"/>
<circle cx="612.6" cy="454.3" r="1.35"/>
<circle cx="613.8" cy="454.3" r="1.35"/>
<circle cx="615.6" cy="452.5" r="1.35"/>
<circle cx="617.5" cy="452.8" r="1.35"/>
<circle cx="619.4" cy="452.6" r="1.35"/>
<circle cx="621.1" cy="452.4" r="1.35"/>
<circle cx="623.3" cy="453.8" r="1.35"/>
<circle cx="624.6" cy="457.4" r="1.35"/>
<circle cx="626.3" cy="454.8" r="1.35"/>
<circle cx="627.9" cy="454" r="1.35"/>
<circle cx="629.2" cy="452.8" r="1.35"/>
<circle cx="631.2" cy="453.1" r="1.35"/>
<circle cx="632.7" cy="456.1" r="1.35"/>
<circle cx="634.4" cy="454.7" r="1.35"/>
<circle cx="636.4" cy="450.4" r="1.35"/>
<circle cx="638" cy="449.6" r="1.35"/>
<circle cx="639.4" cy="451.6" r="1.35"/>
<circle cx="641.3" cy="451.8" r="1.35"/>
<circle cx="642.9" cy="451.9" r="1.35"/>
<circle cx="645" cy="450.3" r="1.35"/>
<circle cx="646.4" cy="447.6" r="1.35"/>
</g>
<g fill="#d92b2f">
<circle cx="507.3" cy="444.7" r="1.35"/>
<circle cx="509.3" cy="445.6" r="1.35"/>
<circle cx="511.2" cy="444.8" r="1.35"/>
<circle cx="512.5" cy="444.2" r="1.35"/>
<circle cx="514.3" cy="443.7" r="1.35"/>
<circle cx="516.4" cy="442.3" r="1.35"/>
<circle cx="518.2" cy="440.9" r="1.35"/>
<circle cx="519" cy="441" r="1.35"/>
<circle cx="520.8" cy="441.6" r="1.35"/>
<circle cx="523.3" cy="441.3" r="1.35"/>
<circle cx="524.7" cy="441.4" r="1.35"/>
<circle cx="526.2" cy="440.7" r="1.35"/>
<circle cx="528.4" cy="441.2" r="1.35"/>
<circle cx="529.4" cy="442.9" r="1.35"/>
<circle cx="531.3" cy="441.8" r="1.35"/>
<circle cx="532.9" cy="440.7" r="1.35"/>
<circle cx="534.3" cy="441" r="1.35"/>
<circle cx="536.7" cy="441.3" r="1.35"/>
<circle cx="538" cy="441.1" r="1.35"/>
<circle cx="539.5" cy="440.5" r="1.35"/>
<circle cx="541.4" cy="438.8" r="1.35"/>
<circle cx="543.3" cy="439.3" r="1.35"/>
<circle cx="544.7" cy="438.3" r="1.35"/>
<circle cx="546.7" cy="438.2" r="1.35"/>
<circle cx="548" cy="434.9" r="1.35"/>
<circle cx="550.4" cy="435.5" r="1.35"/>
<circle cx="551.5" cy="435.4" r="1.35"/>
<circle cx="553.2" cy="435.4" r="1.35"/>
<circle cx="554.6" cy="434.6" r="1.35"/>
<circle cx="556.3" cy="435.1" r="1.35"/>
<circle cx="558.3" cy="433.7" r="1.35"/>
<circle cx="560.4" cy="431.7" r="1.35"/>
<circle cx="561.7" cy="432.5" r="1.35"/>
<circle cx="563.4" cy="431.3" r="1.35"/>
<circle cx="565.3" cy="431.2" r="1.35"/>
<circle cx="566.7" cy="431.7" r="1.35"/>
<circle cx="568.7" cy="433.4" r="1.35"/>
<circle cx="570.2" cy="431.9" r="1.35"/>
<circle cx="572.3" cy="431.7" r="1.35"/>
<circle cx="573.7" cy="430.6" r="1.35"/>
<circle cx="575.3" cy="429.1" r="1.35"/>
<circle cx="576.8" cy="426.5" r="1.35"/>
<circle cx="579" cy="421.7" r="1.35"/>
<circle cx="580.5" cy="415.5" r="1.35"/>
<circle cx="582.1" cy="410.6" r="1.35"/>
<circle cx="583.6" cy="404.3" r="1.35"/>
<circle cx="585.7" cy="400" r="1.35"/>
<circle cx="586.9" cy="399.2" r="1.35"/>
<circle cx="589.2" cy="402" r="1.35"/>
<circle cx="590.5" cy="407.2" r="1.35"/>
<circle cx="592.2" cy="410.6" r="1.35"/>
<circle cx="593.4" cy="416.7" r="1.35"/>
<circle cx="595.4" cy="420.8" r="1.35"/>
<circle cx="597.3" cy="424.7" r="1.35"/>
<circle cx="598.7" cy="426.5" r="1.35"/>
<circle cx="600.9" cy="429.9" r="1.35"/>
<circle cx="602.1" cy="432.5" r="1.35"/>
<circle cx="604.2" cy="434.6" r="1.35"/>
<circle cx="605.5" cy="436.6" r="1.35"/>
<circle cx="607.5" cy="437.1" r="1.35"/>
<circle cx="608.8" cy="435.6" r="1.35"/>
<circle cx="610.6" cy="437.7" r="1.35"/>
<circle cx="612.4" cy="438.6" r="1.35"/>
<circle cx="614.3" cy="437.6" r="1.35"/>
<circle cx="616.1" cy="438.4" r="1.35"/>
<circle cx="617.5" cy="439.4" r="1.35"/>
<circle cx="618.9" cy="439.6" r="1.35"/>
<circle cx="621.3" cy="438.5" r="1.35"/>
<circle cx="622.6" cy="440.4" r="1.35"/>
<circle cx="624.1" cy="440.5" r="1.35"/>
<circle cx="625.9" cy="441" r="1.35"/>
<circle cx="627.6" cy="439.1" r="1.35"/>
<circle cx="629.8" cy="439.9" r="1.35"/>
<circle cx="631" cy="438.2" r="1.35"/>
<circle cx="633.4" cy="435.5" r="1.35"/>
<circle cx="634.4" cy="435.4" r="1.35"/>
<circle cx="636.4" cy="434.6" r="1.35"/>
<circle cx="637.6" cy="435" r="1.35"/>
<circle cx="639.6" cy="435" r="1.35"/>
<circle cx="641.9" cy="434.3" r="1.35"/>
<circle cx="642.9" cy="435.3" r="1.35"/>
<circle cx="644.7" cy="435.1" r="1.35"/>
<circle cx="646.4" cy="437.3" r="1.35"/>
</g>
<text x="467" y="223.3" font-weight="bold" style="font-size:13.5px">f</text>
<text x="486.5" y="250" text-anchor="middle" fill="#3ab54a" transform="rotate(-90 486.5 250)">Geminin</text>
<text x="511.8" y="225.5" text-anchor="middle">0 min</text>
<rect x="491.2" y="229.2" width="41.2" height="41.2" fill="#8e8e8e"/>
<circle cx="511.7" cy="249.6" r="11.7" fill="none" stroke="#707070" stroke-width="1" opacity="0.6"/>
<circle cx="511.7" cy="249.6" r="10.4" fill="#16240f" stroke="#ececec" stroke-width="1.9"/>
<circle cx="511.7" cy="249.6" r="8.9" fill="#48b535" filter="url(#spotg0)"/>
<rect x="517.2" y="267" width="13.2" height="2.1" fill="#000"/>
<text x="556.2" y="225.5" text-anchor="middle">1 min</text>
<rect x="535.6" y="229.2" width="41.2" height="41.2" fill="#8e8e8e"/>
<circle cx="556.1" cy="249.6" r="11.7" fill="none" stroke="#707070" stroke-width="1" opacity="0.6"/>
<circle cx="556.1" cy="249.6" r="10.4" fill="#16240f" stroke="#ececec" stroke-width="1.9"/>
<circle cx="556.1" cy="249.6" r="8.9" fill="#48b535" filter="url(#spotg1)"/>
<rect x="561.6" y="267" width="13.2" height="2.1" fill="#000"/>
<text x="600.6" y="225.5" text-anchor="middle">3 mins</text>
<rect x="580" y="229.2" width="41.2" height="41.2" fill="#8e8e8e"/>
<circle cx="600.5" cy="249.6" r="11.7" fill="none" stroke="#707070" stroke-width="1" opacity="0.6"/>
<circle cx="600.5" cy="249.6" r="10.4" fill="#16240f" stroke="#ececec" stroke-width="1.9"/>
<circle cx="600.5" cy="249.6" r="8.9" fill="#48b535" filter="url(#spotg0)"/>
<rect x="606" y="267" width="13.2" height="2.1" fill="#000"/>
<text x="645" y="225.5" text-anchor="middle">4 mins</text>
<rect x="624.4" y="229.2" width="41.2" height="41.2" fill="#8e8e8e"/>
<circle cx="644.9" cy="249.6" r="11.7" fill="none" stroke="#707070" stroke-width="1" opacity="0.6"/>
<circle cx="644.9" cy="249.6" r="10.4" fill="#16240f" stroke="#ececec" stroke-width="1.9"/>
<circle cx="644.9" cy="249.6" r="8.9" fill="#48b535" filter="url(#spotg1)"/>
<rect x="650.4" y="267" width="13.2" height="2.1" fill="#000"/>
<text x="511.8" y="286.7" text-anchor="middle">6 mins</text>
<rect x="491.2" y="290.4" width="41.2" height="41.2" fill="#8e8e8e"/>
<circle cx="511.7" cy="310.8" r="11.7" fill="none" stroke="#707070" stroke-width="1" opacity="0.6"/>
<circle cx="511.7" cy="310.8" r="10.4" fill="#3a3d38" stroke="#ececec" stroke-width="1.9"/>
<circle cx="511.7" cy="310.8" r="8.9" fill="#5c9048" filter="url(#spot1)"/>
<rect x="517.2" y="328.2" width="13.2" height="2.1" fill="#000"/>
<text x="556.2" y="286.7" text-anchor="middle">7 mins</text>
<rect x="535.6" y="290.4" width="41.2" height="41.2" fill="#8e8e8e"/>
<circle cx="556.1" cy="310.8" r="11.7" fill="none" stroke="#707070" stroke-width="1" opacity="0.6"/>
<circle cx="556.1" cy="310.8" r="10.4" fill="#3c3c3c" stroke="#ececec" stroke-width="1.9"/>
<circle cx="556.1" cy="310.8" r="8.9" fill="#7c7c7c" filter="url(#spot0)"/>
<rect x="561.6" y="328.2" width="13.2" height="2.1" fill="#000"/>
<text x="600.6" y="286.7" text-anchor="middle">8 mins</text>
<rect x="580" y="290.4" width="41.2" height="41.2" fill="#8e8e8e"/>
<circle cx="603.5" cy="316.8" r="10.1" fill="none" stroke="#707070" stroke-width="1" opacity="0.6"/>
<circle cx="603.5" cy="316.8" r="8.8" fill="#3c3c3c" stroke="#ececec" stroke-width="1.9"/>
<circle cx="603.5" cy="316.8" r="7.3" fill="#7c7c7c" filter="url(#spot1)"/>
<circle cx="595.5" cy="307.8" r="9.9" fill="none" stroke="#707070" stroke-width="1" opacity="0.6"/>
<circle cx="595.5" cy="307.8" r="8.6" fill="#3c3c3c" stroke="#ececec" stroke-width="1.9"/>
<circle cx="595.5" cy="307.8" r="7.1" fill="#7c7c7c" filter="url(#spot0)"/>
<rect x="606" y="328.2" width="13.2" height="2.1" fill="#000"/>
<text x="645" y="286.7" text-anchor="middle">10 mins</text>
<rect x="624.4" y="290.4" width="41.2" height="41.2" fill="#8e8e8e"/>
<circle cx="648.2" cy="318.1" r="9.9" fill="none" stroke="#707070" stroke-width="1" opacity="0.6"/>
<circle cx="648.2" cy="318.1" r="8.6" fill="#3c3c3c" stroke="#ececec" stroke-width="1.9"/>
<circle cx="648.2" cy="318.1" r="7.1" fill="#7c7c7c" filter="url(#spot1)"/>
<circle cx="641.6" cy="305" r="9.6" fill="none" stroke="#707070" stroke-width="1" opacity="0.6"/>
<circle cx="641.6" cy="305" r="8.3" fill="#3c3c3c" stroke="#ececec" stroke-width="1.9"/>
<circle cx="641.6" cy="305" r="6.8" fill="#7c7c7c" filter="url(#spot0)"/>
<rect x="650.4" y="328.2" width="13.2" height="2.1" fill="#000"/>
<text x="0.2" y="529.9" font-weight="bold" style="font-size:13.5px">h</text>
<text x="54.5" y="534" text-anchor="middle">TMRE</text>
<text x="170" y="534" text-anchor="middle"><tspan fill="#e0303a">TMRE</tspan> &amp; <tspan fill="#2ab7c8">DNA</tspan></text>
<text x="296" y="534" text-anchor="middle">TMRE</text>
<text x="398.6" y="534" text-anchor="middle"><tspan fill="#e0303a">TMRE</tspan> &amp; <tspan fill="#2ab7c8">DNA</tspan></text>
<text x="516" y="534" text-anchor="middle">TMRE</text>
<text x="619.3" y="534" text-anchor="middle"><tspan fill="#e0303a">TMRE</tspan> &amp; <tspan fill="#2ab7c8">DNA</tspan></text>
<line x1="247.5" y1="638.5" x2="447" y2="638.5" stroke="#000" stroke-width="1"/>
<line x1="467" y1="638.5" x2="667.6" y2="638.5" stroke="#000" stroke-width="1"/>
<text x="347" y="649.5" text-anchor="middle">Interphase</text>
<text x="567" y="649.5" text-anchor="middle">Mitosis</text>
<rect x="0" y="538.6" width="109.8" height="109.4" fill="#000"/>
<rect x="115" y="538.6" width="109.4" height="109.4" fill="#000"/>
<clipPath id="c1"><rect x="0" y="538.6" width="109.8" height="109.4"/></clipPath>
<clipPath id="c2"><rect x="115" y="538.6" width="109.4" height="109.4"/></clipPath>
<g clip-path="url(#c1)">
<circle cx="1" cy="539" r="8" fill="url(#rg)" opacity="0.95" filter="url(#tw0)"/>
<circle cx="19.6" cy="568.3" r="13.7" fill="url(#rgA)" opacity="0.95" filter="url(#tw1)"/>
<circle cx="87.6" cy="559.5" r="18" fill="url(#rg)" opacity="0.95" filter="url(#tw2)"/>
<circle cx="1.5" cy="594.2" r="12" fill="url(#rgR)" opacity="0.85" filter="url(#tw0)"/>
<circle cx="26.3" cy="606.5" r="14.5" fill="url(#rgD)" opacity="0.9" filter="url(#tw1)"/>
<circle cx="82.5" cy="612.1" r="17.5" fill="url(#rg)" opacity="0.95" filter="url(#tw2)"/>
<circle cx="42.9" cy="632.4" r="13" fill="url(#rgF)" opacity="0.85" filter="url(#tw0)"/>
<ellipse cx="7" cy="632" rx="13" ry="7" transform="rotate(-45 7 632)" fill="url(#rg)" opacity="0.85" filter="url(#tw1)"/>
</g>
<g clip-path="url(#c2)">
<ellipse cx="116" cy="539" rx="4" ry="4" transform="rotate(0 116 539)" fill="#1f9aa2" opacity="0.5" filter="url(#blur1)"/>
<ellipse cx="131.5" cy="569" rx="7.5" ry="9" transform="rotate(0 131.5 569)" fill="#1f9aa2" opacity="0.8" filter="url(#blur1)"/>
<ellipse cx="203" cy="560" rx="5.5" ry="12.5" transform="rotate(25 203 560)" fill="#2cc4ca" opacity="0.95" filter="url(#blur1)"/>
<ellipse cx="116" cy="594" rx="5" ry="8" transform="rotate(0 116 594)" fill="#1f9aa2" opacity="0.7" filter="url(#blur1)"/>
<ellipse cx="142" cy="606" rx="10" ry="9.5" transform="rotate(0 142 606)" fill="#1f9aa2" opacity="0.85" filter="url(#blur1)"/>
<ellipse cx="195" cy="616" rx="10" ry="3.8" transform="rotate(-8 195 616)" fill="#2cc4ca" opacity="0.95" filter="url(#blur1)"/>
<ellipse cx="158" cy="633" rx="8" ry="8" transform="rotate(0 158 633)" fill="#17808a" opacity="0.6" filter="url(#blur1)"/>
<circle cx="116" cy="539" r="8" fill="url(#rgr)" opacity="0.95" filter="url(#tq0)" style="mix-blend-mode:screen"/>
<circle cx="134.6" cy="568.3" r="13.7" fill="url(#rgr)" opacity="0.95" filter="url(#tw1)" style="mix-blend-mode:screen"/>
<circle cx="202.6" cy="559.5" r="18" fill="url(#rgr)" opacity="0.95" filter="url(#tq2)" style="mix-blend-mode:screen"/>
<circle cx="116.5" cy="594.2" r="12" fill="url(#rgr)" opacity="0.85" filter="url(#tw0)" style="mix-blend-mode:screen"/>
<circle cx="141.3" cy="606.5" r="14.5" fill="url(#rgr)" opacity="0.9" filter="url(#tw1)" style="mix-blend-mode:screen"/>
<circle cx="197.5" cy="612.1" r="17.5" fill="url(#rgr)" opacity="0.95" filter="url(#tq2)" style="mix-blend-mode:screen"/>
<circle cx="157.9" cy="632.4" r="13" fill="url(#rgr)" opacity="0.85" filter="url(#tq0)" style="mix-blend-mode:screen"/>
<ellipse cx="122" cy="632" rx="13" ry="7" transform="rotate(-45 122 632)" fill="url(#rgr)" filter="url(#tq1)"/>
</g>
<path d="M0 0 L-7.6 -3 L-5.6 0 L-7.6 3 Z" fill="#f2c21b" transform="translate(35 573.3) rotate(200)"/>
<path d="M0 0 L-7.6 -3 L-5.6 0 L-7.6 3 Z" fill="#f2c21b" transform="translate(149.4 573.3) rotate(200)"/>
<path d="M0 0 L-7.6 -3 L-5.6 0 L-7.6 3 Z" fill="#f2c21b" transform="translate(11.1 589.5) rotate(172)"/>
<path d="M0 0 L-7.6 -3 L-5.6 0 L-7.6 3 Z" fill="#f2c21b" transform="translate(125.5 589.5) rotate(172)"/>
<path d="M0 0 L-7.6 -3 L-5.6 0 L-7.6 3 Z" fill="#f2c21b" transform="translate(41.7 598.3) rotate(159)"/>
<path d="M0 0 L-7.6 -3 L-5.6 0 L-7.6 3 Z" fill="#f2c21b" transform="translate(156.1 598.3) rotate(159)"/>
<path d="M0 0 L-7.6 -3 L-5.6 0 L-7.6 3 Z" fill="#f2c21b" transform="translate(48.6 617.6) rotate(106)"/>
<path d="M0 0 L-7.6 -3 L-5.6 0 L-7.6 3 Z" fill="#f2c21b" transform="translate(163 617.6) rotate(106)"/>
<path d="M0 0 L-7.6 -3 L-5.6 0 L-7.6 3 Z" fill="#f2c21b" transform="translate(14 637.8) rotate(200)"/>
<path d="M0 0 L-7.6 -3 L-5.6 0 L-7.6 3 Z" fill="#f2c21b" transform="translate(128.4 637.8) rotate(200)"/>
<path d="M0 0 L-7.6 -3 L-5.6 0 L-7.6 3 Z" fill="#a23fa6" transform="translate(69.8 571.1) rotate(-33)"/>
<path d="M0 0 L-7.6 -3 L-5.6 0 L-7.6 3 Z" fill="#a23fa6" transform="translate(184.2 571.1) rotate(-33)"/>
<path d="M0 0 L-7.6 -3 L-5.6 0 L-7.6 3 Z" fill="#a23fa6" transform="translate(69.3 597.5) rotate(41)"/>
<path d="M0 0 L-7.6 -3 L-5.6 0 L-7.6 3 Z" fill="#a23fa6" transform="translate(183.7 597.5) rotate(41)"/>
<rect x="95" y="644.5" width="12.3" height="1.6" fill="#fff"/>
<rect x="209.5" y="644.5" width="12.3" height="1.6" fill="#fff"/>
<rect x="153.5" y="627.8" width="20" height="19.6" fill="none" stroke="#f2c21b" stroke-width="1.4"/>
<rect x="194.3" y="610.6" width="20" height="19.6" fill="none" stroke="#a23fa6" stroke-width="1.4"/>
<clipPath id="c3"><rect x="247.8" y="538.8" width="96" height="96"/></clipPath>
<clipPath id="c4"><rect x="350.3" y="538.8" width="96" height="96"/></clipPath>
<rect x="247.8" y="538.8" width="96" height="96" fill="#000"/>
<g clip-path="url(#c3)"><path d="M268 540 L322 540 Q326 560 320 580 L300 582 Q285 575 272 560 Z" fill="#888" opacity="0.55" filter="url(#mw2)"/></g>
<g clip-path="url(#c3)" fill="none" stroke="#f4f4f4" stroke-linecap="round" stroke-linejoin="round" filter="url(#blur05)">
<polyline stroke-width="2.5" stroke-opacity="0.7" points="249,541 256,541.5 263,541 268,542"/>
<polyline stroke-width="3.9" stroke-opacity="0.8" stroke-dasharray="0.8 3.2" points="249,541 256,541.5 263,541 268,542"/>
<polyline stroke-width="1.5" stroke-opacity="0.3" points="272,542 280,544 287,548"/>
<polyline stroke-width="2.4" stroke-opacity="0.4" stroke-dasharray="0.8 1.9" points="272,542 280,544 287,548"/>
<polyline stroke-width="2.8" stroke-opacity="0.8" points="248,563 255,562 262,563 266,562"/>
<polyline stroke-width="4.5" stroke-opacity="0.9" stroke-dasharray="0.8 3.6" points="248,563 255,562 262,563 266,562"/>
<polyline stroke-width="2.8" stroke-opacity="0.8" points="248,572 256,571 263,572 268,573"/>
<polyline stroke-width="4.5" stroke-opacity="1" stroke-dasharray="0.8 3.6" points="248,572 256,571 263,572 268,573"/>
<polyline stroke-width="2.8" stroke-opacity="0.8" points="249,580 256,581 263,580 268,578"/>
<polyline stroke-width="4.5" stroke-opacity="0.9" stroke-dasharray="0.8 3.6" points="249,580 256,581 263,580 268,578"/>
<polyline stroke-width="2.8" stroke-opacity="0.8" points="266,561 268,567 268,573 267,579"/>
<polyline stroke-width="4.5" stroke-opacity="1" stroke-dasharray="0.8 3.6" points="266,561 268,567 268,573 267,579"/>
<polyline stroke-width="2.4" stroke-opacity="0.7" points="249,553 252,557"/>
<polyline stroke-width="3.7" stroke-opacity="0.8" stroke-dasharray="0.8 3" points="249,553 252,557"/>
<polyline stroke-width="3.2" stroke-opacity="0.8" points="258,552 259,553"/>
<polyline stroke-width="5" stroke-opacity="0.9" stroke-dasharray="0.8 4.1" points="258,552 259,553"/>
<polyline stroke-width="1.5" stroke-opacity="0.4" points="252,548 262,550 270,556"/>
<polyline stroke-width="2.4" stroke-opacity="0.5" stroke-dasharray="0.8 1.9" points="252,548 262,550 270,556"/>
<polyline stroke-width="1.3" stroke-opacity="0.3" points="270,548 276,553 282,556 288,552"/>
<polyline stroke-width="2.1" stroke-opacity="0.3" stroke-dasharray="0.8 1.7" points="270,548 276,553 282,556 288,552"/>
<polyline stroke-width="1.3" stroke-opacity="0.3" points="283,545 292,548 298,552 305,549 312,553"/>
<polyline stroke-width="2.1" stroke-opacity="0.3" stroke-dasharray="0.8 1.7" points="283,545 292,548 298,552 305,549 312,553"/>
<polyline stroke-width="1.5" stroke-opacity="0.4" points="300,545 308,550 315,558 318,565 317,572"/>
<polyline stroke-width="2.4" stroke-opacity="0.5" stroke-dasharray="0.8 1.9" points="300,545 308,550 315,558 318,565 317,572"/>
<polyline stroke-width="1.5" stroke-opacity="0.4" points="296,556 302,562 306,568 304,574"/>
<polyline stroke-width="2.4" stroke-opacity="0.5" stroke-dasharray="0.8 1.9" points="296,556 302,562 306,568 304,574"/>
<polyline stroke-width="1.3" stroke-opacity="0.3" points="288,560 293,566 298,571"/>
<polyline stroke-width="2.1" stroke-opacity="0.4" stroke-dasharray="0.8 1.7" points="288,560 293,566 298,571"/>
<polyline stroke-width="1.3" stroke-opacity="0.3" points="278,560 284,564"/>
<polyline stroke-width="2.1" stroke-opacity="0.3" stroke-dasharray="0.8 1.7" points="278,560 284,564"/>
<polyline stroke-width="2.1" stroke-opacity="0.6" points="291,569 294,566 297,568 297,576 293,578 291,574"/>
<polyline stroke-width="3.3" stroke-opacity="0.7" stroke-dasharray="0.8 2.7" points="291,569 294,566 297,568 297,576 293,578 291,574"/>
<polyline stroke-width="2.5" stroke-opacity="0.7" points="298,578 304,575 310,576 318,577 326,577 333,578"/>
<polyline stroke-width="3.9" stroke-opacity="0.8" stroke-dasharray="0.8 3.2" points="298,578 304,575 310,576 318,577 326,577 333,578"/>
<polyline stroke-width="2.3" stroke-opacity="0.6" points="334,563 335,570 334,578"/>
<polyline stroke-width="3.6" stroke-opacity="0.8" stroke-dasharray="0.8 2.9" points="334,563 335,570 334,578"/>
<polyline stroke-width="3.6" stroke-opacity="0.8" points="299,578 300,579"/>
<polyline stroke-width="5.6" stroke-opacity="1" stroke-dasharray="0.8 4.6" points="299,578 300,579"/>
<polyline stroke-width="3.8" stroke-opacity="0.8" points="333,578 334,579"/>
<polyline stroke-width="5.9" stroke-opacity="1" stroke-dasharray="0.8 4.9" points="333,578 334,579"/>
<polyline stroke-width="2.8" stroke-opacity="0.8" points="314,574 315,575"/>
<polyline stroke-width="4.5" stroke-opacity="0.9" stroke-dasharray="0.8 3.6" points="314,574 315,575"/>
<polyline stroke-width="1.7" stroke-opacity="0.4" points="307,583 312,587 316,584"/>
<polyline stroke-width="2.7" stroke-opacity="0.5" stroke-dasharray="0.8 2.2" points="307,583 312,587 316,584"/>
<polyline stroke-width="1.7" stroke-opacity="0.4" points="320,582 326,586 330,587"/>
<polyline stroke-width="2.7" stroke-opacity="0.5" stroke-dasharray="0.8 2.2" points="320,582 326,586 330,587"/>
<polyline stroke-width="2.8" stroke-opacity="0.8" points="306.5,586 306.5,592 306,600 303,606 297,610 291,614 285,618 281,622"/>
<polyline stroke-width="4.5" stroke-opacity="0.9" stroke-dasharray="0.8 3.6" points="306.5,586 306.5,592 306,600 303,606 297,610 291,614 285,618 281,622"/>
<polyline stroke-width="2.5" stroke-opacity="0.6" points="306,600 311,606 310,613 303,618 298,621"/>
<polyline stroke-width="3.9" stroke-opacity="0.8" stroke-dasharray="0.8 3.2" points="306,600 311,606 310,613 303,618 298,621"/>
<polyline stroke-width="1.9" stroke-opacity="0.5" points="312,590 318,596"/>
<polyline stroke-width="3" stroke-opacity="0.6" stroke-dasharray="0.8 2.4" points="312,590 318,596"/>
<polyline stroke-width="1.9" stroke-opacity="0.5" points="325,590 330,587"/>
<polyline stroke-width="3" stroke-opacity="0.6" stroke-dasharray="0.8 2.4" points="325,590 330,587"/>
<polyline stroke-width="2.3" stroke-opacity="0.5" points="297,612 290,617 285,620"/>
<polyline stroke-width="3.6" stroke-opacity="0.6" stroke-dasharray="0.8 2.9" points="297,612 290,617 285,620"/>
<polyline stroke-width="2.8" stroke-opacity="0.8" points="249,619 252,618 256,621 260,626 264,622 268,619"/>
<polyline stroke-width="4.5" stroke-opacity="0.9" stroke-dasharray="0.8 3.6" points="249,619 252,618 256,621 260,626 264,622 268,619"/>
<polyline stroke-width="2.8" stroke-opacity="0.8" points="260,628 263,631 270,631 275,628 281,626"/>
<polyline stroke-width="4.5" stroke-opacity="0.9" stroke-dasharray="0.8 3.6" points="260,628 263,631 270,631 275,628 281,626"/>
<polyline stroke-width="3.6" stroke-opacity="0.8" points="289,623.5 290,624.5"/>
<polyline stroke-width="5.6" stroke-opacity="1" stroke-dasharray="0.8 4.6" points="289,623.5 290,624.5"/>
<polyline stroke-width="3" stroke-opacity="0.8" points="296,604 297,605"/>
<polyline stroke-width="4.8" stroke-opacity="0.9" stroke-dasharray="0.8 3.9" points="296,604 297,605"/>
<polyline stroke-width="2.8" stroke-opacity="0.8" points="275,601 283,603"/>
<polyline stroke-width="4.5" stroke-opacity="1" stroke-dasharray="0.8 3.6" points="275,601 283,603"/>
</g>
<rect x="350.3" y="538.8" width="96" height="96" fill="#000"/>
<g clip-path="url(#c4)"><path d="M348 538 L428 538 Q438 560 432 585 Q424 608 400 616 L372 624 L348 628 Z" fill="#0b4c50" filter="url(#cyn)"/></g>
<g clip-path="url(#c4)" style="mix-blend-mode:screen"><path d="M268 540 L322 540 Q326 560 320 580 L300 582 Q285 575 272 560 Z" fill="#c02428" opacity="0.55" filter="url(#mw2)" transform="translate(102.5 0)"/></g>
<g clip-path="url(#c4)" fill="none" stroke="#ee2a30" stroke-linecap="round" stroke-linejoin="round" filter="url(#blur05)">
<polyline stroke-width="2.5" stroke-opacity="0.7" points="351.5,541 358.5,541.5 365.5,541 370.5,542"/>
<polyline stroke-width="3.9" stroke-opacity="0.8" stroke-dasharray="0.8 3.2" points="351.5,541 358.5,541.5 365.5,541 370.5,542"/>
<polyline stroke-width="1.5" stroke-opacity="0.3" points="374.5,542 382.5,544 389.5,548"/>
<polyline stroke-width="2.4" stroke-opacity="0.4" stroke-dasharray="0.8 1.9" points="374.5,542 382.5,544 389.5,548"/>
<polyline stroke-width="2.8" stroke-opacity="0.8" points="350.5,563 357.5,562 364.5,563 368.5,562"/>
<polyline stroke-width="4.5" stroke-opacity="0.9" stroke-dasharray="0.8 3.6" points="350.5,563 357.5,562 364.5,563 368.5,562"/>
<polyline stroke-width="2.8" stroke-opacity="0.8" points="350.5,572 358.5,571 365.5,572 370.5,573"/>
<polyline stroke-width="4.5" stroke-opacity="1" stroke-dasharray="0.8 3.6" points="350.5,572 358.5,571 365.5,572 370.5,573"/>
<polyline stroke-width="2.8" stroke-opacity="0.8" points="351.5,580 358.5,581 365.5,580 370.5,578"/>
<polyline stroke-width="4.5" stroke-opacity="0.9" stroke-dasharray="0.8 3.6" points="351.5,580 358.5,581 365.5,580 370.5,578"/>
<polyline stroke-width="2.8" stroke-opacity="0.8" points="368.5,561 370.5,567 370.5,573 369.5,579"/>
<polyline stroke-width="4.5" stroke-opacity="1" stroke-dasharray="0.8 3.6" points="368.5,561 370.5,567 370.5,573 369.5,579"/>
<polyline stroke-width="2.4" stroke-opacity="0.7" points="351.5,553 354.5,557"/>
<polyline stroke-width="3.7" stroke-opacity="0.8" stroke-dasharray="0.8 3" points="351.5,553 354.5,557"/>
<polyline stroke-width="3.2" stroke-opacity="0.8" points="360.5,552 361.5,553"/>
<polyline stroke-width="5" stroke-opacity="0.9" stroke-dasharray="0.8 4.1" points="360.5,552 361.5,553"/>
<polyline stroke-width="1.5" stroke-opacity="0.4" points="354.5,548 364.5,550 372.5,556"/>
<polyline stroke-width="2.4" stroke-opacity="0.5" stroke-dasharray="0.8 1.9" points="354.5,548 364.5,550 372.5,556"/>
<polyline stroke-width="1.3" stroke-opacity="0.3" points="372.5,548 378.5,553 384.5,556 390.5,552"/>
<polyline stroke-width="2.1" stroke-opacity="0.3" stroke-dasharray="0.8 1.7" points="372.5,548 378.5,553 384.5,556 390.5,552"/>
<polyline stroke-width="1.3" stroke-opacity="0.3" points="385.5,545 394.5,548 400.5,552 407.5,549 414.5,553"/>
<polyline stroke-width="2.1" stroke-opacity="0.3" stroke-dasharray="0.8 1.7" points="385.5,545 394.5,548 400.5,552 407.5,549 414.5,553"/>
<polyline stroke-width="1.5" stroke-opacity="0.4" points="402.5,545 410.5,550 417.5,558 420.5,565 419.5,572"/>
<polyline stroke-width="2.4" stroke-opacity="0.5" stroke-dasharray="0.8 1.9" points="402.5,545 410.5,550 417.5,558 420.5,565 419.5,572"/>
<polyline stroke-width="1.5" stroke-opacity="0.4" points="398.5,556 404.5,562 408.5,568 406.5,574"/>
<polyline stroke-width="2.4" stroke-opacity="0.5" stroke-dasharray="0.8 1.9" points="398.5,556 404.5,562 408.5,568 406.5,574"/>
<polyline stroke-width="1.3" stroke-opacity="0.3" points="390.5,560 395.5,566 400.5,571"/>
<polyline stroke-width="2.1" stroke-opacity="0.4" stroke-dasharray="0.8 1.7" points="390.5,560 395.5,566 400.5,571"/>
<polyline stroke-width="1.3" stroke-opacity="0.3" points="380.5,560 386.5,564"/>
<polyline stroke-width="2.1" stroke-opacity="0.3" stroke-dasharray="0.8 1.7" points="380.5,560 386.5,564"/>
<polyline stroke-width="2.1" stroke-opacity="0.6" points="393.5,569 396.5,566 399.5,568 399.5,576 395.5,578 393.5,574"/>
<polyline stroke-width="3.3" stroke-opacity="0.7" stroke-dasharray="0.8 2.7" points="393.5,569 396.5,566 399.5,568 399.5,576 395.5,578 393.5,574"/>
<polyline stroke-width="2.5" stroke-opacity="0.7" points="400.5,578 406.5,575 412.5,576 420.5,577 428.5,577 435.5,578"/>
<polyline stroke-width="3.9" stroke-opacity="0.8" stroke-dasharray="0.8 3.2" points="400.5,578 406.5,575 412.5,576 420.5,577 428.5,577 435.5,578"/>
<polyline stroke-width="2.3" stroke-opacity="0.6" points="436.5,563 437.5,570 436.5,578"/>
<polyline stroke-width="3.6" stroke-opacity="0.8" stroke-dasharray="0.8 2.9" points="436.5,563 437.5,570 436.5,578"/>
<polyline stroke-width="3.6" stroke-opacity="0.8" points="401.5,578 402.5,579"/>
<polyline stroke-width="5.6" stroke-opacity="1" stroke-dasharray="0.8 4.6" points="401.5,578 402.5,579"/>
<polyline stroke-width="3.8" stroke-opacity="0.8" points="435.5,578 436.5,579"/>
<polyline stroke-width="5.9" stroke-opacity="1" stroke-dasharray="0.8 4.9" points="435.5,578 436.5,579"/>
<polyline stroke-width="2.8" stroke-opacity="0.8" points="416.5,574 417.5,575"/>
<polyline stroke-width="4.5" stroke-opacity="0.9" stroke-dasharray="0.8 3.6" points="416.5,574 417.5,575"/>
<polyline stroke-width="1.7" stroke-opacity="0.4" points="409.5,583 414.5,587 418.5,584"/>
<polyline stroke-width="2.7" stroke-opacity="0.5" stroke-dasharray="0.8 2.2" points="409.5,583 414.5,587 418.5,584"/>
<polyline stroke-width="1.7" stroke-opacity="0.4" points="422.5,582 428.5,586 432.5,587"/>
<polyline stroke-width="2.7" stroke-opacity="0.5" stroke-dasharray="0.8 2.2" points="422.5,582 428.5,586 432.5,587"/>
<polyline stroke-width="2.8" stroke-opacity="0.8" points="409,586 409,592 408.5,600 405.5,606 399.5,610 393.5,614 387.5,618 383.5,622"/>
<polyline stroke-width="4.5" stroke-opacity="0.9" stroke-dasharray="0.8 3.6" points="409,586 409,592 408.5,600 405.5,606 399.5,610 393.5,614 387.5,618 383.5,622"/>
<polyline stroke-width="2.5" stroke-opacity="0.6" points="408.5,600 413.5,606 412.5,613 405.5,618 400.5,621"/>
<polyline stroke-width="3.9" stroke-opacity="0.8" stroke-dasharray="0.8 3.2" points="408.5,600 413.5,606 412.5,613 405.5,618 400.5,621"/>
<polyline stroke-width="1.9" stroke-opacity="0.5" points="414.5,590 420.5,596"/>
<polyline stroke-width="3" stroke-opacity="0.6" stroke-dasharray="0.8 2.4" points="414.5,590 420.5,596"/>
<polyline stroke-width="1.9" stroke-opacity="0.5" points="427.5,590 432.5,587"/>
<polyline stroke-width="3" stroke-opacity="0.6" stroke-dasharray="0.8 2.4" points="427.5,590 432.5,587"/>
<polyline stroke-width="2.3" stroke-opacity="0.5" points="399.5,612 392.5,617 387.5,620"/>
<polyline stroke-width="3.6" stroke-opacity="0.6" stroke-dasharray="0.8 2.9" points="399.5,612 392.5,617 387.5,620"/>
<polyline stroke-width="2.8" stroke-opacity="0.8" points="351.5,619 354.5,618 358.5,621 362.5,626 366.5,622 370.5,619"/>
<polyline stroke-width="4.5" stroke-opacity="0.9" stroke-dasharray="0.8 3.6" points="351.5,619 354.5,618 358.5,621 362.5,626 366.5,622 370.5,619"/>
<polyline stroke-width="2.8" stroke-opacity="0.8" points="362.5,628 365.5,631 372.5,631 377.5,628 383.5,626"/>
<polyline stroke-width="4.5" stroke-opacity="0.9" stroke-dasharray="0.8 3.6" points="362.5,628 365.5,631 372.5,631 377.5,628 383.5,626"/>
<polyline stroke-width="3.6" stroke-opacity="0.8" points="391.5,623.5 392.5,624.5"/>
<polyline stroke-width="5.6" stroke-opacity="1" stroke-dasharray="0.8 4.6" points="391.5,623.5 392.5,624.5"/>
<polyline stroke-width="3" stroke-opacity="0.8" points="398.5,604 399.5,605"/>
<polyline stroke-width="4.8" stroke-opacity="0.9" stroke-dasharray="0.8 3.9" points="398.5,604 399.5,605"/>
<polyline stroke-width="2.8" stroke-opacity="0.8" points="377.5,601 385.5,603"/>
<polyline stroke-width="4.5" stroke-opacity="1" stroke-dasharray="0.8 3.6" points="377.5,601 385.5,603"/>
</g>
<rect x="247.8" y="538.8" width="96" height="96" fill="none" stroke="#f2c21b" stroke-width="1.4"/>
<rect x="350.3" y="538.8" width="96" height="96" fill="none" stroke="#f2c21b" stroke-width="1.4"/>
<rect x="278" y="629.4" width="62" height="1.6" fill="#fff"/>
<rect x="381" y="629.4" width="62" height="1.6" fill="#fff"/>
<clipPath id="c5"><rect x="467.4" y="538.7" width="97" height="95.5"/></clipPath>
<clipPath id="c6"><rect x="569.8" y="538.7" width="96.4" height="95.5"/></clipPath>
<rect x="467.4" y="538.7" width="97" height="95.5" fill="#000"/>
<g clip-path="url(#c5)"><path d="M467 538 L540 538 Q545 560 525 575 Q500 590 467 600 Z" fill="#1c1c1c" filter="url(#blur3)"/>
<path d="M467 575 L478 568 L492 568 L505 585 L520 586 L535 590 L547 592 L540 602 L530 612 L518 622 L505 627 L467 627 Z" fill="#2e2e2e" filter="url(#blur2)"/>
<path d="M467 575 L478 568 L492 568 L505 585 L520 586 L535 590 L547 592 L540 602 L530 612 L518 622 L505 627 L467 627 Z" fill="#fff" opacity="0.75" filter="url(#mw)"/></g>
<g clip-path="url(#c5)" fill="none" stroke="#f4f4f4" stroke-linecap="round" stroke-linejoin="round" filter="url(#blur07)">
<polyline stroke-width="4.3" stroke-opacity="0.8" points="486.7,562.7 495.9,564.2"/>
<polyline stroke-width="6.8" stroke-opacity="1" stroke-dasharray="0.8 5.6" points="486.7,562.7 495.9,564.2"/>
<polyline stroke-width="4.2" stroke-opacity="0.8" points="500.5,560 505.9,562.3 512,563.8 515,569"/>
<polyline stroke-width="6.5" stroke-opacity="1" stroke-dasharray="0.8 5.3" points="500.5,560 505.9,562.3 512,563.8 515,569"/>
<polyline stroke-width="4.3" stroke-opacity="0.8" points="513.5,540 516,550"/>
<polyline stroke-width="6.8" stroke-opacity="1" stroke-dasharray="0.8 5.6" points="513.5,540 516,550"/>
<polyline stroke-width="4.2" stroke-opacity="0.8" points="495.1,576.9 501.3,573.8 508.2,573 512,577.6"/>
<polyline stroke-width="6.5" stroke-opacity="1" stroke-dasharray="0.8 5.3" points="495.1,576.9 501.3,573.8 508.2,573 512,577.6"/>
<polyline stroke-width="3.8" stroke-opacity="0.8" points="502.8,576.9 509,578.4"/>
<polyline stroke-width="5.9" stroke-opacity="0.9" stroke-dasharray="0.8 4.9" points="502.8,576.9 509,578.4"/>
<polyline stroke-width="4.2" stroke-opacity="0.8" points="484.4,573.8 481.3,580 477.5,584.5"/>
<polyline stroke-width="6.5" stroke-opacity="1" stroke-dasharray="0.8 5.3" points="484.4,573.8 481.3,580 477.5,584.5"/>
<polyline stroke-width="3.4" stroke-opacity="0.5" points="472.1,564.6 470.6,569.2 469.8,575.3"/>
<polyline stroke-width="5.3" stroke-opacity="0.6" stroke-dasharray="0.8 4.4" points="472.1,564.6 470.6,569.2 469.8,575.3"/>
<polyline stroke-width="2.8" stroke-opacity="0.3" points="481.3,554.6 486,557"/>
<polyline stroke-width="4.5" stroke-opacity="0.3" stroke-dasharray="0.8 3.6" points="481.3,554.6 486,557"/>
<polyline stroke-width="2.5" stroke-opacity="0.3" points="505.1,544.7 502.8,553.9"/>
<polyline stroke-width="3.9" stroke-opacity="0.3" stroke-dasharray="0.8 3.2" points="505.1,544.7 502.8,553.9"/>
<polyline stroke-width="4.2" stroke-opacity="0.8" points="489,583 498.2,581.5"/>
<polyline stroke-width="6.5" stroke-opacity="1" stroke-dasharray="0.8 5.3" points="489,583 498.2,581.5"/>
<polyline stroke-width="3.8" stroke-opacity="0.8" points="468.3,583 470,590"/>
<polyline stroke-width="5.9" stroke-opacity="0.9" stroke-dasharray="0.8 4.9" points="468.3,583 470,590"/>
<polyline stroke-width="4.7" stroke-opacity="0.8" points="514,541.8 517.2,549"/>
<polyline stroke-width="7.4" stroke-opacity="1" stroke-dasharray="0.8 6.1" points="514,541.8 517.2,549"/>
<polyline stroke-width="6.6" stroke-opacity="0.8" points="518.4,557 518.5,557.2"/>
<polyline stroke-width="10.4" stroke-opacity="1" stroke-dasharray="0.8 8.5" points="518.4,557 518.5,557.2"/>
<polyline stroke-width="4.5" stroke-opacity="0.8" points="535.5,559.3 541.9,563.3 549.9,563.3 556.3,559.3 560.3,553 560.5,546.6 561,541"/>
<polyline stroke-width="7.1" stroke-opacity="1" stroke-dasharray="0.8 5.8" points="535.5,559.3 541.9,563.3 549.9,563.3 556.3,559.3 560.3,553 560.5,546.6 561,541"/>
<polyline stroke-width="4.7" stroke-opacity="0.8" points="554,541 558,545 557,551"/>
<polyline stroke-width="7.4" stroke-opacity="1" stroke-dasharray="0.8 6.1" points="554,541 558,545 557,551"/>
<polyline stroke-width="3.8" stroke-opacity="0.8" points="561.8,540.2 562.6,545"/>
<polyline stroke-width="5.9" stroke-opacity="1" stroke-dasharray="0.8 4.9" points="561.8,540.2 562.6,545"/>
<polyline stroke-width="4" stroke-opacity="0.8" points="555.5,572.1 554.7,579.3 552.3,586.4"/>
<polyline stroke-width="6.2" stroke-opacity="1" stroke-dasharray="0.8 5.1" points="555.5,572.1 554.7,579.3 552.3,586.4"/>
<polyline stroke-width="4" stroke-opacity="0.8" points="534,575.3 540.3,576.1 547.5,573.7"/>
<polyline stroke-width="6.2" stroke-opacity="1" stroke-dasharray="0.8 5.1" points="534,575.3 540.3,576.1 547.5,573.7"/>
<polyline stroke-width="4" stroke-opacity="0.8" points="531.5,580 537.9,581.7 541.9,586.4"/>
<polyline stroke-width="6.2" stroke-opacity="1" stroke-dasharray="0.8 5.1" points="531.5,580 537.9,581.7 541.9,586.4"/>
<polyline stroke-width="3.8" stroke-opacity="0.8" points="526.8,580 526,586.4"/>
<polyline stroke-width="5.9" stroke-opacity="1" stroke-dasharray="0.8 4.9" points="526.8,580 526,586.4"/>
<polyline stroke-width="2.8" stroke-opacity="0.3" points="538.7,548.2 539.5,553"/>
<polyline stroke-width="4.5" stroke-opacity="0.3" stroke-dasharray="0.8 3.6" points="538.7,548.2 539.5,553"/>
<polyline stroke-width="3.8" stroke-opacity="0.8" points="514.5,569 514,580"/>
<polyline stroke-width="5.9" stroke-opacity="0.9" stroke-dasharray="0.8 4.9" points="514.5,569 514,580"/>
<polyline stroke-width="4.5" stroke-opacity="0.8" points="517.2,600.2 518.8,606.5 522,608.1 526,605 526.8,601"/>
<polyline stroke-width="7.1" stroke-opacity="1" stroke-dasharray="0.8 5.8" points="517.2,600.2 518.8,606.5 522,608.1 526,605 526.8,601"/>
<polyline stroke-width="4.3" stroke-opacity="0.8" points="518,612.1 518,618.5 515.6,623.3"/>
<polyline stroke-width="6.8" stroke-opacity="1" stroke-dasharray="0.8 5.6" points="518,612.1 518,618.5 515.6,623.3"/>
<polyline stroke-width="4" stroke-opacity="0.8" points="532.3,601 537.9,599.4 543.5,597 544.3,592.2 541.9,589.8"/>
<polyline stroke-width="6.2" stroke-opacity="0.9" stroke-dasharray="0.8 5.1" points="532.3,601 537.9,599.4 543.5,597 544.3,592.2 541.9,589.8"/>
<polyline stroke-width="3.2" stroke-opacity="0.4" points="535.5,605 537.9,608.9"/>
<polyline stroke-width="5" stroke-opacity="0.5" stroke-dasharray="0.8 4.1" points="535.5,605 537.9,608.9"/>
<polyline stroke-width="4.2" stroke-opacity="0.8" points="550.7,585.8 552.3,588.2"/>
<polyline stroke-width="6.5" stroke-opacity="1" stroke-dasharray="0.8 5.3" points="550.7,585.8 552.3,588.2"/>
<polyline stroke-width="4.2" stroke-opacity="0.8" points="514,588 518,590.5"/>
<polyline stroke-width="6.5" stroke-opacity="1" stroke-dasharray="0.8 5.3" points="514,588 518,590.5"/>
<polyline stroke-width="4" stroke-opacity="0.8" points="528.4,587.4 531.5,591.4"/>
<polyline stroke-width="6.2" stroke-opacity="0.9" stroke-dasharray="0.8 5.1" points="528.4,587.4 531.5,591.4"/>
<polyline stroke-width="4.2" stroke-opacity="0.8" points="505.9,602 510.5,608 509,615.8 502.8,618.8"/>
<polyline stroke-width="6.5" stroke-opacity="1" stroke-dasharray="0.8 5.3" points="505.9,602 510.5,608 509,615.8 502.8,618.8"/>
<polyline stroke-width="4.2" stroke-opacity="0.8" points="490.5,622 499.7,625 510,623"/>
<polyline stroke-width="6.5" stroke-opacity="1" stroke-dasharray="0.8 5.3" points="490.5,622 499.7,625 510,623"/>
<polyline stroke-width="4.3" stroke-opacity="0.8" points="470,589 471,597 472,604"/>
<polyline stroke-width="6.8" stroke-opacity="1" stroke-dasharray="0.8 5.6" points="470,589 471,597 472,604"/>
<polyline stroke-width="4.3" stroke-opacity="0.8" points="478,601 483,603 489,606"/>
<polyline stroke-width="6.8" stroke-opacity="1" stroke-dasharray="0.8 5.6" points="478,601 483,603 489,606"/>
<polyline stroke-width="4" stroke-opacity="0.8" points="482,586 485,590 487,594"/>
<polyline stroke-width="6.2" stroke-opacity="0.9" stroke-dasharray="0.8 5.1" points="482,586 485,590 487,594"/>
<polyline stroke-width="4.2" stroke-opacity="0.8" points="490,600 495,604 501,609"/>
<polyline stroke-width="6.5" stroke-opacity="1" stroke-dasharray="0.8 5.3" points="490,600 495,604 501,609"/>
<polyline stroke-width="4.7" stroke-opacity="0.8" points="494,621 500,623"/>
<polyline stroke-width="7.4" stroke-opacity="1" stroke-dasharray="0.8 6.1" points="494,621 500,623"/>
<polyline stroke-width="4.2" stroke-opacity="0.8" points="474,618 480,620 486,619 491,620"/>
<polyline stroke-width="6.5" stroke-opacity="1" stroke-dasharray="0.8 5.3" points="474,618 480,620 486,619 491,620"/>
<polyline stroke-width="4.2" stroke-opacity="0.8" points="469,618 472,623"/>
<polyline stroke-width="6.5" stroke-opacity="1" stroke-dasharray="0.8 5.3" points="469,618 472,623"/>
<polyline stroke-width="3.2" stroke-opacity="0.5" points="499,593 505,596 509,597"/>
<polyline stroke-width="5" stroke-opacity="0.6" stroke-dasharray="0.8 4.1" points="499,593 505,596 509,597"/>
<polyline stroke-width="3.4" stroke-opacity="0.6" points="476,610 482,612 488,613"/>
<polyline stroke-width="5.3" stroke-opacity="0.7" stroke-dasharray="0.8 4.4" points="476,610 482,612 488,613"/>
<polyline stroke-width="3.8" stroke-opacity="0.8" points="468,578 474,586"/>
<polyline stroke-width="5.9" stroke-opacity="0.9" stroke-dasharray="0.8 4.9" points="468,578 474,586"/>
<polyline stroke-width="3.4" stroke-opacity="0.6" points="490,588 496,590"/>
<polyline stroke-width="5.3" stroke-opacity="0.7" stroke-dasharray="0.8 4.4" points="490,588 496,590"/>
</g>
<rect x="569.8" y="538.7" width="96.4" height="95.5" fill="#000"/>
<g clip-path="url(#c6)"><path d="M566 536 L650 536 Q652 550 642 558 Q628 564 612 567 Q596 571 586 576 Q576 582 566 585 Z" fill="#1e9ea2" filter="url(#blur3)"/></g>
<g clip-path="url(#c6)"><path d="M467 575 L478 568 L492 568 L505 585 L520 586 L535 590 L547 592 L540 602 L530 612 L518 622 L505 627 L467 627 Z" fill="#ee2a30" opacity="0.7" filter="url(#mw)" transform="translate(102.4 0)"/></g>
<g clip-path="url(#c6)" fill="none" stroke="#ec2a2e" stroke-linecap="round" stroke-linejoin="round" filter="url(#blur07)">
<polyline stroke-width="4.3" stroke-opacity="0.8" points="589.1,562.7 598.3,564.2"/>
<polyline stroke-width="6.8" stroke-opacity="1" stroke-dasharray="0.8 5.6" points="589.1,562.7 598.3,564.2"/>
<polyline stroke-width="4.2" stroke-opacity="0.8" points="602.9,560 608.3,562.3 614.4,563.8 617.4,569"/>
<polyline stroke-width="6.5" stroke-opacity="1" stroke-dasharray="0.8 5.3" points="602.9,560 608.3,562.3 614.4,563.8 617.4,569"/>
<polyline stroke-width="4.3" stroke-opacity="0.8" points="615.9,540 618.4,550"/>
<polyline stroke-width="6.8" stroke-opacity="1" stroke-dasharray="0.8 5.6" points="615.9,540 618.4,550"/>
<polyline stroke-width="4.2" stroke-opacity="0.8" points="597.5,576.9 603.7,573.8 610.6,573 614.4,577.6"/>
<polyline stroke-width="6.5" stroke-opacity="1" stroke-dasharray="0.8 5.3" points="597.5,576.9 603.7,573.8 610.6,573 614.4,577.6"/>
<polyline stroke-width="3.8" stroke-opacity="0.8" points="605.2,576.9 611.4,578.4"/>
<polyline stroke-width="5.9" stroke-opacity="0.9" stroke-dasharray="0.8 4.9" points="605.2,576.9 611.4,578.4"/>
<polyline stroke-width="4.2" stroke-opacity="0.8" points="586.8,573.8 583.7,580 579.9,584.5"/>
<polyline stroke-width="6.5" stroke-opacity="1" stroke-dasharray="0.8 5.3" points="586.8,573.8 583.7,580 579.9,584.5"/>
<polyline stroke-width="3.4" stroke-opacity="0.5" points="574.5,564.6 573,569.2 572.2,575.3"/>
<polyline stroke-width="5.3" stroke-opacity="0.6" stroke-dasharray="0.8 4.4" points="574.5,564.6 573,569.2 572.2,575.3"/>
<polyline stroke-width="2.8" stroke-opacity="0.3" points="583.7,554.6 588.4,557"/>
<polyline stroke-width="4.5" stroke-opacity="0.3" stroke-dasharray="0.8 3.6" points="583.7,554.6 588.4,557"/>
<polyline stroke-width="2.5" stroke-opacity="0.3" points="607.5,544.7 605.2,553.9"/>
<polyline stroke-width="3.9" stroke-opacity="0.3" stroke-dasharray="0.8 3.2" points="607.5,544.7 605.2,553.9"/>
<polyline stroke-width="4.2" stroke-opacity="0.8" points="591.4,583 600.6,581.5"/>
<polyline stroke-width="6.5" stroke-opacity="1" stroke-dasharray="0.8 5.3" points="591.4,583 600.6,581.5"/>
<polyline stroke-width="3.8" stroke-opacity="0.8" points="570.7,583 572.4,590"/>
<polyline stroke-width="5.9" stroke-opacity="0.9" stroke-dasharray="0.8 4.9" points="570.7,583 572.4,590"/>
<polyline stroke-width="4.7" stroke-opacity="0.8" points="616.4,541.8 619.6,549"/>
<polyline stroke-width="7.4" stroke-opacity="1" stroke-dasharray="0.8 6.1" points="616.4,541.8 619.6,549"/>
<polyline stroke-width="6.6" stroke-opacity="0.8" points="620.8,557 620.9,557.2"/>
<polyline stroke-width="10.4" stroke-opacity="1" stroke-dasharray="0.8 8.5" points="620.8,557 620.9,557.2"/>
<polyline stroke-width="4.5" stroke-opacity="0.8" points="637.9,559.3 644.3,563.3 652.3,563.3 658.7,559.3 662.7,553 662.9,546.6 663.4,541"/>
<polyline stroke-width="7.1" stroke-opacity="1" stroke-dasharray="0.8 5.8" points="637.9,559.3 644.3,563.3 652.3,563.3 658.7,559.3 662.7,553 662.9,546.6 663.4,541"/>
<polyline stroke-width="4.7" stroke-opacity="0.8" points="656.4,541 660.4,545 659.4,551"/>
<polyline stroke-width="7.4" stroke-opacity="1" stroke-dasharray="0.8 6.1" points="656.4,541 660.4,545 659.4,551"/>
<polyline stroke-width="3.8" stroke-opacity="0.8" points="664.2,540.2 665,545"/>
<polyline stroke-width="5.9" stroke-opacity="1" stroke-dasharray="0.8 4.9" points="664.2,540.2 665,545"/>
<polyline stroke-width="4" stroke-opacity="0.8" points="657.9,572.1 657.1,579.3 654.7,586.4"/>
<polyline stroke-width="6.2" stroke-opacity="1" stroke-dasharray="0.8 5.1" points="657.9,572.1 657.1,579.3 654.7,586.4"/>
<polyline stroke-width="4" stroke-opacity="0.8" points="636.4,575.3 642.7,576.1 649.9,573.7"/>
<polyline stroke-width="6.2" stroke-opacity="1" stroke-dasharray="0.8 5.1" points="636.4,575.3 642.7,576.1 649.9,573.7"/>
<polyline stroke-width="4" stroke-opacity="0.8" points="633.9,580 640.3,581.7 644.3,586.4"/>
<polyline stroke-width="6.2" stroke-opacity="1" stroke-dasharray="0.8 5.1" points="633.9,580 640.3,581.7 644.3,586.4"/>
<polyline stroke-width="3.8" stroke-opacity="0.8" points="629.2,580 628.4,586.4"/>
<polyline stroke-width="5.9" stroke-opacity="1" stroke-dasharray="0.8 4.9" points="629.2,580 628.4,586.4"/>
<polyline stroke-width="2.8" stroke-opacity="0.3" points="641.1,548.2 641.9,553"/>
<polyline stroke-width="4.5" stroke-opacity="0.3" stroke-dasharray="0.8 3.6" points="641.1,548.2 641.9,553"/>
<polyline stroke-width="3.8" stroke-opacity="0.8" points="616.9,569 616.4,580"/>
<polyline stroke-width="5.9" stroke-opacity="0.9" stroke-dasharray="0.8 4.9" points="616.9,569 616.4,580"/>
<polyline stroke-width="4.5" stroke-opacity="0.8" points="619.6,600.2 621.2,606.5 624.4,608.1 628.4,605 629.2,601"/>
<polyline stroke-width="7.1" stroke-opacity="1" stroke-dasharray="0.8 5.8" points="619.6,600.2 621.2,606.5 624.4,608.1 628.4,605 629.2,601"/>
<polyline stroke-width="4.3" stroke-opacity="0.8" points="620.4,612.1 620.4,618.5 618,623.3"/>
<polyline stroke-width="6.8" stroke-opacity="1" stroke-dasharray="0.8 5.6" points="620.4,612.1 620.4,618.5 618,623.3"/>
<polyline stroke-width="4" stroke-opacity="0.8" points="634.7,601 640.3,599.4 645.9,597 646.7,592.2 644.3,589.8"/>
<polyline stroke-width="6.2" stroke-opacity="0.9" stroke-dasharray="0.8 5.1" points="634.7,601 640.3,599.4 645.9,597 646.7,592.2 644.3,589.8"/>
<polyline stroke-width="3.2" stroke-opacity="0.4" points="637.9,605 640.3,608.9"/>
<polyline stroke-width="5" stroke-opacity="0.5" stroke-dasharray="0.8 4.1" points="637.9,605 640.3,608.9"/>
<polyline stroke-width="4.2" stroke-opacity="0.8" points="653.1,585.8 654.7,588.2"/>
<polyline stroke-width="6.5" stroke-opacity="1" stroke-dasharray="0.8 5.3" points="653.1,585.8 654.7,588.2"/>
<polyline stroke-width="4.2" stroke-opacity="0.8" points="616.4,588 620.4,590.5"/>
<polyline stroke-width="6.5" stroke-opacity="1" stroke-dasharray="0.8 5.3" points="616.4,588 620.4,590.5"/>
<polyline stroke-width="4" stroke-opacity="0.8" points="630.8,587.4 633.9,591.4"/>
<polyline stroke-width="6.2" stroke-opacity="0.9" stroke-dasharray="0.8 5.1" points="630.8,587.4 633.9,591.4"/>
<polyline stroke-width="4.2" stroke-opacity="0.8" points="608.3,602 612.9,608 611.4,615.8 605.2,618.8"/>
<polyline stroke-width="6.5" stroke-opacity="1" stroke-dasharray="0.8 5.3" points="608.3,602 612.9,608 611.4,615.8 605.2,618.8"/>
<polyline stroke-width="4.2" stroke-opacity="0.8" points="592.9,622 602.1,625 612.4,623"/>
<polyline stroke-width="6.5" stroke-opacity="1" stroke-dasharray="0.8 5.3" points="592.9,622 602.1,625 612.4,623"/>
<polyline stroke-width="4.3" stroke-opacity="0.8" points="572.4,589 573.4,597 574.4,604"/>
<polyline stroke-width="6.8" stroke-opacity="1" stroke-dasharray="0.8 5.6" points="572.4,589 573.4,597 574.4,604"/>
<polyline stroke-width="4.3" stroke-opacity="0.8" points="580.4,601 585.4,603 591.4,606"/>
<polyline stroke-width="6.8" stroke-opacity="1" stroke-dasharray="0.8 5.6" points="580.4,601 585.4,603 591.4,606"/>
<polyline stroke-width="4" stroke-opacity="0.8" points="584.4,586 587.4,590 589.4,594"/>
<polyline stroke-width="6.2" stroke-opacity="0.9" stroke-dasharray="0.8 5.1" points="584.4,586 587.4,590 589.4,594"/>
<polyline stroke-width="4.2" stroke-opacity="0.8" points="592.4,600 597.4,604 603.4,609"/>
<polyline stroke-width="6.5" stroke-opacity="1" stroke-dasharray="0.8 5.3" points="592.4,600 597.4,604 603.4,609"/>
<polyline stroke-width="4.7" stroke-opacity="0.8" points="596.4,621 602.4,623"/>
<polyline stroke-width="7.4" stroke-opacity="1" stroke-dasharray="0.8 6.1" points="596.4,621 602.4,623"/>
<polyline stroke-width="4.2" stroke-opacity="0.8" points="576.4,618 582.4,620 588.4,619 593.4,620"/>
<polyline stroke-width="6.5" stroke-opacity="1" stroke-dasharray="0.8 5.3" points="576.4,618 582.4,620 588.4,619 593.4,620"/>
<polyline stroke-width="4.2" stroke-opacity="0.8" points="571.4,618 574.4,623"/>
<polyline stroke-width="6.5" stroke-opacity="1" stroke-dasharray="0.8 5.3" points="571.4,618 574.4,623"/>
<polyline stroke-width="3.2" stroke-opacity="0.5" points="601.4,593 607.4,596 611.4,597"/>
<polyline stroke-width="5" stroke-opacity="0.6" stroke-dasharray="0.8 4.1" points="601.4,593 607.4,596 611.4,597"/>
<polyline stroke-width="3.4" stroke-opacity="0.6" points="578.4,610 584.4,612 590.4,613"/>
<polyline stroke-width="5.3" stroke-opacity="0.7" stroke-dasharray="0.8 4.4" points="578.4,610 584.4,612 590.4,613"/>
<polyline stroke-width="3.8" stroke-opacity="0.8" points="570.4,578 576.4,586"/>
<polyline stroke-width="5.9" stroke-opacity="0.9" stroke-dasharray="0.8 4.9" points="570.4,578 576.4,586"/>
<polyline stroke-width="3.4" stroke-opacity="0.6" points="592.4,588 598.4,590"/>
<polyline stroke-width="5.3" stroke-opacity="0.7" stroke-dasharray="0.8 4.4" points="592.4,588 598.4,590"/>
</g>
<g clip-path="url(#c6)"><path d="M566 536 L650 536 Q652 550 642 558 Q628 564 612 567 Q596 571 586 576 Q576 582 566 585 Z" fill="#7fe0e0" opacity="0.3" filter="url(#blur3)"/></g>
<g fill="#5ee8ee" clip-path="url(#c6)">
<circle cx="603" cy="573" r="1.4"/>
<circle cx="616" cy="588" r="1.4"/>
<circle cx="628" cy="600" r="1.4"/>
<circle cx="640" cy="592" r="1.4"/>
<circle cx="655" cy="585" r="1.4"/>
<circle cx="600" cy="603" r="1.4"/>
<circle cx="612" cy="612" r="1.4"/>
<circle cx="633" cy="615" r="1.4"/>
<circle cx="646" cy="620" r="1.4"/>
<circle cx="598" cy="620" r="1.4"/>
<circle cx="620" cy="626" r="1.4"/>
<circle cx="587" cy="583" r="1.4"/>
<circle cx="652" cy="568" r="1.4"/>
<circle cx="660" cy="552" r="1.4"/>
</g>
<rect x="467.4" y="538.7" width="97" height="95.5" fill="none" stroke="#a23fa6" stroke-width="1.4"/>
<rect x="569.8" y="538.7" width="96.4" height="95.5" fill="none" stroke="#a23fa6" stroke-width="1.4"/>
<rect x="498.5" y="630.6" width="61.5" height="1.6" fill="#fff"/>
<rect x="601.3" y="630.6" width="61.5" height="1.6" fill="#fff"/>
</svg>
</body></html>
